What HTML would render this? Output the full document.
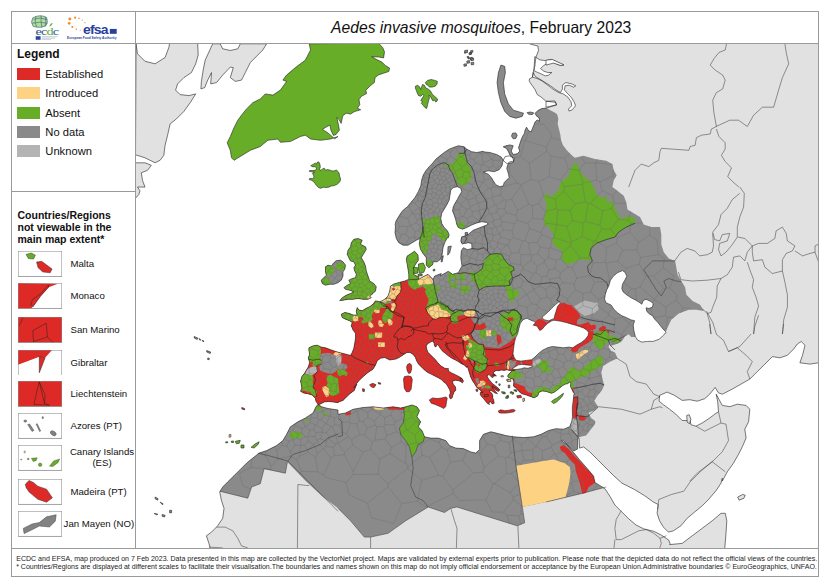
<!DOCTYPE html>
<html><head><meta charset="utf-8"><title>Aedes invasive mosquitoes, February 2023</title>
<style>
html,body{margin:0;padding:0;background:#fff;}
body{width:830px;height:587px;position:relative;overflow:hidden;font-family:"Liberation Sans",sans-serif;color:#111;}
.abs{position:absolute;}
.ln{position:absolute;background:#9a9a9a;}
.title{position:absolute;left:140.2px;top:19.2px;width:682px;text-align:center;font-size:15.66px;line-height:18px;color:#111;white-space:nowrap;}
.leg-h{position:absolute;left:17px;top:47.3px;font-weight:bold;font-size:12px;line-height:15px;}
.sw{position:absolute;left:17px;width:23px;height:12px;}
.lb{position:absolute;left:45.3px;font-size:11.2px;line-height:14px;white-space:nowrap;}
.h2{position:absolute;left:17.5px;top:208.5px;font-weight:bold;font-size:10.5px;line-height:12px;white-space:nowrap;}
.bx{position:absolute;left:17px;width:44px;height:25px;border:0.7px solid #8a8a8a;box-sizing:border-box;overflow:hidden;background:#fff}
.bl{position:absolute;left:70.5px;font-size:9.65px;line-height:12px;white-space:nowrap;}
.ft{position:absolute;left:16.2px;font-size:7.1px;line-height:8px;white-space:nowrap;color:#222;}
</style></head><body>
<svg width="830" height="587" viewBox="0 0 830 587" style="position:absolute;left:0;top:0">
<defs><clipPath id="mapclip"><rect x="136" y="43.5" width="682.5" height="504.5"/></clipPath>
<clipPath id="land"><path d="M529.9,43.5 L818.5,43.5 L818.5,362.8 L818.7,362.8 L810.0,364.1 L799.9,362.8 L802.5,355.3 L805.0,345.3 L801.2,341.5 L797.4,344.0 L793.7,349.0 L787.4,355.3 L779.9,357.8 L772.4,356.6 L764.9,364.1 L757.3,371.6 L749.8,379.1 L741.0,384.1 L732.3,389.1 L722.3,394.2 L718.5,392.9 L715.2,387.4 L709.7,394.2 L704.7,398.7 L697.2,401.2 L689.7,399.7 L682.2,400.4 L674.6,395.4 L667.1,392.1 L659.6,395.4 L659.1,401.2 L663.4,404.7 L669.6,409.2 L675.9,414.2 L682.2,420.5 L686.7,420.5 L689.7,418.0 L690.9,424.7 L695.9,426.2 L702.2,423.0 L709.7,418.0 L714.7,414.2 L718.5,411.7 L717.7,401.7 L716.2,394.2 L719.2,399.7 L722.3,405.4 L729.8,406.7 L737.3,404.2 L746.1,405.4 L749.8,409.2 L748.6,421.7 L744.8,429.2 L746.1,438.0 L742.3,446.8 L738.5,454.3 L733.5,463.1 L727.3,471.8 L722.3,481.1 L722.3,478.2 L721.0,483.2 L716.0,490.7 L708.5,499.5 L702.2,505.8 L694.7,512.0 L687.2,518.3 L680.9,525.8 L673.4,530.8 L668.4,532.1 L663.4,527.1 L659.6,520.8 L657.1,513.3 L658.3,504.5 L653.3,502.0 L644.6,495.7 L634.5,489.5 L622.0,483.2 L613.7,475.7 L604.9,466.9 L597.4,459.4 L589.9,451.9 L583.6,446.9 L579.6,448.1 L579.1,438.1 L577.8,438.1 L577.6,448.9 L573.6,451.1 L563.0,440.1 L561.5,440.6 L567.3,445.1 L573.6,452.6 L579.8,460.1 L587.4,468.7 L593.6,476.2 L594.9,482.4 L604.9,488.7 L609.9,496.2 L614.9,505.0 L621.2,511.3 L628.7,518.8 L636.2,525.1 L643.7,528.8 L653.8,531.3 L661.3,535.1 L668.8,540.1 L670.1,543.9 L669.6,544.6 L682.2,543.4 L692.2,535.8 L702.2,528.3 L712.2,520.8 L721.0,513.3 L725.3,513.3 L726.8,520.8 L726.0,533.3 L724.8,547.9 L724.8,552.0 L210.0,552.0 L210.2,547.9 L208.9,543.4 L206.4,535.8 L211.5,532.1 L217.7,525.8 L222.7,518.3 L224.0,508.3 L221.5,500.7 L219.7,492.0 L222.7,487.0 L227.7,481.9 L234.0,475.7 L240.3,469.4 L246.5,463.2 L252.8,458.1 L259.1,453.1 L266.6,450.6 L276.6,445.6 L282.9,440.6 L286.6,434.3 L290.4,426.8 L297.9,421.8 L305.4,418.0 L313.0,413.0 L316.0,406.8 L318.0,404.3 L321.7,406.8 L328.0,408.5 L338.0,410.0 L338.0,414.3 L345.5,413.0 L353.0,409.3 L363.1,407.5 L373.1,406.8 L383.1,408.0 L393.1,406.8 L400.7,408.0 L405.7,406.8 L411.9,405.0 L416.9,406.8 L419.5,410.5 L416.9,416.8 L420.7,421.8 L418.2,426.8 L422.0,430.6 L424.5,436.8 L430.7,438.1 L438.3,438.1 L445.8,440.6 L449.5,445.6 L455.8,448.1 L463.3,448.6 L470.8,451.9 L475.8,453.1 L479.6,449.4 L479.6,440.6 L483.4,434.3 L490.9,431.8 L498.4,433.6 L505.9,435.6 L513.4,436.8 L523.5,437.6 L533.5,436.8 L541.0,434.3 L546.0,431.8 L548.5,430.5 L556.0,428.7 L563.5,429.2 L569.8,426.7 L570.0,425.8 L571.7,421.7 L572.5,416.7 L572.3,407.4 L572.8,403.5 L573.3,399.7 L573.7,395.8 L574.2,393.3 L573.3,392.4 L571.8,389.0 L571.1,388.0 L570.5,386.1 L570.8,383.2 L569.7,382.0 L567.9,383.6 L565.5,384.1 L562.6,385.6 L559.7,388.0 L556.7,390.4 L553.8,392.4 L551.4,393.3 L549.0,392.4 L546.1,391.4 L542.2,390.9 L538.8,392.4 L537.8,395.8 L534.4,397.7 L532.0,397.2 L532.0,396.9 L529.6,396.2 L525.7,394.8 L521.8,393.8 L518.9,391.4 L516.9,388.5 L515.0,387.4 L513.5,386.1 L513.9,381.9 L512.9,379.0 L510.5,378.5 L508.1,377.0 L507.6,376.1 L509.5,373.2 L512.4,370.7 L515.3,369.8 L512.4,370.4 L509.5,370.4 L506.6,369.8 L504.2,370.4 L501.7,370.0 L498.8,370.7 L496.4,370.4 L494.0,371.7 L493.0,373.2 L495.0,374.6 L496.4,376.1 L494.0,375.6 L492.5,375.1 L493.5,377.0 L492.0,377.5 L490.6,376.1 L489.1,374.6 L487.7,375.1 L487.2,376.6 L488.6,379.0 L490.6,381.4 L492.0,383.3 L494.0,384.8 L495.9,386.3 L498.3,388.2 L499.8,390.1 L498.3,390.6 L496.4,389.2 L494.0,387.7 L492.0,386.7 L493.5,389.2 L495.4,391.6 L497.4,393.5 L495.0,393.1 L493.0,391.6 L491.1,390.6 L489.1,391.1 L492.0,393.5 L493.0,396.5 L492.2,396.6 L493.6,399.9 L494.2,403.2 L492.2,403.9 L490.2,401.2 L488.9,403.2 L489.6,404.5 L487.6,403.6 L485.6,401.2 L483.6,398.6 L481.6,396.6 L480.3,394.6 L480.3,392.6 L483.0,391.7 L482.3,393.1 L479.9,389.7 L477.0,387.7 L474.6,383.8 L472.6,380.9 L470.7,377.0 L469.2,372.2 L467.3,365.9 L466.7,367.5 L464.3,365.1 L461.9,363.9 L458.9,362.0 L455.9,360.2 L452.2,358.4 L448.6,356.0 L445.6,353.6 L442.6,351.2 L440.1,348.1 L438.3,345.1 L437.1,344.5 L435.9,346.9 L434.7,346.3 L434.1,343.3 L432.9,341.1 L430.5,342.1 L427.4,343.9 L426.2,346.3 L426.8,349.3 L428.0,352.4 L430.5,354.8 L432.9,357.2 L435.3,359.6 L437.7,362.6 L440.7,365.7 L444.4,368.1 L446.2,368.5 L448.6,368.7 L448.2,369.7 L449.2,371.7 L451.6,372.9 L455.3,374.7 L458.9,376.6 L461.9,378.4 L463.1,380.8 L461.9,382.0 L458.9,380.8 L455.3,380.2 L452.2,381.4 L453.4,384.4 L455.3,386.8 L455.9,389.9 L454.0,392.3 L452.8,395.3 L452.2,397.7 L450.4,398.9 L449.2,395.9 L450.4,392.9 L449.8,389.9 L448.0,386.8 L446.2,383.8 L443.8,382.0 L441.3,379.6 L438.3,377.8 L434.7,375.9 L431.1,374.1 L427.4,372.3 L424.4,369.9 L421.4,366.9 L418.4,363.9 L416.6,360.8 L415.3,357.2 L412.9,354.2 L409.9,352.4 L406.9,352.4 L403.3,354.8 L399.6,357.2 L396.0,359.0 L394.7,359.2 L389.7,360.0 L384.7,357.5 L380.5,358.3 L377.2,360.8 L375.5,365.0 L373.0,369.2 L368.0,372.5 L363.0,376.7 L358.8,380.8 L355.5,385.0 L353.8,387.8 L356.8,384.1 L354.3,390.4 L349.3,394.2 L343.0,400.4 L338.0,402.2 L338.3,402.7 L333.2,402.0 L328.1,401.4 L324.3,402.0 L320.4,404.0 L318.5,404.7 L316.0,401.4 L315.3,398.2 L312.1,395.0 L307.7,393.7 L303.8,393.1 L300.6,391.2 L301.9,388.0 L301.3,384.8 L300.6,381.0 L301.9,376.5 L304.5,373.3 L306.4,370.1 L308.3,366.9 L309.6,362.5 L308.3,358.0 L309.6,354.2 L308.9,350.3 L308.9,347.8 L312.8,345.9 L317.2,345.2 L321.1,347.1 L325.5,347.8 L330.7,349.7 L335.8,351.6 L340.9,352.9 L346.0,354.2 L350.4,355.4 L352.2,352.5 L353.8,348.3 L354.7,343.3 L355.5,338.3 L355.5,333.3 L353.0,330.0 L351.3,325.8 L352.2,322.5 L349.7,320.8 L345.5,319.2 L342.2,317.5 L341.3,314.2 L344.7,312.5 L348.8,313.3 L353.0,315.0 L357.2,315.0 L356.3,311.7 L357.2,307.5 L358.8,310.0 L362.2,310.8 L366.3,308.3 L369.7,306.7 L373.0,304.2 L375.5,300.8 L379.7,301.7 L382.2,300.7 L384.7,299.3 L388.0,296.0 L389.7,291.0 L390.5,286.0 L393.8,284.0 L399.7,282.3 L404.7,281.0 L408.8,279.3 L408.8,274.3 L408.0,269.3 L407.2,264.3 L406.3,259.3 L407.2,256.0 L411.3,253.5 L414.5,251.2 L418.0,255.0 L418.3,260.3 L415.5,264.2 L413.7,267.7 L414.5,271.5 L413.2,274.0 L416.0,275.8 L419.0,276.8 L418.3,279.8 L421.3,277.7 L428.0,274.3 L433.0,279.3 L434.7,276.0 L441.3,273.5 L440.0,276.0 L448.3,271.3 L452.5,274.3 L458.3,272.7 L462.0,266.0 L460.8,257.7 L461.3,251.0 L463.3,247.7 L467.5,249.7 L472.0,248.5 L471.7,243.5 L468.3,242.7 L465.0,243.5 L461.3,242.7 L461.7,237.7 L468.3,234.3 L473.3,230.2 L484.2,226.0 L488.3,224.2 L486.7,222.5 L481.7,221.7 L476.7,223.0 L471.7,225.0 L466.7,227.5 L462.5,229.2 L458.3,227.5 L456.7,224.2 L455.8,220.0 L454.2,215.0 L452.5,210.8 L453.3,206.7 L455.0,203.3 L457.5,199.2 L459.2,195.8 L461.7,191.7 L460.8,188.3 L457.5,186.7 L453.3,187.5 L450.8,190.0 L450.0,195.0 L449.2,200.0 L446.7,205.0 L444.2,209.2 L441.7,213.3 L440.8,218.3 L441.7,223.3 L444.2,227.5 L447.5,230.8 L449.2,235.0 L448.3,237.8 L447.2,237.7 L444.7,242.7 L443.0,247.7 L442.2,254.3 L440.5,259.3 L437.2,261.8 L433.0,261.8 L433.0,264.3 L428.8,267.7 L426.3,265.2 L426.3,260.2 L426.3,257.7 L423.0,253.5 L420.5,249.3 L419.3,244.3 L420.0,238.5 L416.3,240.2 L412.2,242.7 L408.0,245.2 L403.0,245.2 L398.8,242.7 L396.3,238.5 L395.0,232.7 L395.5,226.0 L395.1,224.6 L396.1,220.8 L400.7,213.3 L403.3,210.0 L407.5,206.7 L410.8,202.5 L415.0,197.5 L418.3,191.7 L420.8,185.8 L421.7,180.0 L423.3,175.0 L425.8,170.8 L429.2,166.7 L432.5,163.3 L435.8,159.2 L440.0,155.8 L444.2,152.5 L449.2,149.2 L453.3,147.5 L458.3,145.8 L464.2,146.7 L466.7,149.2 L471.7,151.7 L476.7,152.5 L483.3,151.3 L483.3,151.8 L489.9,152.5 L496.6,154.5 L501.2,157.1 L503.9,161.1 L507.2,163.8 L509.9,161.8 L513.8,161.1 L512.5,157.1 L509.9,155.1 L508.5,151.8 L506.5,148.5 L503.2,146.8 L505.9,145.8 L509.9,144.9 L513.2,145.8 L512.5,147.8 L511.2,151.1 L513.2,154.5 L517.2,153.8 L519.8,151.1 L518.5,147.8 L519.8,143.8 L521.1,139.9 L522.5,136.5 L524.5,133.2 L525.1,129.9 L526.5,127.2 L528.5,130.6 L531.1,131.9 L532.4,128.6 L533.8,125.2 L535.1,121.9 L537.1,119.9 L539.7,121.3 L539.1,117.9 L536.4,115.9 L535.1,113.3 L537.8,110.6 L541.7,108.6 L546.4,108.0 L551.8,106.4 L556.5,105.1 L555.8,102.4 L545.8,101.1 L541.2,97.1 L537.2,94.5 L535.2,89.8 L531.9,85.2 L529.2,81.2 L529.5,78.8 L532.5,77.2 L533.2,72.5 L534.8,66.6 L535.9,57.3 L538.5,50.6 L537.9,46.0 L529.9,44.0 L529.9,42.7Z M353.8,239.3 L358.0,238.5 L362.2,240.2 L360.5,244.3 L365.5,246.8 L366.3,249.3 L363.8,253.5 L361.3,257.7 L363.8,261.8 L365.5,266.0 L366.3,271.0 L368.0,276.0 L369.7,281.0 L373.8,283.5 L376.3,286.8 L375.5,291.0 L373.0,293.5 L369.7,296.0 L371.3,297.7 L368.0,299.3 L363.0,299.3 L358.0,298.5 L353.0,299.3 L348.0,299.3 L343.0,300.2 L339.7,300.7 L342.2,297.7 L346.3,295.2 L350.5,293.5 L353.8,291.8 L349.7,290.2 L345.5,289.3 L343.8,287.7 L347.2,285.2 L350.5,283.5 L348.8,280.2 L352.2,278.5 L355.5,277.7 L356.3,274.3 L354.7,271.0 L353.8,267.7 L355.5,265.2 L353.8,261.8 L350.5,261.0 L348.8,257.7 L347.2,254.3 L348.0,250.2 L350.5,246.8 L351.3,242.7Z M325.5,266.8 L328.0,265.2 L331.3,266.0 L333.8,262.7 L336.3,260.7 L340.5,260.2 L343.0,261.8 L345.5,265.2 L344.7,269.3 L343.0,271.8 L343.0,276.0 L341.3,280.2 L338.0,282.7 L333.8,284.3 L329.7,284.3 L325.5,285.2 L322.2,283.5 L321.3,280.2 L323.8,277.7 L326.3,275.2 L325.5,271.8Z"/></clipPath></defs>
<g clip-path="url(#mapclip)">
<g clip-path="url(#land)">
<rect x="130" y="40" width="700" height="520" fill="#e1e1e1"/>
<path d="M546.4,108.0 L549.7,110.0 L553.7,112.0 L557.0,113.9 L558.3,118.6 L557.7,123.9 L559.0,129.2 L560.3,134.5 L561.0,139.9 L563.0,145.2 L567.0,150.5 L572.3,155.8 L574.8,157.8 L583.6,155.8 L594.9,159.0 L606.2,160.8 L612.4,164.1 L613.7,170.3 L616.7,175.3 L613.7,180.4 L612.4,187.1 L617.4,190.8 L623.7,195.8 L626.2,202.0 L627.5,209.6 L633.7,213.3 L640.0,217.1 L643.7,224.6 L651.3,227.1 L660.0,227.1 L661.3,234.6 L661.3,244.6 L663.8,252.2 L668.8,258.4 L675.1,260.9 L676.3,267.2 L677.6,274.7 L681.3,281.0 L685.1,287.3 L686.4,294.8 L692.6,301.0 L700.1,304.8 L703.9,311.1 L696.4,309.8 L688.9,309.8 L678.8,313.6 L671.3,319.8 L667.6,327.4 L665.0,334.1 L655.0,330.0 L635.3,337.1 L631.1,337.1 L628.2,333.5 L625.3,335.7 L623.2,339.3 L621.0,342.1 L616.0,344.3 L610.3,346.0 L610.0,342.5 L608.6,347.1 L611.3,351.1 L615.0,352.4 L617.5,358.3 L610.0,361.7 L603.3,365.8 L601.3,372.5 L602.5,379.2 L604.2,385.0 L602.0,390.3 L597.5,395.8 L594.2,400.8 L598.3,407.0 L593.3,410.8 L588.3,413.0 L591.3,418.3 L595.3,421.3 L594.9,424.3 L586.1,435.6 L578.6,437.3 L578.8,449.4 L589.9,461.1 L602.4,478.2 L606.0,487.0 L581.0,493.7 L546.0,502.0 L522.2,507.0 L524.7,522.8 L517.2,525.8 L480.9,514.5 L457.0,507.0 L450.8,508.3 L444.5,512.5 L428.2,507.0 L405.7,520.8 L388.1,533.3 L370.6,537.1 L364.3,537.1 L350.5,520.8 L338.0,508.3 L323.0,497.0 L305.4,480.7 L287.4,461.9 L285.4,473.2 L264.1,468.7 L260.3,483.7 L251.6,487.0 L247.8,498.2 L219.7,491.2 L180.0,491.0 L180.0,44.0 L522.0,44.0 L522.0,100.0 L534.0,111.0 L540.0,108.0Z" fill="#8a8a8a"/>
<path d="M296.0,395.0 L296.0,340.0 L330.0,340.0 L345.0,292.0 L384.7,304.3 L391.3,303.0 L395.5,296.0 L398.0,291.0 L399.7,286.0 L400.5,281.8 L408.8,280.2 L414.7,284.3 L418.0,285.2 L423.0,286.8 L427.2,290.2 L429.7,296.0 L431.3,301.0 L428.0,306.0 L425.5,308.5 L430.0,305.0 L440.0,306.7 L450.0,310.0 L457.5,315.8 L465.0,315.0 L475.0,316.7 L478.3,318.3 L475.3,323.3 L473.7,330.0 L470.8,334.2 L473.3,339.2 L478.3,343.7 L483.3,344.7 L484.2,349.2 L500.0,350.0 L510.0,346.7 L513.3,343.7 L518.3,343.7 L512.9,354.7 L513.9,357.6 L516.3,359.6 L520.7,361.0 L520.7,363.9 L517.3,364.4 L514.4,370.2 L514.4,388.7 L514.0,406.5 L476.0,406.5 L470.0,400.5 L348.0,400.5 L344.0,405.3 L296.0,405.3Z" fill="#de2a26"/>
<path d="M532.2,325.2 L536.9,319.9 L540.2,318.6 L542.9,319.9 L546.8,322.5 L550.8,319.9 L552.2,320.8 L547.5,323.9 L544.9,326.1 L542.2,329.6 L539.8,330.9 L537.9,328.3 L536.6,326.4Z" fill="#de2a26"/>
<path d="M556.1,307.3 L559.5,303.9 L563.5,302.6 L567.4,304.6 L571.4,305.3 L574.1,308.6 L577.4,311.3 L579.4,313.9 L580.5,317.2 L577.4,319.9 L576.7,323.9 L580.1,324.8 L584.7,323.2 L588.7,321.9 L590.7,325.2 L595.3,324.5 L596.0,328.5 L592.7,329.9 L590.0,330.5 L592.7,332.5 L593.3,335.8 L591.4,339.2 L588.7,342.5 L584.7,344.5 L580.7,345.8 L577.4,347.8 L577.8,351.1 L575.4,352.4 L572.1,350.4 L570.8,347.1 L576.7,343.1 L584.7,337.8 L587.4,332.5 L584.7,329.2 L576.7,326.5 L566.1,323.2 L555.5,321.2 L552.8,318.6 L554.8,311.3Z" fill="#de2a26"/>
<path d="M599.3,328.5 L603.3,325.9 L606.0,327.2 L602.6,330.5 L600.0,331.2Z" fill="#de2a26"/>
<path d="M607.3,330.5 L609.3,331.2 L608.6,333.2Z" fill="#de2a26"/>
<path d="M598.9,328.5 L603.2,325.7 L606.0,327.1 L605.3,330.0 L601.7,332.1 L599.6,331.4Z" fill="#de2a26"/>
<path d="M606.7,330.7 L609.6,331.4 L608.2,333.5Z" fill="#de2a26"/>
<path d="M571.7,348.3 L575.8,345.8 L580.8,343.3 L585.0,340.8 L587.5,336.7 L590.0,333.3 L592.5,330.0 L594.2,334.2 L592.5,339.2 L588.3,342.5 L584.2,345.0 L580.0,347.5 L576.7,350.8 L573.3,352.5 L570.8,350.0Z" fill="#de2a26"/>
<path d="M521.7,361.3 L527.5,359.7 L532.5,359.3 L532.5,365.0 L527.5,365.3 L522.5,365.3Z" fill="#de2a26"/>
<path d="M513.1,382.2 L515.0,383.2 L517.9,384.1 L521.8,385.6 L524.7,386.6 L525.7,390.0 L528.6,392.4 L533.0,392.9 L532.0,397.7 L529.6,396.7 L525.7,395.3 L521.8,394.3 L518.9,391.9 L516.9,389.0 L514.0,388.0Z" fill="#de2a26"/>
<path d="M570.5,388.5 L572.5,387.8 L573.9,390.9 L574.6,393.6 L572.8,392.7 L571.1,390.4Z" fill="#de2a26"/>
<path d="M573.3,397.5 L577.5,396.7 L578.0,403.3 L576.7,410.0 L578.3,415.0 L575.8,418.3 L573.0,418.0 L572.7,410.0 L573.3,403.3Z" fill="#de2a26"/>
<path d="M578.3,415.8 L582.5,415.8 L586.7,418.3 L583.3,420.8 L579.2,420.0Z" fill="#de2a26"/>
<path d="M559.8,446.9 L563.5,445.1 L568.6,448.9 L573.6,455.1 L579.8,461.4 L586.1,468.2 L594.1,475.2 L595.1,482.7 L588.6,487.0 L586.1,492.7 L582.3,493.7 L579.8,483.2 L576.1,471.9 L574.8,464.4 L569.8,459.4 L564.8,453.1 L561.0,450.6Z" fill="#de2a26"/>
<path d="M345.0,413.5 L350.5,411.0 L351.0,414.5 L346.0,415.5Z" fill="#de2a26"/>
<path d="M386.9,406.3 L400.7,405.5 L405.2,407.5 L403.7,410.0 L399.4,409.8 L388.1,409.5Z" fill="#de2a26"/>
<path d="M470.8,318.3 L478.3,317.5 L485.0,313.3 L496.7,312.5 L503.3,316.7 L508.3,320.0 L511.7,325.0 L510.0,330.8 L512.5,335.8 L514.2,337.5 L510.0,341.7 L499.2,348.3 L485.0,346.7 L481.7,340.8 L480.0,336.7 L479.2,330.0 L475.0,330.0 L474.2,323.3Z" fill="#8a8a8a"/>
<path d="M512.9,361.0 L516.5,361.0 L515.5,364.9 L512.9,368.1 L510.3,369.5 L509.7,364.4 L509.0,359.6 L510.5,359.6Z" fill="#8a8a8a"/>
<path d="M505.6,362.5 L507.1,362.0 L506.8,368.8 L505.4,368.3Z" fill="#8a8a8a"/>
<path d="M475.5,378.5 L478.0,378.0 L479.4,381.9 L478.0,383.8 L476.0,382.4Z" fill="#8a8a8a"/>
<path d="M480.9,385.8 L484.3,385.3 L484.8,388.2 L481.8,388.7Z" fill="#8a8a8a"/>
<path d="M470.7,359.6 L473.1,359.6 L473.6,362.5 L471.7,363.0Z" fill="#8a8a8a"/>
<path d="M485.2,345.0 L498.8,345.0 L498.3,348.4 L489.1,349.4 L484.8,348.9Z" fill="#8a8a8a"/>
<path d="M320.4,354.2 L324.3,352.9 L329.4,352.9 L333.2,354.8 L336.4,355.4 L337.0,359.3 L337.0,365.0 L342.1,363.1 L346.6,364.4 L347.5,367.6 L345.3,370.1 L340.9,368.8 L337.7,369.5 L335.1,372.0 L331.3,374.0 L327.5,373.3 L323.6,372.0 L320.4,370.8 L319.2,367.6 L320.4,365.0 L321.7,361.8 L319.2,359.3 L320.4,356.1Z" fill="#8a8a8a"/>
<path d="M576.1,162.1 L579.8,170.3 L583.6,176.6 L589.9,180.4 L593.6,187.1 L596.1,194.5 L602.4,198.3 L606.2,195.8 L607.4,203.3 L612.4,200.8 L614.9,208.3 L621.2,219.6 L628.7,215.8 L635.0,218.3 L635.0,223.3 L626.2,227.1 L618.7,232.1 L614.9,237.1 L606.2,239.6 L596.1,243.4 L591.1,248.4 L589.9,254.7 L592.4,260.9 L586.1,259.7 L578.6,259.7 L571.1,263.4 L564.8,263.4 L561.0,257.2 L562.3,250.9 L556.0,247.2 L552.3,242.1 L553.5,234.6 L549.8,228.4 L546.0,224.6 L543.5,226.0 L545.0,215.0 L547.0,205.0 L544.0,197.0 L546.0,193.3 L551.0,197.0 L557.3,192.0 L559.8,187.0 L561.0,181.6 L568.6,176.6 L571.1,167.8Z" fill="#67ad27"/>
<path d="M444.2,162.5 L448.3,165.0 L453.3,163.3 L456.7,156.7 L459.2,153.3 L464.2,153.3 L465.0,158.3 L467.5,162.5 L470.0,166.7 L471.7,172.5 L470.8,180.0 L466.7,184.2 L461.7,185.8 L457.5,183.3 L455.8,177.5 L453.3,172.5 L449.2,167.5 L445.0,165.0Z" fill="#67ad27"/>
<path d="M455.8,223.3 L460.0,222.0 L464.2,223.3 L465.8,225.8 L463.3,228.3 L459.2,228.7 L456.7,226.7Z" fill="#67ad27"/>
<path d="M422.5,216.7 L427.5,220.0 L431.7,218.3 L434.2,215.8 L439.2,216.7 L440.8,220.0 L440.0,225.0 L442.5,228.3 L446.7,230.8 L448.3,235.0 L447.5,237.8 L449.7,231.0 L448.8,237.7 L444.7,241.8 L441.3,239.3 L438.0,236.0 L434.7,232.7 L433.0,234.3 L431.3,239.3 L428.8,242.7 L428.0,247.7 L426.3,253.5 L423.0,253.5 L420.5,249.3 L419.7,242.7 L420.5,234.3 L423.0,226.0 L423.3,233.3 L424.2,226.7 L423.3,221.7Z" fill="#67ad27"/>
<path d="M425.5,260.2 L433.0,260.2 L433.8,264.3 L428.8,268.5 L425.5,265.2Z" fill="#67ad27"/>
<path d="M405.5,256.0 L411.3,252.7 L415.5,249.3 L420.0,254.3 L420.3,261.0 L417.5,264.7 L416.3,267.7 L416.7,271.5 L415.5,274.0 L418.0,275.2 L421.0,276.8 L420.0,280.2 L418.0,279.3 L417.7,282.7 L419.7,285.2 L415.5,285.2 L411.3,283.5 L408.8,280.2 L408.0,274.3 L407.2,269.3 L406.3,264.3 L405.0,259.3Z" fill="#67ad27"/>
<path d="M407.8,280.7 L411.7,280.0 L417.5,279.5 L418.3,283.2 L420.9,285.1 L421.8,287.0 L416.5,288.5 L414.6,290.0 L410.7,287.5 L408.3,285.1Z" fill="#67ad27"/>
<path d="M423.0,284.3 L433.0,283.5 L434.7,287.7 L435.5,292.7 L437.2,297.7 L438.0,301.8 L434.7,303.5 L431.3,301.8 L430.0,296.0 L427.2,290.2 L423.8,286.8Z" fill="#67ad27"/>
<path d="M425.4,308.3 L429.3,305.3 L434.1,301.5 L437.0,300.0 L439.0,301.5 L443.8,303.9 L447.7,305.3 L448.7,308.7 L452.6,311.2 L456.5,312.1 L459.9,310.2 L462.3,309.7 L463.3,312.6 L461.3,314.6 L457.9,316.0 L456.9,318.0 L458.9,320.9 L457.4,322.8 L454.5,323.8 L452.1,322.8 L451.1,320.9 L450.1,318.4 L451.1,315.5 L450.1,314.1 L447.7,311.7 L444.8,310.2 L441.4,309.7 L440.0,306.8 L438.0,304.4 L434.1,305.8 L430.2,307.3 L426.8,309.7Z" fill="#67ad27"/>
<path d="M424.7,290.0 L437.2,290.0 L436.3,295.0 L438.0,300.0 L433.0,302.5 L426.3,306.7 L428.8,300.0 L426.3,295.0Z" fill="#67ad27"/>
<path d="M353.8,239.3 L358.0,238.5 L362.2,240.2 L360.5,244.3 L365.5,246.8 L366.3,249.3 L363.8,253.5 L361.3,257.7 L363.8,261.8 L365.5,266.0 L366.3,271.0 L368.0,276.0 L369.7,281.0 L373.8,283.5 L376.3,286.8 L375.5,291.0 L373.0,293.5 L369.7,296.0 L371.3,297.7 L368.0,299.3 L363.0,299.3 L358.0,298.5 L353.0,299.3 L348.0,299.3 L343.0,300.2 L339.7,300.7 L342.2,297.7 L346.3,295.2 L350.5,293.5 L353.8,291.8 L349.7,290.2 L345.5,289.3 L343.8,287.7 L347.2,285.2 L350.5,283.5 L348.8,280.2 L352.2,278.5 L355.5,277.7 L356.3,274.3 L354.7,271.0 L353.8,267.7 L355.5,265.2 L353.8,261.8 L350.5,261.0 L348.8,257.7 L347.2,254.3 L348.0,250.2 L350.5,246.8 L351.3,242.7Z" fill="#67ad27"/>
<path d="M324.7,266.0 L328.0,264.3 L332.2,266.0 L334.7,269.7 L332.2,274.3 L328.0,276.0 L324.7,272.7Z" fill="#67ad27"/>
<path d="M335.5,264.3 L338.8,261.8 L343.0,261.8 L346.3,265.2 L345.5,269.7 L342.2,270.7 L338.0,269.7 L336.0,267.3Z" fill="#67ad27"/>
<path d="M320.5,279.3 L323.8,276.8 L328.0,278.5 L331.0,281.8 L329.7,285.2 L325.5,286.0 L321.3,284.3Z" fill="#67ad27"/>
<path d="M368.8,334.2 L374.7,334.2 L374.7,339.2 L368.8,339.2Z" fill="#67ad27"/>
<path d="M485.0,259.3 L490.0,254.3 L496.7,253.5 L501.7,254.3 L504.2,259.3 L508.3,264.3 L513.3,266.8 L514.2,270.2 L510.8,271.8 L512.5,277.7 L509.2,281.0 L510.0,285.2 L505.0,286.0 L495.0,286.0 L485.0,286.8 L479.2,290.2 L476.7,284.3 L475.0,279.3 L474.2,274.3 L478.3,271.8 L482.5,268.5 L483.3,263.5Z" fill="#67ad27"/>
<path d="M505.0,286.0 L510.0,286.0 L513.3,290.2 L518.3,289.3 L517.5,294.3 L513.3,297.7 L510.8,301.8 L508.3,297.7 L506.7,291.8Z" fill="#67ad27"/>
<path d="M512.3,309.9 L516.3,310.6 L519.6,313.2 L521.6,316.6 L520.9,320.6 L518.9,323.2 L518.3,328.5 L517.6,333.8 L515.0,336.5 L511.0,337.2 L510.3,332.5 L505.0,329.9 L501.0,327.2 L499.7,316.6 L505.0,312.6 L509.0,311.9Z" fill="#67ad27"/>
<path d="M509.0,290.0 L518.3,290.0 L518.9,294.0 L515.6,298.0 L511.6,302.0 L509.0,299.3 L507.7,294.0Z" fill="#67ad27"/>
<path d="M448.3,272.7 L453.3,271.8 L457.5,276.0 L456.7,282.7 L457.5,287.7 L452.5,288.5 L449.2,284.3 L447.5,279.3Z" fill="#67ad27"/>
<path d="M459.2,273.5 L465.0,273.5 L465.0,281.0 L460.0,281.0Z" fill="#67ad27"/>
<path d="M470.0,271.8 L474.2,271.8 L475.8,281.8 L471.7,281.8Z" fill="#67ad27"/>
<path d="M460.8,286.0 L469.2,286.0 L469.2,292.7 L460.8,292.7Z" fill="#67ad27"/>
<path d="M434.7,286.8 L438.0,286.0 L440.5,287.7 L438.0,291.0 L435.5,291.8Z" fill="#67ad27"/>
<path d="M467.5,337.5 L471.7,340.0 L478.3,344.2 L483.3,345.0 L485.0,350.0 L483.3,355.0 L487.5,359.2 L486.7,363.3 L481.7,364.2 L478.3,362.5 L474.2,360.8 L470.0,358.3 L465.8,356.7 L467.5,350.0 L470.0,345.8Z" fill="#67ad27"/>
<path d="M465.8,345.0 L482.8,345.0 L483.8,349.9 L485.7,353.7 L484.3,356.7 L486.2,358.1 L488.6,360.5 L488.2,362.5 L485.7,363.0 L486.7,365.9 L485.7,369.3 L482.3,371.2 L478.9,373.2 L476.0,372.2 L474.1,369.3 L474.6,365.9 L477.0,363.9 L475.5,361.5 L473.1,359.6 L471.2,360.5 L469.2,358.6 L467.3,355.7 L468.3,351.8 L466.3,348.9Z" fill="#67ad27"/>
<path d="M479.2,330.0 L485.8,329.2 L487.5,335.8 L483.3,339.2 L480.0,336.7Z" fill="#67ad27"/>
<path d="M491.3,330.8 L495.8,330.8 L497.5,335.0 L493.3,335.8Z" fill="#67ad27"/>
<path d="M494.5,363.0 L497.4,362.5 L499.8,364.9 L496.9,365.9 L494.0,364.9Z" fill="#67ad27"/>
<path d="M484.8,385.8 L488.2,385.3 L491.1,387.2 L489.1,388.7 L485.2,388.2Z" fill="#67ad27"/>
<path d="M531.5,397.7 L533.0,392.4 L535.9,389.5 L540.2,387.5 L544.1,386.6 L548.0,388.5 L550.4,390.4 L553.3,388.5 L553.8,386.6 L556.7,385.1 L560.1,382.7 L562.6,378.3 L565.5,375.9 L567.4,371.5 L570.3,368.1 L573.3,367.1 L575.7,368.6 L577.1,371.0 L581.0,369.6 L584.9,366.7 L588.8,362.8 L592.7,359.9 L595.0,357.9 L602.4,355.0 L602.4,365.7 L595.0,369.6 L590.7,372.5 L586.8,375.4 L583.0,376.4 L579.1,377.8 L576.2,379.8 L573.3,380.7 L573.3,384.1 L573.7,387.0 L572.8,388.0 L571.3,388.5 L569.4,387.0 L567.9,385.1 L565.5,385.6 L562.6,387.0 L559.7,389.5 L556.7,391.9 L553.8,393.8 L551.4,394.8 L549.0,393.8 L546.1,392.9 L542.2,392.4 L539.3,393.8 L538.3,397.2 L534.4,399.2Z" fill="#67ad27"/>
<path d="M534.4,366.7 L538.3,364.7 L541.2,360.8 L544.1,360.3 L548.5,361.8 L549.0,365.7 L548.0,367.6 L550.9,369.6 L552.4,372.0 L550.9,373.0 L548.5,370.5 L546.1,372.0 L543.2,373.0 L541.7,370.5 L540.7,367.6 L537.3,367.1Z" fill="#67ad27"/>
<path d="M507.6,377.5 L509.0,373.2 L512.9,370.4 L516.3,370.0 L518.3,372.7 L522.1,374.1 L523.6,376.1 L521.2,377.5 L517.3,378.0 L514.4,378.5 L510.5,379.0Z" fill="#67ad27"/>
<path d="M532.3,393.5 L533.8,391.6 L536.7,390.1 L540.0,389.7 L543.5,390.6 L543.5,396.5 L536.7,397.9 L532.3,397.9Z" fill="#67ad27"/>
<path d="M593.3,334.5 L596.7,333.8 L600.7,334.5 L603.3,331.2 L606.0,329.9 L608.0,333.8 L611.3,336.5 L615.0,337.2 L615.0,339.8 L610.0,340.5 L606.0,343.1 L603.3,347.1 L600.7,349.8 L598.0,347.1 L597.3,343.1 L594.0,340.5 L592.7,336.5Z" fill="#67ad27"/>
<path d="M596.0,332.1 L600.3,331.4 L604.6,330.7 L606.7,333.5 L610.3,336.4 L616.0,337.1 L619.6,339.3 L620.3,342.1 L617.5,343.6 L613.2,341.4 L609.6,340.0 L606.0,342.1 L601.7,346.0 L596.0,347.8 L593.1,342.1Z" fill="#67ad27"/>
<path d="M405.7,405.5 L411.9,403.8 L418.2,405.5 L422.0,410.5 L419.5,416.8 L423.2,421.8 L420.7,426.8 L424.5,430.6 L425.7,437.6 L423.2,441.8 L418.2,444.4 L415.7,451.9 L411.9,456.9 L409.4,446.9 L405.7,440.6 L400.7,434.3 L399.4,428.1 L403.2,423.1 L404.4,415.5 L403.7,409.3Z" fill="#67ad27"/>
<path d="M290.4,433.0 L296.7,431.2 L302.9,434.3 L301.7,436.8 L294.2,438.8 L289.1,436.8Z" fill="#67ad27"/>
<path d="M323.0,412.9 L328.0,412.9 L326.7,415.5 L323.0,415.5Z" fill="#67ad27"/>
<path d="M315.5,405.4 L320.5,405.4 L321.7,410.4 L316.7,410.4Z" fill="#67ad27"/>
<path d="M305.4,418.7 L308.4,418.2 L308.4,421.2 L305.4,421.7Z" fill="#67ad27"/>
<path d="M307.7,347.8 L312.8,345.2 L317.2,344.6 L320.4,347.1 L321.1,351.6 L320.4,356.1 L319.2,359.3 L321.7,361.8 L320.4,365.0 L316.6,366.3 L312.8,365.7 L309.6,362.5 L307.0,358.0 L308.3,354.2Z" fill="#67ad27"/>
<path d="M299.4,381.0 L301.9,376.5 L305.1,373.3 L307.7,374.6 L312.1,375.2 L313.4,378.4 L312.8,382.3 L314.0,386.1 L312.8,388.6 L315.3,389.3 L317.2,391.8 L316.0,396.3 L312.1,395.0 L309.6,391.2 L307.7,393.7 L303.8,393.1 L299.4,391.2 L300.6,388.0 L300.0,384.8Z" fill="#67ad27"/>
<path d="M325.5,375.9 L330.7,374.8 L334.5,377.1 L338.3,378.4 L338.3,383.5 L339.0,388.6 L339.6,392.5 L337.0,394.4 L332.6,396.0 L330.0,395.0 L329.4,391.2 L328.1,387.4 L326.2,385.4 L327.5,383.5 L326.2,379.7Z" fill="#67ad27"/>
<path d="M337.0,370.1 L340.9,368.8 L345.3,370.8 L347.9,373.3 L346.6,375.9 L342.8,374.8 L339.6,376.5 L337.7,374.0Z" fill="#67ad27"/>
<path d="M366.4,361.8 L368.3,361.8 L368.3,363.4 L366.4,363.4Z" fill="#67ad27"/>
<path d="M338.8,312.5 L344.7,310.8 L351.3,312.5 L351.3,324.2 L345.5,320.3 L341.0,318.3Z" fill="#67ad27"/>
<path d="M349.1,313.8 L356.4,306.5 L359.4,306.1 L373.9,304.8 L377.3,299.3 L379.8,299.1 L380.2,301.9 L383.2,303.1 L385.8,305.3 L386.6,307.4 L384.1,308.2 L381.5,307.8 L379.8,309.9 L374.3,309.5 L373.9,311.6 L372.6,313.8 L371.7,316.3 L372.6,319.7 L370.4,321.4 L367.9,321.9 L365.8,323.1 L362.8,323.6 L361.1,321.4 L358.5,320.6 L355.1,321.4 L353.0,320.6 L349.1,323.1Z" fill="#67ad27"/>
<path d="M392.2,286.1 L394.3,284.1 L397.7,282.7 L400.7,283.1 L401.5,286.1 L400.3,286.5 L397.7,285.7 L394.3,286.9Z" fill="#67ad27"/>
<path d="M385.8,308.7 L387.9,308.2 L390.0,310.8 L392.6,312.1 L393.0,315.5 L392.2,318.9 L390.0,319.7 L387.5,318.9 L387.5,322.3 L384.9,323.1 L382.8,321.4 L381.9,318.0 L382.8,314.6 L384.9,312.1Z" fill="#67ad27"/>
<path d="M407.9,281.4 L411.3,277.6 L420.7,277.6 L420.7,285.7 L417.3,286.9 L415.2,289.5 L412.6,288.2 L409.6,286.1Z" fill="#67ad27"/>
<path d="M385.8,301.0 L388.8,300.6 L389.6,302.3 L387.5,303.6 L385.8,302.7Z" fill="#67ad27"/>
<path d="M516.4,465.7 L546.0,460.6 L553.5,459.4 L564.8,463.2 L569.8,466.9 L570.6,473.2 L569.1,483.2 L567.3,490.7 L565.5,497.0 L546.0,502.0 L522.2,507.0Z" fill="#fdd282"/>
<path d="M418.0,279.3 L421.3,277.7 L428.0,274.7 L430.5,277.7 L433.0,280.2 L433.0,283.5 L428.0,284.3 L423.0,284.3 L419.7,285.2 L417.7,282.7Z" fill="#fdd282"/>
<path d="M426.8,309.7 L430.2,307.3 L434.1,305.8 L438.0,304.4 L440.0,306.8 L441.4,309.7 L444.8,310.2 L447.7,311.7 L450.1,314.1 L451.1,315.5 L447.7,317.0 L443.8,317.5 L439.5,317.3 L436.1,319.2 L433.2,318.4 L430.2,316.0 L427.8,313.1Z" fill="#fdd282"/>
<path d="M464.2,311.7 L467.1,309.7 L472.0,309.7 L475.4,310.7 L475.1,314.6 L473.0,317.0 L468.1,316.5 L465.2,315.5 L463.7,313.6Z" fill="#fdd282"/>
<path d="M374.7,332.5 L382.2,332.5 L382.2,337.5 L375.5,337.5Z" fill="#fdd282"/>
<path d="M378.0,342.5 L384.7,342.5 L384.7,346.7 L378.3,346.7Z" fill="#fdd282"/>
<path d="M461.7,335.8 L467.5,335.0 L470.0,338.3 L465.8,340.8 L462.5,340.0Z" fill="#fdd282"/>
<path d="M468.3,343.3 L471.7,343.3 L471.7,347.5 L468.7,347.5Z" fill="#fdd282"/>
<path d="M466.8,350.3 L469.2,350.8 L469.7,354.7 L467.8,358.6 L465.3,360.5 L462.9,358.6 L464.4,355.7 L466.3,353.7Z" fill="#fdd282"/>
<path d="M468.7,345.0 L471.7,345.0 L471.2,347.4 L469.2,347.4Z" fill="#fdd282"/>
<path d="M507.1,360.0 L509.0,359.6 L509.7,364.4 L509.0,369.3 L507.1,369.8 L506.4,366.4 L507.4,363.4Z" fill="#fdd282"/>
<path d="M479.9,380.9 L483.3,380.4 L485.7,382.4 L485.2,384.8 L481.8,385.8 L479.4,387.2 L477.0,386.7 L478.0,384.3 L479.9,383.3Z" fill="#fdd282"/>
<path d="M485.8,330.8 L490.8,330.0 L491.3,335.8 L486.7,336.3Z" fill="#fdd282"/>
<path d="M575.8,354.2 L580.0,352.5 L583.3,350.0 L587.5,350.0 L588.3,351.7 L584.2,354.2 L580.8,356.7 L578.3,359.7 L576.3,357.5Z" fill="#fdd282"/>
<path d="M371.8,406.3 L384.4,406.3 L383.1,410.0 L375.6,409.5Z" fill="#fdd282"/>
<path d="M378.1,342.8 L384.4,342.8 L384.4,347.0 L378.6,347.0Z" fill="#fdd282"/>
<path d="M375.6,334.0 L381.9,334.0 L380.6,337.8 L375.6,337.8Z" fill="#fdd282"/>
<path d="M322.3,386.7 L325.5,386.1 L328.7,388.6 L329.6,392.5 L328.7,396.3 L326.2,396.9 L324.3,393.7 L322.7,390.6Z" fill="#fdd282"/>
<path d="M333.2,354.2 L335.1,352.2 L339.6,351.6 L341.5,354.2 L338.3,354.8 L336.4,356.1Z" fill="#fdd282"/>
<path d="M389.6,286.5 L392.6,286.1 L394.3,286.9 L397.7,285.7 L400.3,286.5 L401.1,289.1 L400.3,292.5 L397.7,295.0 L396.0,297.6 L394.3,300.1 L391.7,299.7 L390.0,301.0 L387.5,300.6 L385.8,302.3 L383.2,302.7 L380.2,301.4 L379.4,299.3 L382.4,298.0 L384.9,298.9 L387.5,298.0 L385.8,296.3 L387.5,293.3 L388.8,289.9Z" fill="#fdd282"/>
<path d="M390.9,303.6 L394.3,303.1 L396.0,305.3 L395.6,307.8 L394.3,310.4 L392.6,311.6 L390.9,309.5 L391.7,307.0Z" fill="#fdd282"/>
<path d="M374.3,309.5 L379.8,309.9 L379.4,312.9 L375.6,313.3 L373.9,311.6Z" fill="#fdd282"/>
<path d="M387.5,319.3 L390.0,318.9 L392.6,321.4 L392.2,324.8 L389.2,325.7 L387.9,322.7Z" fill="#fdd282"/>
<path d="M378.5,320.6 L381.1,320.2 L382.4,323.1 L384.1,324.4 L382.4,327.0 L379.4,326.6 L378.1,324.0Z" fill="#fdd282"/>
<path d="M352.6,318.0 L354.3,315.5 L358.1,316.8 L358.5,320.6 L355.1,321.4 L353.0,320.6Z" fill="#fdd282"/>
<path d="M368.3,321.4 L370.4,321.4 L372.6,324.0 L373.9,326.6 L371.3,328.3 L368.3,325.7Z" fill="#fdd282"/>
<path d="M367.0,296.3 L370.4,295.5 L373.4,297.2 L372.1,298.9 L369.2,298.9 L367.5,298.0Z" fill="#fdd282"/>
<path d="M574.1,306.6 L579.4,303.3 L584.7,300.6 L591.4,302.0 L596.7,303.3 L598.7,308.6 L595.3,312.6 L590.0,314.6 L584.7,315.9 L580.7,313.2 L576.7,309.9Z" fill="#b4b4b4"/>
<path d="M532.5,364.7 L533.4,361.8 L535.9,359.9 L539.3,358.9 L541.0,360.3 L539.8,362.8 L536.8,364.2 L534.4,366.2Z" fill="#b4b4b4"/>
<path d="M572.3,418.0 L577.3,424.3 L578.6,436.8 L571.1,428.1Z" fill="#b4b4b4"/>
<path d="M573.3,419.2 L576.7,420.0 L577.0,427.8 L571.7,427.8Z" fill="#b4b4b4"/>
<path d="M596.0,302.1 L598.1,302.8 L598.1,310.6 L596.0,310.6Z" fill="#b4b4b4"/>
<path d="M305.1,373.3 L307.0,369.5 L310.2,367.6 L314.0,366.3 L317.2,366.9 L317.9,370.8 L315.3,373.3 L312.1,375.2 L307.7,374.6Z" fill="#b4b4b4"/>
<path d="M335.8,356.7 L338.3,354.8 L341.5,355.4 L341.5,360.5 L340.9,363.7 L337.7,365.7 L336.4,361.8Z" fill="#b4b4b4"/>
<path d="M474.2,323.3 L480.0,325.0 L484.2,322.5 L486.7,327.5 L481.7,330.0 L475.0,330.0Z" fill="#de2a26"/>
<path d="M496.7,334.2 L500.8,335.8 L501.7,341.7 L498.3,345.8 L496.7,340.0Z" fill="#de2a26"/>
<path d="M481.7,340.8 L485.0,346.7 L499.2,348.3 L510.0,341.7 L514.2,337.5 L515.8,337.5 L515.8,344.2 L510.0,347.0 L500.0,350.3 L485.0,349.5 L483.0,345.0Z" fill="#de2a26"/>
<path d="M507.5,317.5 L513.3,317.5 L513.3,320.8 L507.5,320.8Z" fill="#de2a26"/>
<path d="M477.5,364.4 L479.4,363.9 L479.9,365.9 L478.0,366.4Z" fill="#de2a26"/>
<path d="M310.5,361.8 L312.8,361.8 L312.8,364.6 L310.5,364.6Z" fill="#de2a26"/>
<path d="M299.4,391.2 L303.8,390.6 L307.7,391.8 L307.7,394.4 L303.8,393.7 L299.4,392.5Z" fill="#de2a26"/>
<path d="M313.4,378.4 L315.3,373.3 L319.2,371.4 L323.6,372.7 L327.5,375.9 L326.2,379.7 L327.5,383.5 L325.5,386.1 L322.3,386.7 L319.2,388.6 L315.3,389.3 L312.8,388.6 L314.0,386.1 L312.8,382.3Z" fill="#de2a26"/>
<path d="M392.2,288.2 L394.3,287.8 L395.1,289.5 L393.4,290.8 L392.2,289.9Z" fill="#de2a26"/>
<path d="M358.5,316.8 L362.8,317.2 L363.2,319.7 L361.1,321.4 L358.5,320.6Z" fill="#de2a26"/>
<path d="M380.2,308.2 L384.1,308.2 L385.8,309.1 L384.9,312.1 L382.4,313.3 L379.8,312.9Z" fill="#de2a26"/>
<path d="M387.5,304.4 L390.0,304.0 L390.9,306.1 L389.2,307.8 L387.5,307.0Z" fill="#de2a26"/>
<path d="M391.3,299.7 L393.9,299.3 L394.7,302.3 L392.2,302.7Z" fill="#de2a26"/>
<path d="M450.8,277.7 L455.0,277.7 L455.0,283.5 L450.8,283.5Z" fill="#8a8a8a"/>
<path d="M334.7,260.2 L341.3,260.2 L341.3,263.0 L335.5,263.5Z" fill="#8a8a8a"/>
<path d="M543.6,124.1l7.7,9.7M371.7,517.9l21.9,5.5M242.9,485.9l-3.5-12.8M250.9,489.1l-7.9-3.2M649.6,235.4l0.0-8.8M649.6,235.4l-11.0,6.9M642.8,222.7l-12.2,0.8M630.7,223.5l-1.1,8.7M638.7,242.3l-9.0-10.1M251.2,467.5l19.3,1.7M251.2,467.5l-11.8,5.6M270.9,470.1l-0.4-0.9M251.9,458.9l-0.7,8.6M259.9,452.8l5.3,2.7M270.5,469.2l0.9-2.9M265.2,455.6l6.2,10.8M371.7,517.9l-4.2-14.9M349.3,495.0l18.2,8.0M656.8,239.9l-7.2-4.5M676.4,300.2l6.6,7.4M676.4,300.2l0.4-5.2M683.0,307.7l7.5,0.7M598.3,299.4l-7.5-7.6M598.3,299.4l-1.2,5.4M582.8,305.7l-0.0-12.2M582.8,305.7l9.6,2.7M590.7,291.8l-7.9,1.7M597.0,304.8l-4.6,3.6M691.1,309.8l-0.5-1.5M683.0,307.7l-2.5,5.3M426.1,507.0l27.3-13.6M459.0,500.5l-5.6-7.2M421.6,480.2l-13.9-11.7M421.6,480.2l-4.4,21.0M407.7,468.5l-19.9,15.4M401.7,503.6l15.5-2.4M401.7,503.6l-13.7-16.8M388.0,486.8l-0.1-2.9M393.6,523.4l8.1-19.8M426.1,507.0l-8.9-5.8M367.5,503.0l20.5-16.2M419.1,421.5l0.5-1.2M419.1,421.5l1.6,0.3M453.1,490.0l0.3,3.4M453.1,490.0l-10.4-13.7M421.6,480.2l17.3-4.9M442.7,476.2l-3.8-0.9M313.2,166.2l2.6-0.2M313.2,166.2l-0.3,0.6M315.8,166.0l2.2,4.7M313.2,170.5l2.1,2.0M315.3,172.5l2.7-1.7M312.2,164.8l1.0,1.4M317.4,162.2l1.0,1.1M318.3,163.4l-2.6,2.6M311.6,180.3l-0.1-1.7M319.9,170.9l-1.9-0.2M319.9,170.9l1.1,3.8M321.0,174.7l-3.2,3.6M315.3,172.5l-0.6,2.0M317.8,178.3l-3.1-3.8M314.7,174.5l-1.4,0.4M318.3,163.4l1.2-0.0M319.9,170.9l0.9-0.7M588.2,321.7l-12.5-4.8M588.2,321.7l3.6-3.0M582.8,305.7l-5.9,4.4M591.8,318.7l0.6-10.4M575.7,316.9l1.2-6.9M590.7,291.8l3.9-9.8M582.8,293.5l-7.2-3.7M576.8,278.2l12.9-2.7M576.8,278.2l-2.8,6.1M574.1,284.3l1.5,5.5M589.7,275.5l4.9,6.5M638.7,242.3l-2.0,7.6M636.7,249.9l-13.9,0.2M629.6,232.2l-12.3,5.2M622.8,250.1l-6.2-7.1M617.3,237.3l-0.7,5.7M605.0,296.6l-6.7,2.8M597.0,304.8l11.4,9.4M612.1,306.5l-3.7,7.8M602.4,320.7l6.2-5.2M602.4,320.7l-10.6-2.0M608.4,314.2l0.2,1.3M667.0,328.9l-0.6-0.3M674.0,317.6l-6.7-0.4M667.3,317.2l-0.9,11.4M676.4,300.2l-10.5,6.7M665.9,306.9l-0.1,8.4M667.3,317.2l-1.5-1.8M419.1,411.5l-1.4-1.7M417.7,409.8l0.3-1.5M509.0,523.3l-2.0-8.0M507.0,515.3l-3.6-3.1M491.7,512.0l11.7,0.2M459.0,500.5l27.0-0.7M491.7,512.0l-5.6-12.3M446.9,449.8l-5.3-2.4M446.9,449.8l3.7,12.2M450.6,462.0l-7.9,14.2M438.9,475.3l-9.2-17.8M441.6,447.3l-11.9,10.2M394.0,424.5l2.7,7.4M394.0,424.5l-8.8,0.2M396.7,431.9l-9.8,3.5M386.9,435.4l-3.2-8.9M385.2,424.7l-1.5,1.8M376.8,426.7l6.9-0.3M376.8,426.7l-1.9,13.6M374.8,440.3l10.1-1.3M385.0,439.0l2.0-3.6M406.5,430.2l0.9,0.0M406.5,430.2l-2.4-9.5M404.0,420.7l7.5-3.2M411.6,417.5l4.7,4.1M407.4,430.2l8.8-8.6M419.1,421.5l-0.6,0.4M417.7,409.8l-6.4,3.3M411.6,417.5l-0.3-4.3M418.5,421.9l-2.3-0.3M400.7,434.1l0.4,7.7M400.7,434.1l-4.0-2.1M385.0,439.0l6.5,8.3M401.1,441.7l-9.7,5.6M265.2,455.6l0.9-4.8M299.0,473.9l2.6-2.5M301.5,471.4l-5.0-11.7M277.8,459.2l-6.4,7.2M277.8,459.2l12.8-2.9M290.6,456.3l6.0,3.5M303.6,374.4l4.9,0.2M308.3,366.9l0.6,0.4M308.9,367.3l0.4,6.3M308.5,374.5l0.7-0.9M305.8,417.8l0.2,0.5M306.0,418.3l-2.9,3.1M303.0,421.3l-2.7-0.8M300.7,391.2l-0.1-0.1M320.3,391.5l-4.9-1.3M320.3,391.5l0.7,2.8M315.4,390.2l-3.8,4.7M321.0,394.3l-2.3,4.2M313.2,396.1l5.5,2.3M549.2,176.7l11.2,3.4M549.2,176.7l1.7-20.5M560.4,180.0l8.1-11.0M568.5,169.0l-4.0-10.7M550.9,156.1l13.6,2.2M546.9,151.4l-17.6,12.1M546.9,151.4l4.0,4.7M529.4,163.5l1.7,15.9M538.9,181.4l-7.8-2.0M538.9,181.4l10.3-4.7M311.8,180.4l5.5-0.8M317.8,178.3l0.0,0.4M317.3,179.6l0.5-0.8M315.7,184.4l1.9-1.0M317.3,179.6l0.3,3.8M567.6,298.9l-0.1,1.8M567.6,298.9l-9.7-5.8M567.5,300.6l-5.3,5.3M562.2,305.9l-3.7-0.6M555.3,304.8l-3.3-0.5M557.9,293.1l-7.5,5.6M552.0,304.4l-1.5-5.6M575.6,289.8l-8.0,9.0M576.9,310.0l-9.4-9.4M574.1,284.3l-11.5-1.9M562.5,282.4l-4.9,6.7M557.7,289.1l0.2,4.0M575.7,316.9l-4.4,3.3M571.3,320.2l-8.9-5.4M562.4,314.8l-0.2-8.9M562.4,314.8l-8.0,2.5M548.3,311.8l3.6-7.4M571.3,320.2l-0.8,3.6M553.4,318.8l-0.1,1.7M588.2,321.7l0.3,8.6M588.5,330.3l-0.8,0.9M570.2,210.5l5.1-6.7M570.2,210.5l2.5,10.1M572.7,220.5l10.4,2.4M575.2,203.7l10.2-1.8M585.2,221.5l2.8-18.1M585.2,221.5l-2.1,1.4M585.4,201.9l2.6,1.5M564.3,186.8l18.2-2.6M564.3,186.8l-0.6,4.6M563.7,191.3l11.5,12.4M582.5,184.1l2.9,17.8M563.7,191.3l-8.3,7.9M557.7,209.9l12.5,0.6M557.7,209.9l-1.4-1.4M556.3,208.5l-0.9-9.2M538.9,181.4l4.6,13.8M564.3,186.8l-4.0-6.7M555.4,199.3l-12.0-4.1M588.0,258.2l5.7-17.0M588.0,258.2l4.9,4.6M592.9,262.8l12.5-0.4M605.5,262.5l1.0-14.8M606.5,247.6l-10.6-7.2M593.8,241.2l2.1-0.8M617.3,237.3l-6.5-8.0M616.6,243.0l-10.1,4.6M610.8,229.3l-9.0-0.7M601.8,228.6l-6.0,11.8M599.8,225.1l2.0,3.5M599.8,225.1l-14.5-3.6M582.3,236.6l0.8-13.6M582.3,236.6l11.5,4.7M617.7,261.2l-11.4,1.8M617.7,261.2l8.3,7.3M606.3,263.0l3.4,18.5M626.0,268.4l-1.2,3.8M610.0,281.8l-0.3-0.3M622.8,250.1l-5.1,11.1M605.5,262.5l0.8,0.5M589.7,275.5l3.2-12.7M594.6,282.0l15.0-0.5M676.8,295.0l-7.0-7.0M669.8,288.0l4.3-12.1M653.1,316.6l-2.5-8.8M665.9,306.9l-11.6-7.3M665.8,315.4l-11.8,2.6M652.1,302.7l2.2-3.0M669.8,288.0l-6.5,0.2M663.3,288.2l-9.0,11.1M654.3,299.7l-0.0-0.4M666.4,328.5l-2.7,1.2M632.6,320.3l-3.3,2.9M629.3,323.2l0.2,1.0M629.5,324.2l4.1,3.7M527.0,294.2l6.6-4.6M527.0,294.2l4.4,9.5M533.6,289.6l6.7,9.3M540.4,298.9l-3.4,5.8M531.4,303.7l5.6,0.9M548.2,311.9l-9.9-4.4M540.4,298.9l6.8-1.8M547.2,297.1l3.3,1.6M537.0,304.7l1.3,2.8M622.1,317.6l-7.2,1.3M622.1,317.6l7.2,5.6M614.9,318.9l-0.8,12.2M629.5,324.2l-7.9,10.3M614.1,331.1l7.5,3.4M635.0,337.1l0.3-0.8M625.0,336.3l-3.3-1.2M621.7,335.0l-0.2-0.5M507.0,515.3l12.0,0.3M519.0,515.6l1.9,8.8M453.1,490.0l20.3-17.0M486.1,499.8l7.1-16.0M493.2,483.8l-10.2-11.7M473.4,473.0l9.6-0.8M450.6,462.0l12.2-1.3M473.4,473.0l-10.6-12.2M520.7,513.8l2.7,0.5M520.7,513.8l-1.7,1.7M455.1,350.0l-2.2,3.0M455.1,350.0l-0.4-0.7M448.9,346.6l0.2-0.1M448.9,346.6l0.0,5.2M454.7,349.3l-5.6-2.8M448.9,351.8l4.0,1.2M374.3,421.2l0.8,4.0M374.3,421.2l5.8-6.8M375.1,425.2l1.6,1.5M385.2,424.7l-0.6-7.1M384.6,417.6l-4.5-3.1M404.0,420.7l-2.7-1.7M411.3,413.1l-2.5-2.2M408.8,410.9l-7.7,1.6M401.1,412.5l0.2,6.5M394.0,424.5l1.3-2.8M384.6,417.6l6.3-2.5M390.9,415.1l4.3,6.6M406.5,430.2l-5.7,3.9M395.2,421.7l6.1-2.7M349.3,495.0l-3.2-12.3M325.4,477.2l20.8,5.5M387.9,483.8l-9.7-9.6M378.2,474.2l-24.8,0.3M346.1,482.7l7.2-8.2M374.8,440.3l-2.5,1.7M379.7,458.9l-9.0-9.4M379.7,458.9l10.4-5.3M390.1,453.6l1.3-6.3M372.3,442.1l-1.6,7.4M407.4,430.2l7.5,4.8M418.5,421.9l0.5,3.3M419.5,428.1l0.4,2.3M419.9,430.4l-5.0,4.6M419.9,430.4l2.3,0.6M440.9,439.0l-1.7,3.6M439.3,442.6l-9.5-3.7M429.6,437.9l0.2,1.0M405.9,445.3l-0.0,18.3M405.9,445.3l10.5-2.7M416.4,442.6l4.3,2.8M420.7,445.3l1.4,9.9M422.2,455.2l-14.3,11.4M407.9,466.7l-1.9-3.0M401.1,441.7l4.8,3.6M390.1,453.6l15.8,10.0M414.9,435.0l1.5,7.6M429.7,438.8l-9.0,6.5M439.3,442.6l2.4,4.8M429.7,457.5l-7.6-2.3M407.7,468.5l0.1-1.8M378.2,474.2l1.5-15.3M277.8,459.2l-1.0-8.7M276.8,450.4l-2.6-3.6M299.3,421.1l-4.3,3.7M294.3,424.2l0.6,0.7M300.7,381.2l6.4,1.1M301.5,389.1l6.4-3.1M307.1,382.4l0.8,3.6M308.5,374.5l0.4,4.8M307.1,382.4l1.9-3.0M308.7,394.0l-0.1,0.0M308.7,394.0l-0.6-7.8M308.1,386.2l-0.2-0.2M315.4,390.2l-1.2-3.4M309.9,394.4l-1.2-0.4M308.1,386.2l6.0,0.6M314.0,410.9l0.7-0.2M314.7,410.8l1.7-4.3M316.4,406.5l-0.1-0.1M318.7,398.6l-0.0-0.2M318.7,398.6l-2.4,3.2M375.1,425.2l-8.0,2.8M372.3,442.1l-7.7-7.1M367.2,428.1l-2.5,6.9M361.7,409.5l6.2,3.0M361.7,409.5l-4.6,1.7M357.1,411.2l2.6,10.2M367.9,417.3l-5.1,4.1M367.9,417.3l-0.0-4.8M362.9,421.4l-3.1-0.0M374.3,421.2l-6.4-3.9M367.2,428.1l-4.3-6.7M379.9,413.6l0.2,0.9M379.9,413.6l-7.8-4.1M372.1,409.5l-0.6,0.1M371.6,409.6l-3.6,2.8M356.5,423.8l3.3-2.4M356.5,423.8l3.4,10.8M364.7,435.0l-4.8-0.4M308.9,379.4l8.4,2.1M314.1,386.8l3.2-4.8M317.4,381.9l-0.1-0.5M335.5,434.0l-6.2,2.8M335.5,434.0l-3.4-7.4M332.2,426.7l-1.2-0.0M331.0,426.7l-4.7,6.3M326.3,432.9l3.1,3.9M326.2,423.6l4.7,3.1M326.2,423.6l-0.3,0.0M325.9,423.6l-4.2,5.0M321.8,428.7l0.4,3.4M326.3,432.9l-4.0-0.7M322.3,432.2l-0.2-0.2M326.2,423.6l3.7-7.2M330.0,416.4l0.8-0.3M330.7,416.0l3.7,1.7M332.2,426.7l2.2-1.9M334.4,417.8l-0.0,7.0M340.3,413.9l-1.0,1.9M330.7,416.0l0.1-7.1M339.3,415.8l-4.9,1.9M528.7,204.1l-11.1,6.3M528.7,204.1l-7.9-18.5M517.6,210.4l-5.9-11.3M520.8,185.6l-9.1,13.6M551.4,137.5l9.7,2.7M551.4,137.5l-0.1-3.7M551.4,137.5l-5.0,9.5M546.4,147.0l0.5,4.4M564.5,158.3l5.3-5.0M630.7,223.5l-2.3-3.3M630.8,211.6l-2.5,8.6M610.8,229.3l7.3-10.0M628.3,220.2l-10.2-0.9M612.5,195.6l1.8,7.5M612.5,195.6l-10.4-5.0M602.1,190.6l-11.9,12.6M614.3,203.1l-2.8,5.1M611.5,208.2l-8.8,2.7M590.3,203.3l12.4,7.6M616.9,190.3l-4.3,5.3M626.5,203.6l-12.1-0.5M618.1,219.3l-6.6-11.1M599.8,225.1l3.0-14.2M588.1,203.4l2.2-0.1M533.9,289.0l-0.2,0.6M533.9,289.0l5.8-2.9M547.2,297.1l-1.4-7.9M539.6,286.1l6.2,3.1M557.7,289.1l-7.2-3.4M545.8,289.2l4.7-3.5M527.0,294.2l-0.1-0.0M529.4,281.3l-6.3-0.0M529.4,281.3l4.5,7.7M523.1,281.3l-2.5,6.0M520.5,287.3l6.4,6.9M455.1,350.0l2.0,0.0M458.0,357.3l-4.8-2.4M458.0,357.3l1.5-1.4M452.9,353.0l0.2,1.9M459.5,355.9l-2.4-5.8M529.4,281.3l3.9-7.7M523.1,281.3l-4.2-5.5M533.3,273.6l-10.4-4.9M518.9,275.8l4.1-7.0M602.4,320.7l0.2,8.5M614.9,318.9l-6.2-3.4M614.1,331.1l-5.2,2.3M608.9,333.4l-6.2-4.2M588.5,330.3l7.6,2.1M602.6,329.2l-6.5,3.3M663.3,267.7l-9.7,8.4M663.3,267.7l0.9-9.3M658.5,254.6l5.7,3.8M658.5,254.6l-17.9,3.0M640.6,257.6l-1.4,6.4M639.2,264.1l6.9,12.3M646.1,276.4l7.5-0.3M663.3,288.2l-9.7-12.2M674.1,276.0l-10.8-8.3M656.8,239.9l1.7,14.7M636.7,249.9l3.9,7.7M626.0,268.4l13.2-4.4M654.3,299.3l-14.2-12.4M640.1,286.9l5.9-10.5M636.5,300.6l-1.1-11.7M626.7,294.8l5.0-6.3M631.7,288.6l3.7,0.3M640.1,286.9l-4.7,2.0M622.1,317.6l0.4-1.6M623.5,282.4l8.1,6.2M542.5,317.8l-2.7,2.6M538.3,307.5l-4.1,7.8M534.2,315.3l5.6,5.1M544.8,326.0l-1.6,0.2M543.2,326.2l-3.3-3.3M539.9,323.0l-0.1-2.6M455.1,387.5l-0.2-0.7M455.1,387.5l-2.9,1.9M448.7,387.3l2.7-3.4M448.7,387.3l0.2,0.6M454.9,386.8l-3.5-2.8M452.1,389.4l-3.2-1.5M449.7,397.0l1.5-0.6M451.1,396.5l0.2-3.4M451.4,393.0l-0.9-0.2M452.2,392.4l-0.8,0.7M452.2,392.4l-0.1-3.0M449.0,387.9l-0.1,0.3M451.1,396.5l1.2,0.7M522.0,450.5l2.0,9.5M522.0,450.5l10.6-0.7M532.5,449.8l1.0,10.4M533.5,460.2l-9.6-0.1M521.9,450.5l0.0,0.0M521.9,450.5l-11.2,2.3M510.7,452.8l-2.5,3.7M523.9,460.1l-3.3,4.2M508.2,456.6l12.5,7.7M446.9,449.8l5.0-3.2M462.8,460.7l4.3-10.4M503.4,512.2l9.9-12.4M520.7,513.8l0.6-8.4M521.2,505.4l-8.0-5.6M493.2,483.8l0.9-0.1M510.2,492.4l-16.0-8.8M510.2,492.4l2.8,4.4M513.0,496.8l0.3,3.0M545.1,502.2l-0.0-0.0M521.2,505.4l0.7-0.2M513.0,496.8l7.4-2.6M528.0,438.5l7.4,8.1M528.0,438.5l1.2-1.3M536.2,446.4l-0.8,0.1M536.2,446.4l6.4-9.6M539.7,434.8l2.9,2.1M591.7,490.8l4.0-3.3M454.7,349.3l0.2-5.1M449.1,346.5l1.3-3.2M454.9,344.2l-0.9-1.0M454.0,343.2l-3.6,0.0M458.0,361.5l0.1-0.2M456.4,360.6l1.2-0.1M457.6,360.5l0.5,0.8M458.0,357.3l-0.3,3.2M451.0,357.6l2.1-2.7M459.5,355.9l2.9-0.5M464.6,360.2l-2.2-4.9M464.6,360.2l-0.1,0.4M464.5,360.6l-3.7,2.1M460.8,362.7l-2.7-1.4M443.4,342.8l-2.6-0.7M443.4,342.8l1.1,3.8M440.8,342.2l-2.8,2.8M440.3,348.4l2.9-0.2M443.2,348.2l1.3-1.6M445.9,340.0l-2.5,2.8M445.9,340.0l-1.7-3.0M444.1,337.0l-2.8-0.1M441.4,336.9l-1.8,2.9M439.5,339.8l1.3,2.4M448.9,346.6l-4.4,0.1M445.9,340.0l3.1,0.3M449.0,340.3l1.5,3.0M342.6,432.4l4.0,1.5M342.6,432.4l-3.0-7.0M346.6,433.9l4.0-10.5M342.7,421.8l-3.1,3.6M342.7,421.8l7.1,0.6M349.8,422.4l0.9,1.1M348.3,436.9l-1.6-3.0M348.3,436.9l-10.4,6.4M335.6,434.0l2.1,9.3M335.6,434.0l7.1-1.6M337.9,443.4l-0.3-0.0M335.6,434.0l-0.0-0.0M334.4,424.7l5.2,0.6M348.3,436.9l3.5,2.5M351.7,439.5l8.2-4.8M356.5,423.8l-5.8-0.3M339.3,415.8l3.4,5.9M346.5,412.5l3.0,2.0M349.5,414.6l0.3,7.8M349.5,414.6l7.2-3.5M356.7,411.0l0.5,0.1M301.5,471.4l16.2,0.3M325.4,477.2l-1.7-2.2M317.7,471.8l5.9,3.2M379.9,413.6l3.2-5.6M390.9,415.1l1.5-4.5M392.4,410.6l-4.2-2.9M385.1,407.8l3.1,0.0M353.3,471.2l-9.1-16.4M353.3,471.2l9.8-19.1M352.5,444.9l10.6,7.2M352.5,444.9l-7.7,7.7M344.8,452.7l-0.7,2.1M353.3,474.5l-0.1-3.3M334.4,455.8l9.7-1.1M334.4,455.8l-3.4,2.5M331.0,458.3l-7.3,16.6M370.7,449.5l-7.7,2.5M351.7,439.5l0.8,5.5M337.9,443.4l6.9,9.3M314.0,358.7l4.3-4.3M314.0,358.7l-4.4-2.3M309.1,355.5l0.4,0.9M309.1,351.4l2.6-2.8M311.7,348.6l6.4,2.4M318.2,354.4l-0.2-3.4M314.8,364.6l-5.9,2.7M314.8,364.6l0.9-1.7M308.4,358.2l1.2-1.8M315.7,362.9l-1.7-4.3M311.7,346.4l-0.1,2.2M322.4,347.3l0.0,0.1M322.5,347.4l-4.4,3.6M330.0,416.4l-5.6-1.2M325.9,423.6l-4.9-3.8M321.0,419.9l3.3-4.7M333.8,398.4l0.2,2.9M333.8,398.4l4.1-4.6M334.0,401.3l3.3,1.2M337.9,393.8l4.5,5.4M341.8,400.8l0.6-1.6M317.4,381.4l7.6-4.3M317.4,381.4l-1.3-7.6M324.9,377.1l-4.3-5.4M316.0,373.8l2.2-2.1M318.2,371.7l2.4-0.0M309.2,373.6l6.8,0.2M317.3,381.5l0.0-0.1M314.8,364.6l3.4,7.1M333.4,447.1l2.3-3.1M333.4,447.1l-7.6-0.6M335.8,444.0l-7.0-4.8M325.9,446.5l0.6-5.3M328.8,439.2l-2.3,2.0M334.4,455.8l-1.0-8.7M337.6,443.3l-1.8,0.7M329.4,436.8l-0.6,2.4M322.3,432.2l-1.7,6.6M320.7,438.8l5.9,2.4M296.5,459.7l2.6-3.0M315.5,457.1l2.3,14.7M315.5,457.1l-7.5-5.0M299.2,456.7l8.8-4.6M322.2,432.0l-6.2,0.5M320.7,438.8l-3.4,1.7M317.2,440.5l-2.6-3.8M316.0,432.6l-1.3,4.1M328.9,408.7l-6.0,2.1M321.2,406.4l-0.1,0.2M321.1,406.6l1.8,4.1M334.0,401.3l-0.7,0.7M333.8,398.4l-5.7-3.1M327.5,395.7l-1.9,6.1M327.5,395.7l0.6-0.3M324.4,415.2l-1.7-3.8M322.7,411.3l0.2-0.6M321.0,394.3l6.5,1.4M318.7,398.6l4.6,3.9M316.4,406.5l4.8,0.1M314.7,410.8l2.9,2.3M317.6,413.1l5.0-1.8M317.6,183.4l2.3,1.9M319.8,185.2l0.3,1.7M319.6,188.0l0.5-1.0M522.8,240.9l2.0-0.4M522.8,240.9l-4.2,11.5M530.4,254.6l-1.9-11.7M530.4,254.6l-9.4,0.3M518.6,252.4l2.5,2.6M524.7,240.5l3.8,2.4M532.5,218.5l10.7,0.7M532.5,218.5l-0.0-12.7M532.5,205.7l5.7-1.9M538.2,203.8l7.6,7.6M545.8,211.4l-2.6,7.8M527.8,223.2l4.7-4.7M527.8,223.2l1.8,5.0M546.0,223.2l-5.0,9.4M546.0,223.2l-2.8-4.0M540.9,232.6l-11.4-4.3M528.7,204.1l3.8,1.7M517.6,210.4l-1.6,5.1M527.8,223.2l-10.4-2.9M516.0,215.5l1.4,4.8M531.1,179.4l-10.1,5.4M543.5,195.2l-5.3,8.6M520.8,185.6l0.1-0.7M556.3,208.5l-10.5,2.9M557.7,209.9l-1.0,14.6M556.7,224.5l-10.7-1.3M582.5,184.1l0.7-1.1M568.5,169.0l10.6,1.0M583.3,183.0l-4.1-12.9M581.1,156.4l3.8,6.6M579.1,170.1l5.7-7.1M533.3,273.6l2.5-0.9M539.6,286.1l2.5-9.2M535.8,272.8l6.3,4.1M526.9,307.2l1.4,9.1M526.9,307.2l-8.5-1.8M518.5,305.4l-1.2,2.5M517.3,307.9l2.3,10.0M519.5,317.9l4.1,1.7M528.4,316.3l-2.0,2.2M531.4,303.7l-4.4,3.5M534.2,315.3l-5.9,1.1M526.9,294.2l-9.7,6.4M517.2,300.6l1.2,4.8M534.6,325.5l5.3-2.5M520.5,287.3l-7.2,1.5M517.0,276.1l1.8-0.3M517.0,276.1l-5.2,6.7M513.4,288.8l-1.5-6.1M463.3,352.5l-4.4-3.5M463.3,352.5l1.9-3.2M465.3,349.3l-2.0-2.4M463.3,347.0l-4.2,1.9M459.0,349.0l0.1-0.1M457.1,350.1l1.9-1.0M462.4,355.4l1.1-1.4M463.5,354.0l-0.1-1.4M454.9,344.2l3.8,0.3M458.7,344.5l0.4,4.4M475.9,374.7l-3.7-1.9M475.9,374.7l2.2-3.0M472.2,372.8l-0.1-0.2M478.1,371.7l-0.3-0.6M472.1,372.6l1.4-3.2M477.9,371.1l-4.3-1.7M461.2,252.4l3.1,3.5M464.4,256.0l-3.3,3.6M499.1,233.9l-6.0,1.5M499.1,233.9l0.3,0.1M499.4,234.0l1.5,3.0M500.9,237.0l-3.2,5.5M493.1,235.5l-0.9,4.9M492.2,240.3l5.6,2.2M322.5,168.9l2.6,0.4M338.2,171.8l-0.1,0.1M338.1,171.8l-5.1-0.8M355.1,240.7l-0.1-0.0M355.1,240.7l1.7,2.2M356.8,242.9l-0.6,3.1M352.2,246.5l4.0-0.5M352.2,246.5l-1.0-3.5M352.0,241.8l3.0-1.1M572.7,352.3l3.5-0.8M572.7,352.3l-5.6-4.0M567.0,348.4l-0.3-1.0M576.9,345.0l-0.8,6.5M521.9,450.5l-0.4-5.2M532.5,449.8l2.9-3.2M528.0,438.5l-0.3,0.0M521.6,445.3l6.1-6.8M527.7,438.5l-1.3-1.1M510.7,452.8l-1.6-10.1M521.6,445.3l-7.9-6.3M509.1,442.7l4.6-3.7M516.1,437.0l-2.3,1.5M513.7,439.0l0.1-0.5M621.7,335.0l-0.9,4.5M608.9,333.4l-0.8,3.7M608.1,337.1l4.7,6.4M612.8,343.5l4.5-0.2M620.8,339.5l-3.5,3.7M458.6,312.1l2.9-3.7M458.6,312.1l0.5,1.7M459.1,313.8l4.5,0.7M463.3,308.7l-1.7-0.3M463.3,308.7l2.0,3.3M463.6,314.5l1.6-1.8M465.2,312.8l0.1-0.7M447.7,355.3l-1.1-2.2M446.6,353.1l-1.9-0.2M444.8,352.9l-0.0,0.0M448.9,351.8l-2.3,1.3M443.2,348.2l1.5,4.7M441.4,336.9l-1.8-2.6M439.5,339.8l-2.7-0.4M439.6,334.3l-3.6,1.7M436.0,336.0l0.8,3.4M439.6,334.3l0.1-1.0M433.4,332.2l0.4,2.7M433.4,332.2l3.5-1.3M436.0,336.0l-2.1-1.0M437.0,331.0l2.7,2.3M444.1,337.0l1.9-3.4M446.0,333.6l-3.0-3.1M439.7,333.3l3.2-2.8M433.0,322.0l3.1,1.3M433.0,322.0l2.3-4.3M436.1,323.4l2.3-1.8M435.3,317.7l2.4,0.4M438.4,321.5l-0.6-3.5M464.6,360.2l2.6-1.2M463.5,354.0l5.0,0.7M467.2,359.0l1.3-4.4M454.9,386.8l0.1-0.2M451.3,383.1l0.1,0.9M451.3,383.1l1.1-1.3M453.0,381.1l0.5-0.5M453.9,380.7l-0.4-0.2M448.7,387.3l-0.5-0.2M447.1,381.2l-1.8,1.2M447.1,381.2l4.2,1.9M445.4,382.4l0.0,0.8M446.0,368.4l1.1,3.0M447.1,371.4l1.9-0.1M451.4,372.8l-0.1,0.1M451.3,372.9l-0.2-0.2M447.1,381.2l1.0-4.2M453.4,377.7l0.1,2.8M453.4,377.7l-2.4-1.3M451.0,376.4l-2.9,0.6M452.2,392.4l1.6,0.4M455.4,387.8l-0.4-0.3M510.8,473.6l6.3-3.5M510.8,473.6l7.9,8.5M506.5,473.6l4.3,0.1M506.5,473.6l-0.8-15.7M505.7,457.9l2.5-1.3M520.7,464.3l-0.0,0.7M510.2,492.4l8.7-9.3M494.1,483.7l12.4-10.1M533.5,460.2l2.6,2.1M483.0,472.1l1.2-4.6M505.7,457.9l-7.6-2.1M498.1,455.8l-13.9,11.8M476.5,452.5l3.1,1.4M484.2,467.6l-4.6-13.6M552.0,445.1l8.4-3.4M552.0,445.1l-5.8-8.6M560.4,441.7l0.5-7.5M546.2,436.5l4.4-6.4M560.9,434.1l-0.6-0.8M551.6,429.8l8.7,3.5M546.2,436.5l-3.6,0.4M588.7,491.6l-4.4-2.0M584.3,489.6l-5.5,3.6M578.8,493.2l-0.0,1.0M552.3,500.4l1.0-0.1M454.0,343.2l1.7-3.5M455.7,339.8l-0.4-1.2M449.0,340.3l1.9-3.0M450.9,337.3l4.4,1.2M408.8,410.9l0.0-3.4M401.1,412.5l-2.7-2.9M400.4,408.0l-1.9,1.7M408.9,407.5l-1.3-1.3M426.5,368.8l-2.2,1.0M426.5,368.8l3.4,3.4M429.9,372.2l-0.2,0.6M429.7,372.8l-0.9,0.2M402.7,344.5l2.4-3.2M402.7,344.5l-3.1-0.4M400.2,338.6l-2.1,3.2M400.2,338.6l3.3,0.1M403.5,338.7l1.5,2.6M399.6,344.1l-1.5-2.3M390.8,343.8l3.8-1.9M390.8,343.8l-3.2-3.6M394.6,341.9l-1.8-4.1M387.7,340.2l3.7-2.7M391.4,337.5l1.5,0.3M421.7,318.9l-0.2-0.1M421.7,318.9l-0.2,5.9M421.5,318.8l-5.4,1.3M420.6,325.2l0.9-0.4M420.6,325.2l-4.5-2.1M416.2,323.1l-0.2-3.0M423.0,311.7l-3.1,3.2M423.0,311.7l0.3-0.0M419.9,315.0l1.5,3.8M423.3,311.7l2.4,4.9M421.7,318.9l2.6-0.5M424.2,318.4l1.5-1.7M429.3,316.3l-3.6,0.4M429.3,316.3l1.0,5.2M424.2,318.4l2.4,4.3M426.6,322.6l3.7-1.1M324.0,448.7l-7.2-6.6M324.0,448.7l-0.0,0.1M323.9,448.8l-6.6,4.5M317.4,453.3l-3.8-8.9M316.7,442.0l-3.1,2.3M313.6,444.4l0.0-0.0M317.2,440.5l-0.5,1.5M325.9,446.5l-1.9,2.2M331.0,458.3l-7.1-9.5M315.5,457.1l1.9-3.8M307.9,452.1l0.0-2.1M308.0,450.0l5.6-5.5M308.0,450.0l-3.7-4.5M308.2,441.1l-3.9,4.3M308.2,441.1l5.4,3.3M282.3,445.5l-0.8-3.8M282.3,445.5l4.8,1.0M287.1,446.5l1.4-5.2M288.5,441.2l-4.2-3.0M276.8,450.4l5.5-4.9M290.6,456.3l-0.1-4.3M290.5,452.0l-3.3-5.5M317.4,418.2l1.5,1.8M317.4,418.2l-6.2-0.5M318.9,420.0l-2.5,5.0M310.5,422.4l5.1,2.9M310.5,422.4l-0.4-3.6M315.6,425.4l0.8-0.4M310.2,418.9l1.1-1.1M321.0,419.9l-2.1,0.1M317.6,413.1l-0.2,5.1M311.1,414.3l0.2,3.4M321.8,428.7l-5.3-3.7M316.0,432.6l-2.4-3.1M313.5,429.5l2.1-4.2M306.0,418.3l4.2,0.6M337.9,393.8l0.0-0.1M337.9,393.8l5.2-3.0M345.4,398.1l-3.0,1.2M345.9,397.6l-0.6-4.7M343.1,390.8l2.2,2.0M356.7,411.0l-1.2-2.2M387.4,340.3l0.3-0.0M387.4,340.3l-2.3-4.2M390.0,335.1l1.3,2.4M390.0,335.1l-4.1-1.0M386.0,334.1l-0.9,2.0M295.1,425.6l-0.1-0.7M295.1,425.6l-2.2,4.6M288.0,431.6l2.0,0.2M292.9,430.2l-2.8,1.6M288.5,441.2l4.4-1.5M290.1,431.7l2.9,8.0M308.2,441.1l-1.0-4.1M314.7,436.7l-6.4-0.5M307.3,437.0l1.0-0.9M313.5,429.5l-3.8,0.8M308.3,436.2l1.4-5.9M310.5,422.4l-4.7,4.3M309.7,430.3l-3.8-3.5M303.0,421.3l2.1,5.4M295.1,425.6l7.3,3.0M302.4,428.5l2.8-1.8M305.2,426.7l0.7,0.1M391.4,331.2l-1.4,3.9M391.4,331.2l-4.2-1.3M386.0,334.1l-0.4-1.6M387.3,329.9l-1.7,2.5M385.1,336.0l-3.1,0.8M382.0,336.8l-1.9-3.4M380.1,333.4l2.4-1.7M385.6,332.4l-3.0-0.7M328.5,278.0l0.9,4.6M328.5,278.0l3.2-2.3M331.1,282.7l-1.7-0.1M331.1,282.7l3.7-4.6M331.7,275.7l3.1,2.4M328.5,278.0l-2.8-0.8M325.1,276.4l0.5,0.8M325.8,272.9l3.2-1.5M329.0,271.5l2.4,2.3M331.7,275.7l-0.3-1.9M325.6,277.2l-2.2,5.0M329.4,282.6l-1.3,0.9M323.5,282.2l0.6,0.5M328.0,283.5l-4.0-0.8M323.5,282.2l-1.3-0.2M321.6,281.3l0.6,0.6M352.2,246.5l-1.5,2.3M350.8,248.8l-1.6-0.2M356.2,246.0l2.0,2.3M350.8,248.8l1.3,2.4M352.0,251.2l5.3-0.9M357.4,250.2l0.8-1.9M405.8,245.2l-0.1-0.3M405.6,244.9l-6.9-2.8M398.7,242.1l-0.2,0.0M540.9,232.6l0.9,2.3M529.6,228.2l-4.9,12.3M528.6,242.9l8.6-0.4M541.8,234.8l-4.6,7.7M553.9,237.7l17.0,5.4M553.9,237.7l3.1-12.9M557.0,224.8l9.8,1.4M566.7,226.2l4.9,15.5M571.7,241.7l-0.8,1.5M556.7,224.5l0.3,0.3M541.8,234.8l10.3,4.0M552.1,238.8l1.8-1.1M572.7,220.5l-5.9,5.6M582.3,236.6l-10.6,5.1M570.7,245.7l-8.2,6.6M570.7,245.7l9.4,12.0M580.1,257.7l-7.8,9.8M560.9,258.1l1.7-5.8M560.9,258.1l7.5,9.0M572.3,267.5l-4.0-0.4M552.1,238.8l-1.8,8.7M550.3,247.5l12.2,4.8M570.8,243.1l-0.1,2.6M588.0,258.2l-7.9-0.5M576.8,278.2l-4.5-10.7M521.1,139.9l3.4,1.3M528.7,130.7l-3.2,10.0M525.6,140.7l-1.1,0.6M543.6,124.1l-9.2-0.4M546.4,147.0l-20.8-6.3M529.4,163.5l-9.0-7.1M520.4,156.4l4.1-15.1M506.4,200.4l-2.0-0.8M506.4,200.4l-1.8,8.7M504.3,199.5l-8.4,5.7M504.6,209.1l-6.7-0.4M496.0,205.2l1.9,3.5M511.7,199.1l-5.3,1.2M516.0,215.5l-9.7-3.0M506.2,212.4l-1.7-3.4M494.9,204.8l-2.9-6.8M494.9,204.8l1.1,0.4M500.4,195.2l3.9,4.3M500.4,195.2l-7.5,1.6M492.9,196.8l-1.0,1.2M599.8,182.0l-3.0-1.8M599.8,182.0l13.0-6.2M596.8,180.1l-1.3-17.0M612.6,164.8l-16.4-2.3M613.4,169.0l-0.7,6.7M596.2,162.6l-0.7,0.6M602.1,190.6l-2.4-8.7M583.3,183.0l13.5-2.9M615.1,178.0l-2.3-2.3M584.9,162.9l10.6,0.2M596.7,159.3l-0.5,3.2M522.5,266.8l0.4,2.0M522.5,266.8l8.8-6.5M535.8,272.8l1.4-6.6M537.3,266.2l-5.9-5.9M530.4,254.6l1.1,1.0M521.1,255.0l-0.6,9.8M520.5,264.7l2.1,2.0M531.5,255.6l-0.1,4.7M517.2,300.6l-3.8-2.5M513.4,288.8l-0.7,1.2M513.5,298.1l-0.9-8.0M517.0,276.1l-7.5-4.4M520.5,264.7l-9.6-1.3M510.8,263.5l-2.2,4.2M509.5,271.7l-0.8-4.0M469.6,345.1l-3.3-1.6M469.6,345.1l0.0,0.8M465.3,349.3l1.9-0.3M463.3,347.0l0.4-2.5M467.2,349.1l2.4-3.1M466.3,343.6l-2.7,0.9M458.7,344.5l1.8-2.1M463.7,344.5l-3.1-2.1M455.7,339.8l4.7,1.6M460.4,341.4l0.1,1.0M474.4,366.0l-1.1,2.6M474.4,366.0l-3.2-3.1M473.3,368.6l-3.5-0.6M469.8,368.0l-1.2-3.4M468.6,364.6l2.6-1.8M476.3,365.4l-1.9,0.6M476.3,365.4l2.4,2.4M477.9,371.1l0.8-3.3M473.5,369.4l-0.2-0.8M472.1,372.6l-3.0-0.7M468.4,369.6l1.4-1.6M471.5,361.2l-0.3,1.6M471.5,361.2l-0.2-0.4M467.3,364.5l-2.9-3.9M467.3,364.5l1.2,0.1M471.3,360.8l-4.1-1.8M476.7,345.6l-0.4,2.0M476.7,345.6l-4.6-2.6M469.6,345.1l1.9-2.0M472.1,343.0l-0.6,0.1M469.6,346.0l2.9,2.9M476.3,347.7l-3.8,1.2M490.0,348.1l-0.8,4.1M490.0,348.1l-3.6-1.4M486.4,346.6l-1.7,0.9M484.7,347.5l0.7,6.0M489.2,352.1l-3.8,1.3M471.5,361.2l6.0-0.7M476.3,365.4l1.6-2.9M477.9,362.5l-0.4-2.0M500.9,352.1l-3.4,0.3M500.9,352.1l0.9-4.5M501.8,347.5l-4.8-1.2M497.0,346.3l-1.7,4.1M497.5,352.4l-1.8-0.9M495.7,351.5l-0.4-1.1M502.0,357.3l-0.1-4.4M502.0,357.3l-1.3,0.7M501.9,352.9l-1.0-0.9M500.7,358.0l-3.2-0.9M497.5,357.1l0.0-4.7M515.0,340.3l-0.1-0.2M514.9,340.1l0.2-0.2M467.0,255.7l2.7,1.5M467.0,255.7l0.2-6.2M469.6,257.2l4.5-7.3M470.3,248.9l3.3,0.2M474.1,249.9l-0.5-0.8M499.4,234.0l4.6-4.0M500.9,237.0l9.4,3.0M513.5,237.4l-1.3-6.9M513.5,237.4l-3.2,2.7M504.1,230.0l8.1,0.5M522.8,240.9l-9.3-3.5M517.3,220.3l-2.7,3.2M514.6,223.5l-2.4,7.0M486.9,233.5l5.4,1.0M486.9,233.5l0.5-5.3M492.3,234.5l0.1-5.9M487.4,228.1l5.1,0.4M483.5,235.9l7.0,5.5M483.5,235.9l3.3-2.4M493.1,235.5l-0.8-1.0M492.2,240.3l-1.6,1.0M504.1,230.0l-3.2-4.7M514.6,223.5l-12.4-1.9M500.9,225.3l1.3-3.8M499.1,233.9l-3.0-6.7M500.9,225.3l-4.9,1.9M492.4,228.6l2.2-1.8M496.0,227.2l-1.4-0.4M442.6,244.2l-4.5,1.2M442.6,244.2l0.0,0.0M442.6,244.2l0.4,3.7M438.1,245.4l-0.6,3.8M437.4,249.2l5.1,1.2M442.7,250.3l-0.2,0.1M443.4,235.8l-0.7-2.1M443.4,235.8l-1.0,0.9M442.7,233.7l-6.0-1.6M442.4,236.7l-6.2-0.3M436.2,236.5l-0.9-1.9M435.2,234.6l1.5-2.4M442.6,244.2l1.7-0.4M443.4,235.8l1.1,0.3M442.6,244.2l-1.5-3.7M444.5,236.1l2.0,2.9M442.4,236.7l-1.3,3.8M444.5,236.1l4.4-1.9M461.3,251.3l0.2-0.7M442.7,233.7l0.4-2.4M443.1,231.3l2.6-2.3M487.4,228.1l-1.8-2.0M493.1,221.8l1.6,5.0M493.1,221.8l-6.1,1.0M485.7,225.3l-0.1,0.8M459.5,305.2l2.1,3.3M459.5,305.2l-1.5,0.3M458.6,312.1l-2.5-2.1M456.1,310.0l1.9-4.6M491.4,271.6l2.6,4.7M491.4,271.6l-1.4,0.2M490.0,271.9l-3.7,5.3M494.0,276.4l-3.0,3.8M491.0,280.2l-4.8-3.0M482.4,271.6l3.6-2.1M482.4,271.6l-3.5-3.4M478.9,268.3l-0.0-0.7M478.9,267.5l5.7-4.2M486.0,269.5l-0.2-4.8M485.8,264.7l-1.2-1.4M492.5,270.3l-0.8-5.2M492.5,270.3l-1.1,1.3M491.7,265.1l-5.8-0.4M490.0,271.9l-4.0-2.3M317.8,178.8l5.8,1.5M319.8,185.2l4.7-3.6M324.6,181.7l-0.9-1.4M321.0,174.7l3.3,1.0M323.6,180.3l0.6-4.6M325.3,169.6l0.8,5.0M324.3,175.7l1.8-1.0M398.7,242.1l2.3-7.5M395.1,231.4l2.5-0.6M397.6,230.7l3.4,3.9M396.7,219.9l3.0,6.2M397.6,230.7l2.1-4.6M397.8,218.0l2.6-1.5M401.3,212.5l-0.9,4.0M355.1,240.7l2.7-2.1M355.0,240.7l-0.5-1.5M572.7,352.3l-2.4,8.4M567.0,348.4l-3.4,5.8M563.7,354.2l3.2,6.7M570.2,360.7l-3.4,0.2M592.3,342.8l-2.5,4.9M592.3,342.8l-5.5-4.8M589.9,347.7l-5.4-0.6M586.8,338.0l-4.2,5.6M582.7,343.7l1.8,3.4M586.8,337.4l0.0,0.7M579.7,343.4l3.0,0.2M576.2,351.5l3.6,2.0M579.7,353.5l2.5-0.7M582.3,352.9l2.2-5.7M582.3,352.9l5.3,3.3M589.9,347.7l1.5,2.8M591.3,350.5l-3.8,5.6M597.9,339.7l5.7,1.1M597.9,339.7l-2.4,2.7M595.5,342.5l3.6,8.1M603.6,340.8l0.8,7.7M604.4,348.5l-5.3,2.1M608.1,337.1l-4.5,3.7M596.1,332.5l1.8,7.3M592.3,342.8l3.2-0.3M591.3,350.5l6.9,1.2M598.3,351.7l0.9-1.2M608.8,350.0l0.9-1.4M611.5,345.6l1.3-2.1M608.8,350.0l-4.4-1.6M486.3,393.2l0.8-3.8M486.3,393.2l1.6,2.1M487.8,395.2l3.7-1.2M490.1,389.2l-3.1,0.1M490.1,389.2l0.7,1.4M491.8,393.3l-0.2,0.7M509.1,442.7l-9.0-2.3M498.1,455.8l-3.3-9.8M500.1,440.4l-5.4,5.6M479.6,453.9l7.6-9.8M494.7,445.9l-7.6-1.8M481.5,437.4l2.1,0.6M487.2,444.1l-3.5-6.1M487.6,432.9l-3.9,5.1M592.0,474.3l-0.6,0.4M594.4,480.2l-3.1-3.0M591.3,477.2l0.2-2.5M595.8,487.6l0.7-4.1M583.0,482.2l8.3-5.0M583.0,482.2l1.3,7.4M608.8,350.0l1.2,2.0M609.9,352.0l3.5-0.1M617.3,343.3l0.1,0.4M609.4,357.2l4.9,2.6M609.4,357.2l0.6-5.2M620.8,339.5l1.2,1.3M460.3,336.8l1.8-4.1M460.3,336.8l-3.5-0.4M456.7,336.4l-0.5-2.6M456.2,333.8l2.4-2.8M458.6,331.0l3.5,1.7M455.3,338.5l1.4-2.2M461.5,339.4l-1.0,2.0M461.5,339.4l-1.2-2.6M437.8,327.2l1.3-0.1M437.8,327.2l-0.8,3.8M442.9,330.5l-0.0-0.3M439.1,327.1l3.8,3.2M470.4,317.8l0.7,1.6M470.4,317.8l-6.0-0.0M465.9,322.4l-2.3-2.6M465.9,322.4l3.0-0.3M464.4,317.8l-0.8,2.0M468.9,322.1l2.2-2.7M468.6,309.4l2.3,0.6M468.6,309.4l-3.3,2.7M465.2,312.8l5.6,2.4M470.9,310.0l-0.1,5.2M463.6,314.5l0.8,3.2M470.4,317.8l0.4-2.5M470.8,315.1l0.1,0.1M485.8,277.2l-3.6-3.1M485.8,277.2l-3.0,5.0M482.8,282.2l-4.1-2.9M478.6,279.3l0.2-3.5M478.9,275.8l3.3-1.7M486.3,277.2l-0.5,0.1M482.4,271.6l-0.2,2.5M433.0,322.0l-1.2,0.3M435.3,317.7l-1.4-1.9M429.3,316.3l0.4-0.4M431.8,322.3l-1.5-0.9M429.7,315.9l4.2-0.1M481.8,376.4l-2.3,1.1M481.8,376.4l0.2-0.8M475.9,374.7l0.2,1.7M478.1,371.7l2.2,0.7M482.0,375.7l-1.7-3.3M479.5,377.5l-3.4-1.1M472.2,372.8l-1.6,4.1M470.7,377.1l4.1,0.8M474.8,377.9l1.3-1.4M480.5,394.9l-0.0-0.1M480.4,394.7l0.1,0.1M474.8,377.9l0.1,2.9M473.0,381.5l1.9-0.8M467.3,364.5l-1.8,1.8M460.8,362.7l0.1,0.6M443.8,367.7l-1.8,2.8M439.6,370.4l2.3,0.2M439.6,370.4l-1.7-2.4M437.9,368.0l2.0-3.2M446.3,372.4l1.1,4.2M446.3,372.4l-3.3,0.1M447.4,376.6l-5.5,0.1M443.0,372.5l-1.3,3.7M441.9,376.7l-0.2-0.5M447.1,371.4l-0.8,1.0M451.3,372.9l-0.2,3.5M448.2,377.1l-0.7-0.5M441.9,370.5l1.1,2.0M439.6,370.4l-2.2,3.4M437.4,373.8l4.3,2.4M536.2,446.4l6.1,4.1M552.0,445.1l-0.5,2.3M551.4,447.4l-9.2,3.2M536.6,462.2l5.7-3.2M542.3,450.5l0.0,8.5M507.3,352.5l-5.4,0.5M507.3,352.5l1.9,4.1M502.0,357.3l3.1,1.4M505.1,358.7l4.1-2.1M513.5,355.4l-2.8,1.9M507.3,352.5l1.2-4.0M508.5,348.4l5.2-0.1M510.7,357.3l-1.6-0.7M540.1,356.9l1.6-3.3M540.1,356.9l-6.2,1.4M533.6,358.1l0.3,0.1M541.7,353.5l-1.1-1.7M543.2,326.2l-0.4,2.3M531.0,368.9l-0.9-1.3M528.7,365.2l-1.2-1.8M531.0,368.9l-6.2,5.3M522.4,372.7l2.4,1.5M522.4,372.7l0.3-4.4M524.6,364.7l2.8-1.4M528.4,360.1l-0.9,3.2M519.1,360.8l-0.7,1.8M518.4,362.6l2.8,2.0M571.6,483.4l2.2,8.0M571.6,483.4l-2.6,0.3M573.8,491.4l-6.5,3.6M567.3,494.9l-1.0-0.5M572.9,481.8l7.9-1.0M572.9,481.8l-1.3,1.6M580.8,480.8l2.2,1.4M578.8,493.2l-4.9-1.9M572.9,481.8l-2.5-8.0M567.7,496.8l-0.5-1.9M556.5,499.5l0.1-0.2M446.9,333.5l2.5-3.0M446.9,333.5l3.9,3.2M450.8,336.7l2.1-3.4M449.4,330.5l2.6,0.5M452.9,333.3l-0.9-2.2M446.0,333.6l0.9-0.1M450.9,337.3l-0.1-0.6M456.2,333.8l-3.3-0.5M429.7,372.8l0.3,0.8M428.6,364.4l-1.2,0.7M428.6,364.4l0.6,0.0M427.4,365.1l-0.9,3.7M429.9,372.2l2.5-2.3M429.2,364.4l3.2,5.5M437.9,368.0l-2.7,0.2M437.4,373.8l-0.7,0.1M436.7,373.9l-3.1-4.1M435.2,368.2l-1.6,1.6M436.7,373.9l-1.5,2.0M433.8,375.5l1.4,0.4M433.6,369.8l-1.2,0.1M433.1,360.6l-0.2,1.7M433.1,360.6l1.3-1.6M434.4,359.0l0.3,0.0M432.9,362.3l1.2,0.9M434.1,363.2l4.5,0.2M428.0,356.9l-1.7,0.9M428.0,356.9l5.0,3.7M426.3,357.9l-0.1,0.5M426.2,358.4l2.5,6.1M429.2,364.4l3.6-2.1M428.0,356.9l1.3-2.6M429.4,354.3l0.7,0.1M434.4,358.7l0.0,0.3M435.2,368.2l-1.2-5.0M392.4,410.6l4.1-1.6M398.5,409.6l-1.3-0.5M396.5,409.1l0.6,0.0M388.2,407.8l0.1-0.4M396.5,409.1l-0.8-1.9M397.1,409.1l0.5-1.6M408.9,407.5l2.9-2.4M423.0,361.3l1.6,3.3M423.0,361.3l-3.8-0.5M419.2,360.8l-0.2,0.3M418.9,361.1l1.4,4.7M424.5,364.6l-2.8,1.8M421.7,366.4l-1.1-0.3M426.2,358.4l-3.2,2.9M427.4,365.1l-2.9-0.5M426.3,357.9l-3.1-2.1M418.9,358.0l4.3-2.2M418.9,358.0l0.2,2.8M417.2,361.8l1.8-0.7M422.4,367.9l-0.6-1.5M399.7,354.1l0.6-0.4M399.7,354.1l-5.3-1.2M400.3,353.7l-0.9-4.6M394.4,353.0l0.8-4.5M399.3,349.1l-1.3-0.9M398.0,348.3l-2.8,0.1M395.2,348.4l-0.0,0.0M398.7,356.9l0.4,0.6M398.7,356.9l1.0-2.8M403.0,355.0l-0.7-1.0M402.2,354.0l-2.0-0.3M403.7,347.9l-4.4,1.2M403.7,347.9l-1.0-3.4M399.6,344.1l-1.6,4.2M395.1,342.1l0.1,6.3M395.1,342.1l3.0-0.3M390.7,344.7l2.2,3.2M390.7,344.7l-4.1,2.3M392.8,347.9l-4.5,2.6M386.6,347.0l1.8,3.6M395.1,342.1l-0.5-0.2M390.8,343.8l-0.2,0.9M395.2,348.4l-2.4-0.5M387.4,340.3l-2.1,1.6M385.3,341.9l1.1,4.9M386.4,346.8l0.2,0.1M418.9,358.0l-1.5-1.5M419.2,352.4l-1.8,2.3M419.2,352.4l3.7,0.3M423.2,355.8l-0.3-3.1M417.5,356.5l-0.1-1.9M417.5,356.5l-2.3,0.5M422.9,352.7l1.7-2.5M429.4,354.3l-0.2-0.8M424.7,350.2l3.3,1.9M419.2,352.4l-1.0-2.9M418.2,349.5l2.0-2.6M420.2,346.9l4.5,3.3M424.7,350.2l-0.0-0.1M418.2,349.5l-2.7,0.1M417.4,354.6l-3.4-2.5M415.5,349.6l-1.5,2.5M412.0,353.6l0.0-1.0M412.0,352.6l2.0-0.5M421.5,324.8l2.7,0.4M426.6,322.6l-1.1,1.9M424.2,325.2l1.4-0.7M420.6,325.2l-1.4,4.4M424.2,325.2l0.7,4.4M424.9,329.6l-2.4,2.0M422.4,331.6l-3.2-2.1M413.2,326.1l4.3,4.0M413.2,326.1l0.0-0.1M413.2,326.0l3.0-2.9M419.2,329.5l-1.8,0.6M372.1,409.5l1.8-2.7M371.6,409.6l-1.3-2.6M327.4,382.2l4.2,1.8M327.4,382.2l-4.3,4.5M331.6,384.0l-1.8,6.6M323.1,387.5l-0.1-0.8M323.1,387.5l6.2,3.5M329.3,391.0l0.6-0.4M317.4,381.9l5.7,4.7M325.9,377.3l1.5,4.9M325.9,377.3l-0.9-0.2M336.1,391.7l0.5-7.6M336.1,391.7l-6.3-1.1M336.7,384.1l-2.2-0.9M334.4,383.1l-2.8,0.9M320.3,391.5l2.8-4.1M328.0,395.3l1.2-4.4M337.9,393.8l-1.7-2.1M398.7,356.9l-3.5,1.2M395.2,358.0l0.3,1.0M361.7,409.5l0.3-1.8M322.5,347.4l0.5,0.2M318.2,354.4l4.5,2.5M323.0,347.6l3.0,7.4M325.9,354.9l-3.2,1.9M315.7,362.9l6.3-0.4M322.8,356.9l-0.8,5.6M320.6,371.7l3.2-3.6M323.8,368.1l-1.0-4.9M322.0,362.5l0.8,0.6M332.1,350.2l0.4,1.0M323.4,347.5l-0.5,0.1M325.9,354.9l4.2,0.8M332.5,351.2l-2.3,4.5M329.4,361.8l-6.6,1.4M329.4,361.8l1.4-4.4M330.8,357.4l-0.7-1.6M343.6,388.4l-0.5,2.4M343.6,388.4l-1.8-3.4M336.7,384.1l2.2-0.4M341.8,385.1l-2.9-1.4M323.8,368.1l6.8,1.9M329.4,361.8l3.3,5.7M332.7,367.4l-2.1,2.5M325.9,377.3l4.5-3.3M330.6,370.0l-0.2,4.1M334.4,383.1l-0.5-6.6M330.3,374.0l3.6,2.5M290.5,452.0l4.6-6.8M292.9,439.8l0.2,0.1M293.1,439.9l2.0,5.3M299.2,456.7l1.6-11.3M295.1,445.2l5.7,0.2M304.3,445.4l-3.1-0.3M300.8,445.4l0.4-0.3M301.6,432.5l3.8,4.2M301.6,432.5l-3.6,1.5M305.3,436.7l-4.7,3.3M298.0,433.9l-0.9,4.1M300.7,440.0l-3.6-2.0M307.3,437.0l-1.9-0.3M302.4,428.5l-0.9,3.9M292.9,430.2l5.1,3.8M301.2,445.1l-0.5-5.1M293.1,439.9l3.9-1.8M416.0,278.8l-8.0,4.1M416.0,278.8l-0.4,5.6M415.6,284.5l-2.6,3.2M413.0,287.6l-3.3-1.5M409.7,286.2l-1.6-3.3M413.2,326.1l-2.3,2.3M415.3,333.9l-2.5-0.3M415.3,333.9l0.2-0.1M412.8,333.6l-2.3-2.3M415.5,333.8l2.0-3.7M410.9,328.4l-0.4,2.9M395.0,332.1l0.0,3.9M395.0,332.1l0.6-0.4M395.5,331.7l4.6,0.5M395.0,336.0l4.0,0.9M399.0,336.9l1.2-4.7M391.4,331.2l0.4-0.2M391.8,331.0l3.2,1.0M392.8,337.8l2.2-1.8M391.8,331.0l0.7-5.1M396.6,327.1l-1.1,4.6M396.6,327.1l-1.5-1.4M392.5,326.0l2.5-0.2M400.2,338.6l-1.3-1.7M378.2,333.1l1.9,0.3M378.2,333.1l-0.1-4.8M382.5,331.7l-0.7-2.9M378.1,328.3l3.7,0.5M387.3,329.9l-0.5-2.5M386.8,327.4l-2.9-1.1M381.8,328.8l2.1-2.4M403.4,281.3l0.8,0.8M398.8,282.6l-1.3,6.7M404.2,282.2l-0.4,3.3M403.9,285.5l-3.9,5.0M397.5,289.3l2.4,1.2M402.6,319.0l-1.4,4.4M402.6,319.0l-5.0-0.0M397.7,319.0l-1.2,1.9M400.8,323.6l-4.1-2.0M400.8,323.6l0.5-0.2M396.5,320.9l0.2,0.7M396.6,327.1l2.6,0.1M399.2,327.2l1.6-3.7M395.1,325.7l1.6-4.2M406.1,324.4l-0.4-4.1M406.1,324.4l4.2-1.4M405.7,320.3l3.5-1.5M410.3,323.0l0.2-3.2M409.2,318.8l1.3,1.0M403.0,318.8l2.7,1.5M403.0,318.8l-0.3,0.2M405.5,325.4l-4.3-2.0M405.5,325.4l0.6-1.0M413.2,326.0l-2.9-2.9M405.5,325.4l0.1,0.8M405.6,326.2l5.3,2.2M403.3,315.6l5.4-0.9M403.3,315.6l-0.3,3.2M408.7,314.7l0.5,4.1M416.0,320.1l-1.0-1.1M415.0,318.9l-4.6,0.9M323.7,284.3l0.3-1.6M328.0,283.5l0.0,1.1M322.2,281.9l-0.4,0.4M372.1,284.6l0.1,1.2M372.1,284.6l2.0-0.8M376.2,287.4l-1.4,0.4M372.2,285.8l2.7,2.1M372.1,284.6l-1.7-2.1M370.4,282.5l0.5-0.8M361.4,239.8l0.0,0.1M361.9,240.1l-0.5-0.1M356.8,242.9l3.5-0.4M361.4,239.9l-1.1,2.5M351.8,252.9l-4.6,1.2M351.8,252.9l0.2-1.8M460.2,146.7l4.5,1.6M465.4,147.9l-0.8,0.4M480.2,171.5l-2.2,0.7M480.2,171.5l1.5-6.5M471.3,167.7l4.1-5.1M471.3,167.7l0.2,1.3M478.0,172.2l-6.5-3.1M481.6,165.0l-6.2-2.4M549.2,269.8l5.6-1.4M549.2,269.8l-3.0,6.3M549.9,279.1l-3.6-2.9M549.9,279.1l9.9-1.4M554.7,268.4l5.7,4.2M560.4,272.6l-0.7,5.1M542.1,276.9l4.1-0.7M537.3,266.2l6.9-4.0M544.1,262.2l5.0,7.6M550.4,285.7l-0.6-6.6M562.5,282.4l-2.8-4.7M560.9,258.1l-4.7,2.2M568.4,267.1l-8.0,5.5M556.1,260.3l-1.4,8.1M540.4,247.4l9.0,1.0M540.4,247.4l-2.9,6.4M537.5,253.8l7.4,6.2M549.4,248.3l-1.1,9.3M548.3,257.6l-3.4,2.4M537.2,242.5l3.2,4.8M550.3,247.5l-0.9,0.8M531.5,255.6l6.0-1.8M544.1,262.2l0.8-2.2M556.1,260.3l-7.8-2.7M505.8,289.6l0.1,0.1M505.8,289.6l-6.7-0.0M505.9,289.7l-2.7,5.1M503.3,294.9l-4.8-1.8M498.5,293.1l-0.0-2.9M499.1,289.6l-0.6,0.5M511.8,282.7l-6.5-2.7M505.3,280.0l-1.5,4.8M503.8,284.8l2.0,4.8M512.6,290.0l-6.7-0.3M503.8,284.8l-3.8,1.0M500.0,285.8l-0.9,3.8M509.1,299.6l4.3-1.6M509.1,299.6l-5.5-3.7M503.6,295.9l-0.4-1.0M500.6,298.9l-2.7-1.4M500.6,298.9l3.0-3.0M497.9,297.4l0.4-4.1M498.3,293.3l0.2-0.3M519.5,317.9l-6.4,2.3M513.1,320.2l-1.3,2.5M518.6,330.1l-4.2-0.9M511.8,322.7l2.5,6.5M513.1,320.2l-4.2-5.2M511.8,322.7l-4.6,1.2M503.8,321.0l3.5,2.8M503.8,321.0l0.4-3.9M504.2,317.1l4.7-2.1M496.5,276.6l3.3-3.4M496.5,276.6l2.2,3.9M499.8,273.2l5.5,3.8M498.7,280.5l6.5-0.7M505.2,279.7l0.1-2.8M492.5,270.3l6.8-0.8M499.3,269.4l0.5,3.7M494.0,276.4l2.5,0.2M509.5,271.7l-4.2,5.3M508.7,267.6l-8.4,0.3M499.3,269.4l1.0-1.6M505.3,280.0l-0.2-0.3M500.0,285.8l-2.8-2.9M497.2,282.9l1.5-2.4M499.1,317.5l-2.5-1.3M499.1,317.5l2.7-1.9M501.9,315.6l-0.7-3.3M501.2,312.3l-5.1,1.6M496.0,313.9l0.5,2.2M499.2,320.7l-0.1-3.2M499.2,320.7l1.3,1.1M500.5,321.7l3.3-0.7M504.2,317.1l-2.3-1.5M499.2,320.7l-2.8,0.3M496.6,316.2l-2.1,2.7M496.4,321.0l-2.0-2.1M472.2,352.2l3.9,1.3M472.2,352.2l-2.4,1.6M469.8,353.7l-0.2,0.4M469.6,354.1l2.4,3.3M472.0,357.4l4.4-0.9M476.0,353.5l0.7,1.7M476.4,356.5l0.3-1.3M476.3,347.7l1.6,2.4M472.5,348.9l-0.4,3.3M477.9,350.0l-1.9,3.4M467.2,349.1l2.6,4.6M468.5,354.6l1.1-0.6M471.3,360.8l0.7-3.5M477.7,359.8l-0.2,0.7M477.7,359.8l-1.3-3.3M482.9,347.3l1.8,0.2M482.9,347.3l-2.6,2.8M485.4,353.4l-0.3,0.3M480.3,350.2l2.0,4.0M485.2,353.8l-2.8,0.4M480.3,350.2l-2.4-0.1M476.7,355.2l5.5-0.9M482.2,354.3l0.1-0.2M477.7,359.8l4.0-1.1M482.2,354.3l-0.5,4.4M486.1,388.2l1.8-4.2M486.1,388.2l0.9,1.2M490.1,389.2l2.0-2.4M492.2,386.8l0.3-0.4M492.5,386.4l-4.6-2.4M493.8,386.9l-1.2-0.6M493.8,386.9l0.3,0.9M494.9,391.0l-1.5,1.0M492.5,386.4l0.1-0.0M493.8,386.9l2.2-0.6M492.6,386.4l0.4-2.2M490.0,348.1l0.3-0.1M489.2,352.1l2.2,2.0M490.3,348.0l5.1,2.4M495.7,351.5l-2.9,2.7M491.4,354.2l1.4,0.0M494.9,358.7l2.6-1.6M494.9,358.7l-0.2-0.1M492.8,354.2l1.9,4.5M508.5,348.4l-1.2-1.5M501.8,347.5l1.4-1.1M503.2,346.4l4.0,0.5M432.5,163.3l-0.0,0.0M432.5,163.4l-0.0-0.0M483.5,235.9l-0.1,0.0M490.5,241.4l-0.7,1.4M489.8,242.8l-7.6,1.7M482.2,244.5l-0.6-0.8M483.4,235.9l-1.9,7.8M501.0,217.1l-4.5-4.6M501.0,217.1l-0.3,1.7M500.6,218.8l-6.9,1.6M493.7,220.5l-2.7-6.4M491.0,214.1l5.5-1.6M506.2,212.4l-5.3,4.6M497.9,208.6l-1.4,3.8M502.2,221.6l-1.6-2.7M493.1,221.8l0.6-1.3M489.5,213.3l-6.2,5.2M489.5,213.3l1.6,0.8M485.7,222.3l-2.4-3.8M489.5,213.3l-1.3-4.3M488.2,209.0l6.7-4.2M435.7,238.8l0.9,1.8M435.7,238.8l-4.3,0.9M436.6,240.6l-0.8,3.0M435.8,243.6l-2.3,0.7M431.4,239.7l-0.4,0.8M431.0,240.5l0.8,3.2M431.8,243.6l1.7,0.6M441.1,240.5l-4.5,0.1M436.2,236.5l-0.4,2.3M438.1,245.4l-2.3-1.9M442.5,250.4l-1.0,4.2M441.9,255.1l-0.4-0.5M440.8,221.5l-2.9-3.7M440.8,221.5l0.5-0.2M438.0,217.7l0.3-0.6M438.3,217.1l3.0-1.5M441.7,225.4l-2.2,2.7M441.7,225.4l-1.0-3.5M440.6,221.9l-5.2,2.3M435.5,224.1l2.5,4.2M438.0,228.3l1.6-0.2M443.1,231.3l-3.6-3.2M443.2,225.8l-1.5-0.5M440.8,221.5l-0.2,0.4M434.8,223.9l-0.4-5.5M434.8,223.9l0.7,0.2M438.0,217.7l-3.6,0.7M436.6,230.3l0.1,1.8M436.6,230.3l1.3-2.0M466.9,218.4l5.2-2.6M466.9,218.4l1.3,4.2M477.3,219.9l-5.2-4.1M477.3,219.9l-1.3,3.1M468.1,222.6l7.8,0.3M445.4,276.1l-1.9,3.6M445.4,276.1l-1.3-2.4M439.5,274.2l-2.0,2.8M443.5,279.7l-3.3,0.5M440.2,280.2l-2.7-3.2M446.3,282.0l2.8-0.2M446.3,282.0l-2.9-2.4M449.4,275.7l1.2,4.5M449.4,275.7l-4.0,0.4M449.1,281.9l1.5-1.6M449.4,275.7l1.6-2.1M451.1,273.6l-0.3-0.5M454.3,315.8l-1.2,2.6M454.3,315.8l-1.5-1.7M448.3,316.4l0.2-1.5M448.3,316.4l1.7,2.3M450.0,318.7l3.2-0.3M448.5,314.9l4.3-0.9M459.1,313.8l-1.3,1.7M457.8,315.5l-3.5,0.2M456.1,310.0l-2.8,0.1M452.8,314.0l0.5-3.9M492.5,260.4l0.5,3.0M492.5,260.4l5.2-4.1M493.0,263.4l6.0,1.1M498.9,264.5l1.5-4.4M497.7,256.4l2.8,3.8M491.7,265.1l1.3-1.7M484.6,263.3l-0.2-1.4M484.4,261.9l5.1-3.4M489.5,258.5l3.0,2.0M500.2,267.9l-1.3-3.4M509.2,259.2l-8.8,0.9M509.2,259.2l1.6,4.2M489.8,242.8l0.8,4.0M482.2,246.3l-0.1-1.8M482.2,246.3l3.6,4.6M490.6,246.8l-4.7,4.1M510.3,240.1l-2.2,4.9M497.8,242.5l0.1,0.3M497.9,242.8l9.0,2.5M508.1,245.0l-1.2,0.3M518.6,252.4l-7.1,0.9M508.1,245.0l3.4,8.3M509.2,259.2l0.6-3.2M511.5,253.3l-1.7,2.8M331.4,186.0l0.6-1.7M325.9,187.5l-0.3-5.4M332.0,184.4l-5.1-2.7M325.6,182.1l1.3-0.4M320.2,187.0l2.5,0.5M324.6,181.7l1.1,0.4M332.0,184.4l0.7-0.4M332.8,183.9l2.4,1.3M326.1,174.6l1.7,0.6M326.9,181.7l2.0-3.1M328.9,178.6l-1.1-3.4M332.1,170.9l-0.8,2.4M331.3,173.3l-3.5,1.9M446.8,162.2l-3.1,1.8M446.8,162.2l0.3-2.8M447.1,159.3l-6.8-3.3M443.6,163.9l-3.0-0.4M440.6,163.5l-3.4-5.1M437.3,158.4l3.0-2.3M436.7,158.4l0.5-0.0M440.4,155.5l-0.2,0.6M450.6,156.3l-0.2-4.2M450.6,156.3l6.0,3.8M456.6,160.2l3.6-3.1M460.2,157.0l-3.6-8.2M450.4,152.1l4.3-3.4M454.7,148.7l1.9,0.1M447.1,150.6l3.3,1.6M447.1,159.3l3.5-3.0M454.0,147.3l0.7,1.5M460.2,146.7l-3.5,2.1M457.1,199.8l0.4,2.5M457.5,202.3l-2.7,1.4M459.2,195.8l0.9-0.9M457.5,202.3l3.5,1.9M461.0,204.2l5.2-5.3M466.2,198.9l-0.2-0.4M466.1,198.5l-6.0-3.5M480.2,171.5l2.9,2.4M483.1,174.0l1.2,6.0M474.5,178.1l3.5-5.9M474.5,178.1l0.8,2.5M483.2,182.0l1.1-2.0M483.2,182.0l-0.6,0.2M482.5,182.2l-7.3-1.7M492.9,196.8l-2.1-8.5M491.9,198.0l-5.4,1.0M490.8,188.3l-2.3-0.2M488.5,188.0l-5.4,5.4M483.0,193.4l3.5,5.6M483.2,182.0l5.3,6.0M482.5,182.2l-3.5,6.7M479.1,189.0l1.7,3.8M483.0,193.4l-2.3-0.6M487.8,208.8l0.3,0.2M487.8,208.8l-2.3-8.0M485.5,200.7l1.0-1.8M466.0,179.4l-3.6-2.4M466.0,179.4l3.9-3.3M462.4,177.0l1.4-5.5M463.7,171.5l5.3,0.5M469.9,176.1l-0.9-4.1M474.5,178.1l-4.6-2.0M471.5,169.1l-2.5,3.0M563.7,354.2l-5.1-0.0M566.9,360.9l-2.5,2.1M564.4,362.9l-8.4-3.7M556.0,359.2l2.6-5.1M541.7,353.5l6.9-1.5M547.2,348.0l1.6,3.8M548.7,351.7l-0.1,0.3M555.1,346.8l0.6,2.1M548.7,351.7l7.0-2.8M559.5,347.3l-3.7,1.6M558.6,354.1l-2.8-5.2M555.7,348.9l0.1,0.0M533.9,358.2l3.1,8.4M531.0,368.9l2.5,0.2M537.0,366.6l-3.4,2.5M579.7,353.5l-1.5,7.6M570.2,360.7l3.3,2.1M573.6,362.8l4.6-1.7M587.5,356.1l1.2,3.6M588.8,359.7l-5.7,3.6M578.2,361.1l4.9,2.2M598.3,351.7l0.1,3.3M588.8,359.7l1.8,0.8M590.6,360.5l4.2-0.9M598.3,355.0l-3.6,4.6M609.4,357.2l-3.2,2.8M598.3,355.0l7.8,5.0M495.4,432.9l4.6,5.5M500.0,438.4l2.5-3.7M500.1,440.4l-0.1-2.0M490.0,432.1l1.8-0.1M513.8,438.5l-0.8-1.8M493.3,399.2l-0.0,0.0M493.3,399.2l-0.0-0.0M487.8,395.2l-0.3,1.0M491.5,394.1l1.0,1.0M493.3,399.2l-2.8,1.4M487.6,396.3l2.9,4.3M490.4,401.4l-0.1-0.4M490.4,400.6l-0.2,0.5M484.0,399.1l-0.0-0.1M484.0,399.0l0.0,0.0M490.3,401.0l-3.7,1.3M487.6,396.3l-3.6,2.8M486.3,393.2l-3.9-0.2M482.4,393.0l-1.9,1.7M573.6,362.8l0.4,5.7M574.0,368.5l6.7,2.5M583.1,363.3l0.2,5.3M583.3,368.5l-2.7,2.5M602.4,378.5l-0.9,0.0M601.5,378.5l-1.5-2.6M600.0,375.8l1.6-1.8M594.8,359.6l4.7,5.3M606.1,360.0l-1.1,4.7M599.4,364.9l5.7-0.3M605.1,364.7l-0.0-0.1M601.5,378.5l-0.6,3.3M603.8,385.8l-2.9-4.0M571.1,442.6l1.3-2.2M571.1,442.6l3.9,7.7M577.8,438.9l-5.4,1.5M564.2,444.2l1.5-0.4M566.5,443.7l4.6-1.1M564.2,444.2l-0.1,7.3M564.1,451.5l6.0,5.1M570.1,456.6l4.1-3.2M439.1,327.1l2.6-3.5M442.9,330.2l2.9-3.4M445.8,326.8l-4.1-3.3M438.4,321.5l3.3,1.3M439.3,317.1l-1.6,1.0M439.3,317.1l3.2,0.5M442.6,317.6l1.1,1.2M443.7,318.8l0.1,1.2M443.8,320.0l-2.1,2.8M437.0,326.7l-1.0-3.4M437.0,326.7l0.8,0.5M441.6,322.9l0.0,0.7M457.8,315.5l0.7,3.4M453.2,318.4l1.7,2.8M458.5,318.9l-3.7,2.2M463.6,319.8l-2.6,0.9M458.5,318.9l2.5,1.8M461.5,339.4l4.5-1.0M462.1,332.7l1.1-0.2M463.2,332.6l2.3,2.0M465.5,334.5l0.4,3.9M466.3,343.6l-0.3-5.0M466.1,338.5l-0.1-0.1M471.5,343.2l-2.0-4.6M466.1,338.5l3.4,0.1M463.2,332.6l1.0-2.1M464.2,330.5l3.8-1.6M465.5,334.5l4.2-1.5M469.7,333.1l-1.6-4.2M465.9,322.4l-0.8,2.8M468.9,322.1l1.8,4.5M465.1,325.2l3.5,2.5M470.7,326.6l-2.1,1.1M463.0,326.3l2.1-1.2M463.0,326.3l1.2,4.2M468.6,327.7l-0.5,1.2M476.7,345.6l1.8-1.5M472.1,343.0l2.7-3.1M474.8,340.0l2.0,0.5M476.8,340.4l1.7,3.7M486.4,346.6l0.3-4.1M482.9,347.3l-2.6-3.2M486.7,342.5l-0.5-0.7M486.1,341.8l-4.5,0.4M481.6,342.2l-1.3,1.9M478.5,344.2l1.8-0.1M478.0,335.0l0.9,3.5M478.0,335.0l1.6-0.9M479.6,334.2l4.0,2.2M478.8,338.6l2.3,0.7M481.1,339.3l2.7-2.4M483.8,336.9l-0.2-0.5M476.8,340.4l2.0-1.8M481.6,342.2l-0.5-2.9M486.1,341.8l-0.2-3.9M485.9,338.0l-2.1-1.1M485.9,338.0l1.7-0.8M487.6,337.2l1.6-3.7M485.1,331.7l-1.5,4.7M485.1,331.7l3.0,0.3M488.1,332.0l1.1,1.5M470.9,310.0l2.1-1.1M470.8,315.2l3.7-0.9M474.5,314.4l1.0-3.0M473.0,308.9l2.6,2.5M474.3,301.6l-0.6,4.6M474.3,301.6l3.8-0.9M473.7,306.2l4.5-0.1M478.1,300.7l0.1,5.4M474.3,301.6l-2.1-1.6M472.3,300.0l-2.3,1.1M473.7,306.2l-0.0,0.0M473.7,306.2l-3.9-1.7M469.8,304.5l0.2-3.4M468.6,309.4l-1.3-3.5M473.0,308.9l0.7-2.7M469.8,304.5l-2.5,1.4M463.3,308.7l2.8-3.3M467.3,305.9l-1.3-0.4M460.8,303.4l4.4,0.9M460.8,303.4l-1.4,1.7M466.0,305.4l-0.7-1.1M470.0,301.1l-3.4-1.3M465.3,304.3l1.2-4.5M466.5,299.8l0.2-0.0M472.3,300.0l0.3-3.2M472.6,296.8l-3.4-1.7M466.6,299.8l2.6-4.7M424.9,310.1l3.5-0.1M424.9,310.1l-1.2-4.2M423.7,305.9l4.2-2.5M427.9,303.4l1.8,1.3M428.4,310.1l1.3-5.3M423.3,311.7l1.6-1.6M429.7,315.9l-0.4-5.0M428.4,310.1l0.9,0.8M478.6,367.8l2.5-0.7M480.3,372.3l2.6-2.5M482.9,369.9l-1.7-2.8M487.5,374.6l3.1-2.7M487.5,374.6l-1.8-0.9M485.7,373.7l-0.5-3.6M490.6,371.9l-1.9-2.4M488.7,369.5l-2.9,0.0M485.2,370.0l0.6-0.6M482.0,375.7l3.7-2.0M482.9,369.9l2.3,0.2M479.2,389.2l0.3-0.3M482.4,393.0l-0.4-3.0M479.6,388.9l2.4,1.1M486.1,388.2l-1.8-0.3M484.3,387.9l-2.4,2.1M476.0,385.7l0.1-4.0M476.0,385.7l3.1,0.5M479.1,386.1l2.5-2.1M478.9,381.1l-2.8,0.5M478.9,381.1l2.8,2.4M481.7,383.6l-0.1,0.5M475.8,385.8l0.2-0.1M474.9,380.7l1.2,0.9M479.6,388.9l-0.4-2.8M484.3,387.9l-2.7-3.8M479.5,377.5l-0.6,3.6M445.4,382.4l-1.9-0.9M441.9,376.7l-0.1,0.4M443.4,381.5l-1.7-4.3M555.5,454.4l3.9,7.0M555.5,454.4l-1.2-0.5M554.3,453.9l-6.4,6.4M564.1,451.5l-8.5,2.8M567.4,461.4l2.2-2.2M567.4,461.4l-7.3,0.2M570.1,456.6l-0.5,2.6M564.2,444.2l-3.8-2.6M551.4,447.4l2.9,6.5M542.3,459.1l5.2,1.3M567.3,465.0l0.1-3.6M500.7,358.0l-0.9,4.0M494.9,358.7l0.8,3.1M495.7,361.9l4.1,0.2M505.1,358.7l-0.6,4.4M504.5,363.0l-4.0-0.3M499.8,362.0l0.7,0.8M508.4,365.3l3.5-4.2M508.4,365.3l2.4,5.0M514.4,371.4l-2.0-0.6M511.4,370.4l-0.6-0.2M514.4,371.4l0.4-1.5M514.8,369.9l0.1-0.2M515.8,366.5l1.0-3.3M516.8,363.2l-4.9-2.1M504.5,363.0l1.3,1.7M505.8,364.7l2.6,0.5M510.7,357.3l1.2,3.8M515.7,373.0l6.7-0.3M515.7,373.0l-1.3-1.6M518.4,362.6l-1.5,0.6M491.1,376.6l2.0-0.3M487.7,375.1l-0.2-0.5M493.1,376.3l0.0-0.0M490.6,371.9l1.1,0.2M492.9,375.2l-1.2-3.2M492.3,367.1l-2.3,0.1M492.3,367.1l1.9,2.9M490.0,367.2l-1.3,2.3M491.7,372.1l2.5-2.1M505.8,364.7l-3.1,3.8M500.5,362.8l-0.9,3.5M502.6,368.5l-3.0-2.2M494.7,363.5l1.0-1.7M494.7,363.5l2.6,3.4M499.6,366.3l-2.3,0.7M494.0,363.8l-1.7,3.3M494.0,363.8l0.7-0.3M494.2,370.0l2.0,0.0M497.3,367.0l-1.1,3.1M510.8,370.2l-0.4,0.2M502.6,368.5l0.0,1.7M496.2,370.0l0.2,0.3M496.4,370.3l2.6,0.4M534.8,397.5l0.2-2.2M535.0,395.3l-2.3-2.6M532.6,392.7l-4.6,2.9M526.6,386.4l-6.6,5.9M526.6,386.4l6.1,2.5M532.7,388.9l-0.1,3.8M524.1,381.6l-7.8,1.7M524.1,381.6l2.5,4.8M516.3,383.3l2.4,7.8M587.8,470.0l0.1-0.6M587.8,470.0l-8.3,1.3M577.6,465.2l3.9-3.2M577.6,465.2l0.1,4.7M579.5,471.3l-1.8-1.4M591.5,474.7l-3.6-4.7M580.8,480.8l-1.3-9.5M569.6,459.2l8.0,6.1M570.5,472.6l7.2-2.7M419.9,315.0l-2.4-0.5M415.0,318.9l0.0-2.1M417.5,314.5l-2.4,2.4M423.0,311.7l-4.4-2.4M418.6,309.4l-1.8,2.4M417.5,314.5l-0.7-2.8M413.0,308.2l-2.3-1.8M413.0,308.2l0.2,3.0M413.3,311.3l-1.9,2.1M409.7,306.4l1.1,0.0M409.7,306.4l-1.4,5.2M411.3,313.4l-1.9,0.3M408.3,311.6l1.1,2.0M415.1,316.9l-3.8-3.5M416.8,311.7l-3.6-0.5M408.7,314.7l0.7-1.1M403.3,315.6l-1.0-1.3M403.6,309.7l-1.4,4.5M403.6,309.7l4.7,1.9M422.1,343.1l-2.2,2.3M422.1,343.1l4.3,0.3M420.2,346.9l-0.2-1.5M424.7,350.1l1.8-2.8M426.7,345.4l-0.3-2.0M402.2,354.0l2.8-3.0M407.8,352.4l-2.7-1.4M412.0,352.6l-1.6-1.1M408.0,352.4l2.5-0.8M403.7,347.9l0.8,0.5M404.5,348.4l0.5,2.6M429.0,331.2l-0.7-0.9M429.0,331.2l3.3,0.0M428.4,330.4l0.4-3.4M432.4,331.2l0.9-3.6M428.8,326.9l2.7-1.3M433.3,327.6l-1.8-2.0M433.4,332.2l-1.1-1.0M433.9,335.0l-2.6,2.3M427.7,334.3l3.6,3.0M427.7,334.3l1.3-3.0M425.6,324.5l3.2,2.4M424.9,329.6l3.5,0.7M437.0,326.7l-3.8,0.9M431.8,322.3l-0.3,3.3M425.1,337.2l0.6-2.0M425.1,337.2l-4.2,1.4M425.7,335.3l-3.2-3.0M422.5,332.3l-2.9,3.9M419.6,336.2l0.9,2.3M420.8,338.6l-0.3-0.2M427.7,334.3l-2.0,1.0M427.4,340.6l3.8-3.0M427.4,340.6l-2.4-3.3M431.3,337.3l-0.0,0.2M422.1,343.1l-1.3-4.5M427.4,340.6l-0.1,1.8M427.3,342.4l-0.9,1.0M422.4,331.6l0.1,0.6M415.5,333.8l4.1,2.3M415.3,333.9l-0.5,5.8M416.4,340.4l-1.5-0.7M416.4,340.4l4.1-2.0M419.9,345.4l-2.6-1.0M417.3,344.3l-0.9-4.0M394.4,353.0l-0.4,0.4M388.3,350.5l-0.1,0.8M388.3,351.3l1.0,1.6M389.2,352.9l4.8,0.5M395.2,358.0l-1.1-0.7M394.0,353.4l0.1,4.0M355.3,339.8l0.8-0.8M354.7,343.0l0.4,1.9M358.1,338.7l-2.0,0.4M358.1,338.7l2.4,2.2M355.2,344.9l2.1,0.5M360.5,340.9l0.1,2.2M357.3,345.4l3.4-2.4M343.6,388.4l4.8-1.2M345.3,392.8l4.6-0.6M349.9,392.2l-0.5-4.3M348.4,387.2l1.0,0.6M349.9,392.2l1.0,0.7M332.5,351.2l2.8,0.2M330.8,357.4l6.1,1.7M336.9,359.1l3.6-3.7M338.4,352.3l2.1,3.2M356.1,339.0l-0.6-0.9M352.8,358.7l-0.7,1.4M352.8,358.7l3.9,0.4M356.7,359.1l1.5,4.0M358.1,363.0l-4.4-0.1M353.8,363.0l-1.6-2.9M358.8,355.8l0.0-0.0M358.8,355.8l-2.1,3.3M358.8,355.8l3.1,1.4M358.1,363.0l0.3,0.2M361.9,357.2l-1.6,5.4M358.4,363.2l1.8-0.7M336.9,359.1l0.9,4.2M332.7,367.4l2.8-0.5M337.8,363.3l-2.3,3.7M406.9,257.1l3.1,5.5M409.9,262.6l3.5-0.7M413.4,261.9l4.7-4.5M427.0,240.4l-0.0,4.4M427.0,240.4l4.0,0.1M431.8,243.6l-3.0,1.9M428.8,245.6l-1.8-0.8M424.2,255.0l0.3-0.5M424.5,254.4l-2.4-2.4M437.4,249.2l-0.6,0.4M433.5,244.2l0.1,3.7M433.6,247.9l3.3,1.7M429.4,248.6l-0.6-3.0M429.4,248.6l1.6,0.9M433.6,247.9l-2.6,1.6M438.4,254.6l3.1,0.0M438.4,254.6l-2.4-2.4M436.0,252.1l0.9-2.5M424.5,254.4l1.5,0.1M422.1,252.0l2.4-2.9M424.5,249.1l2.6,0.9M427.2,250.0l-0.0,3.7M426.0,254.5l1.2-0.8M450.5,286.9l0.2,3.9M450.5,286.9l-4.5,0.7M448.2,292.0l2.5-1.1M448.2,292.0l-2.5-2.0M445.7,290.0l0.3-2.4M446.3,282.0l-1.3,4.3M449.1,281.9l1.9,4.5M451.0,286.3l-0.5,0.6M445.0,286.3l1.0,1.3M442.5,292.1l-3.5,3.0M442.5,292.1l0.0-0.0M436.7,292.9l2.3,2.1M436.7,292.9l0.4-2.9M442.5,292.0l-1.9-2.6M437.1,290.0l3.5-0.6M442.5,292.0l3.2-2.0M445.0,286.3l-3.8-0.1M440.6,289.4l0.7-3.2M440.2,280.2l-1.1,3.4M439.0,283.5l2.2,2.7M415.6,284.5l3.0,4.1M413.0,287.6l0.5,2.2M413.5,289.8l4.0,0.4M417.5,290.2l1.0-0.8M418.7,288.6l-0.2,0.8M408.0,269.2l0.4-0.2M416.0,278.8l0.6-0.9M408.4,269.0l5.3,4.0M408.1,282.9l-3.9-0.7M416.7,278.0l-1.0-2.3M440.7,258.6l-0.9,0.9M439.8,259.8l-0.0-0.3M438.4,254.6l-2.1,3.6M439.8,259.6l-3.5-1.4M413.5,346.0l-3.1,1.7M413.5,346.0l0.0-0.1M413.5,345.9l-2.2-5.2M408.0,346.5l2.4,1.2M408.0,346.5l-0.5-4.3M407.5,342.3l3.5-1.6M411.0,340.7l0.2,0.1M415.5,349.6l-2.1-3.6M410.4,351.6l-0.1-3.8M417.3,344.3l-3.8,1.6M414.8,339.7l-3.6,1.1M404.5,348.4l3.4-1.9M405.1,341.4l2.4,0.9M403.5,338.7l2.0-3.3M405.5,335.4l4.7,1.9M410.2,337.3l0.8,3.3M410.2,337.3l2.6-3.7M405.2,326.9l1.1,5.7M405.2,326.9l-4.3,2.0M400.8,331.8l0.1-2.8M400.8,331.8l4.6,1.9M405.4,333.7l0.8-1.0M405.6,326.2l-0.4,0.7M410.5,331.3l-4.3,1.3M399.2,327.2l1.6,1.7M400.2,332.2l0.6-0.4M405.5,335.4l-0.1-1.8M391.9,318.8l-3.6-1.1M391.9,318.8l0.6,1.1M392.5,319.9l-2.2,4.8M386.5,320.8l3.3,3.8M386.5,320.8l1.8-3.2M389.8,324.7l0.6-0.0M392.5,326.0l-2.2-1.3M396.5,320.9l-4.0-1.0M386.8,327.4l3.0-2.8M393.7,284.1l-0.1,3.9M397.5,289.3l-1.0,0.2M393.6,288.0l2.9,1.5M406.2,290.6l-2.3-5.2M406.2,290.6l-4.7,1.4M399.9,290.5l0.7,1.2M401.5,292.1l-0.8-0.4M397.7,319.0l-0.7-4.1M391.9,318.8l2.6-4.3M394.5,314.5l2.5,0.4M402.2,314.3l-4.0-0.3M397.0,314.9l1.3-0.9M410.3,296.8l-3.0-2.9M410.3,296.8l3.1-1.5M413.4,295.3l-1.2-3.7M412.2,291.6l-4.4-0.5M407.3,293.9l0.2-2.7M407.6,291.2l0.2-0.1M417.1,295.4l0.3-5.2M417.1,295.4l-1.0,0.9M413.5,289.8l-1.3,1.8M416.1,296.3l-0.2,0.0M416.0,296.4l-2.6-1.1M409.7,286.2l-1.9,4.9M406.2,290.6l1.4,0.6M401.5,292.1l2.2,4.8M403.7,296.9l3.6-3.0M329.0,271.5l0.1-1.3M329.1,270.2l-3.6-3.1M340.6,300.5l1.6-1.0M343.8,300.0l-1.7-0.5M342.2,299.5l-0.3-1.5M334.6,284.0l-2.0,0.1M332.7,284.1l0.0,0.2M331.1,282.7l1.6,1.5M334.8,278.1l0.3,0.0M335.1,278.1l2.5,2.5M337.6,280.6l-1.3,2.8M342.1,278.4l-3.7,2.3M338.4,280.7l0.8,1.1M337.6,280.6l0.8,0.1M346.6,287.2l2.6-0.9M346.6,287.2l-0.8-0.9M349.2,286.3l0.6-2.4M350.1,282.7l0.1-0.4M350.2,282.3l-0.5-0.4M331.4,273.8l4.7-3.0M335.1,278.1l2.6-3.1M337.6,275.0l-1.6-4.1M337.6,275.0l4.2,0.0M342.7,276.8l-0.8-1.8M342.9,267.3l1.4,0.2M342.9,267.3l-2.5,3.2M344.3,267.5l0.6,0.7M340.4,270.5l1.7,3.6M343.0,273.4l-0.9,0.6M340.4,270.5l-4.0-0.4M336.4,270.0l-0.3,0.8M341.8,275.0l0.2-1.0M349.2,286.3l2.6,2.2M350.2,282.3l1.3-0.4M351.5,281.9l3.0,1.1M351.7,288.5l3.3-2.3M354.5,283.1l0.6,3.2M357.5,279.9l-0.4,1.7M357.5,279.9l4.8-0.9M362.3,279.0l0.7,0.7M362.3,282.9l0.7-3.2M362.3,282.9l-2.9,1.0M357.1,281.6l2.3,2.3M408.4,269.0l1.6-6.4M358.2,248.3l2.6-0.6M360.3,242.5l0.5,0.9M361.9,245.0l0.5,0.8M360.8,247.7l1.5-1.9M344.3,267.5l0.9-1.2M336.9,262.8l1.4,3.2M336.9,262.8l1.8-2.0M338.6,260.8l3.1,1.5M341.8,262.3l-0.2,3.6M341.6,265.8l-3.4,0.1M336.0,268.9l2.2-3.0M336.0,268.9l0.4,1.1M342.9,267.3l-1.3-1.5M353.1,259.8l-2.3-2.2M353.1,259.8l-0.3,1.8M350.8,257.6l-1.7,0.5M341.8,262.3l1.0-0.6M338.6,260.4l0.1,0.4M351.8,252.9l0.6,1.2M352.4,254.1l-1.6,3.5M355.2,264.4l2.5-1.0M355.2,264.4l0.0,0.2M355.3,265.4l0.3,2.4M355.6,267.8l2.7,1.5M357.7,263.4l0.3,0.1M357.9,263.4l2.9,3.4M358.4,269.3l2.5-2.4M354.2,269.2l1.4-1.4M355.1,264.4l0.1,0.0M361.3,255.9l-0.9-2.2M361.3,255.9l-1.2,2.0M360.1,257.9l-3.0,0.4M358.2,252.9l2.1,0.8M358.2,252.9l-2.5,2.7M355.7,255.7l0.6,2.2M356.4,257.9l0.7,0.4M362.3,256.0l-1.0-0.1M363.0,251.3l1.9,0.4M363.0,251.3l-2.6,2.4M363.1,260.6l-0.8,0.5M362.3,261.1l-0.1-0.0M362.2,261.1l-2.1-3.2M362.2,261.1l-4.2,2.4M357.7,263.4l-0.6-5.0M357.4,250.2l0.9,2.7M360.8,247.7l2.2,3.6M352.4,254.1l3.3,1.5M353.1,259.8l3.3-1.9M464.6,148.3l0.4,5.8M460.2,157.0l1.8-0.1M462.0,156.9l3.0-2.8M501.9,186.2l0.3,0.7M493.0,180.2l0.1,6.4M493.1,186.7l8.1,1.2M502.2,186.8l-1.1,1.0M484.3,180.0l7.3-1.3M490.8,188.3l2.3-1.6M491.6,178.7l1.0,1.0M500.4,195.2l0.8-7.3M517.1,182.9l-14.9,3.9M517.1,182.9l3.8,1.9M478.2,152.2l1.1,1.0M479.3,153.3l-5.1,6.5M471.9,151.7l-2.3,3.4M469.5,155.1l1.6,3.7M474.2,159.8l-3.1-1.0M482.3,151.5l-0.9,2.0M481.4,153.5l-0.1,0.1M481.3,153.6l-2.0-0.3M481.6,165.0l1.1-0.7M482.7,164.3l0.6-1.3M475.4,162.6l-1.3-2.8M483.4,163.0l-2.1-9.4M465.0,154.1l4.5,0.9M462.0,156.9l4.5,5.2M466.5,162.1l4.6-3.3M466.2,163.9l5.1,3.8M466.2,163.9l0.2-1.8M489.0,152.4l-1.0,1.7M495.7,154.2l-3.7,5.0M488.0,154.1l3.5,5.0M492.0,159.2l-0.5-0.2M481.4,153.5l6.6,0.5M483.4,163.0l8.1-3.9M517.1,182.9l-7.4-9.8M509.8,173.1l-1.4,0.3M520.4,156.4l-6.5,1.5M513.9,157.9l-0.1,0.2M511.4,162.8l-2.0,4.0M509.8,173.1l-0.3-6.3M510.3,155.3l-0.3,0.0M510.3,155.3l-3.3-9.5M507.0,145.7l-0.9,0.0M507.1,145.5l-0.1,0.2M513.9,157.9l-3.6-2.6M497.7,326.3l0.9,4.0M497.7,326.3l1.8-1.0M499.6,325.4l3.7,2.0M503.3,327.4l-1.9,3.3M501.4,330.7l-2.8-0.3M500.5,321.7l-0.9,3.6M505.4,326.9l1.8-3.0M505.4,326.9l-2.1,0.5M508.9,315.0l-0.1-3.0M501.2,312.3l0.2-0.5M501.3,311.9l7.5,0.2M517.3,307.9l-7.7,2.6M509.5,310.5l-0.6,1.6M471.4,319.5l2.7,4.2M471.4,319.5l5.7-1.0M477.1,318.5l-0.4,5.0M474.2,323.7l2.6-0.3M471.0,319.4l0.4,0.2M471.8,326.7l-1.1-0.1M471.8,326.7l2.4-3.0M474.4,330.0l-2.7-3.2M474.4,330.0l2.6-1.1M476.8,323.5l0.7,0.5M477.4,324.0l-0.4,4.8M474.5,314.4l2.6,2.4M475.5,311.4l2.6-0.4M478.1,311.0l1.6,2.6M477.0,316.8l2.7-3.1M477.1,318.5l0.1-0.1M477.0,316.8l0.2,1.6M496.5,326.1l-3.1,2.9M496.5,326.1l-1.6-2.2M494.9,323.9l-3.7-0.6M493.4,329.0l-3.3-1.4M491.3,323.3l-1.5,3.6M489.8,326.9l0.3,0.7M494.2,331.4l-0.8-2.4M494.2,331.4l2.4,1.1M496.6,332.4l2.0-2.1M497.7,326.3l-1.2-0.2M496.4,321.0l-1.5,2.9M494.2,331.4l-2.9,2.4M491.3,333.8l-2.1-0.3M488.1,332.0l2.0-4.4M494.4,318.8l-1.6,0.0M491.3,323.3l-0.5-1.3M492.8,318.8l-2.0,3.2M499.2,389.3l-0.8,1.3M497.2,393.5l0.1-0.1M488.8,381.0l-1.1,2.2M488.8,381.0l-0.9-2.7M487.6,383.1l-4.5-0.6M487.9,378.2l-4.3,0.3M483.5,378.6l-0.4,4.0M487.9,384.0l-0.3-0.9M490.2,380.9l-1.4,0.0M488.0,377.9l-0.1,0.3M493.1,376.3l-0.0,0.9M481.7,383.6l1.4-1.0M481.8,376.4l1.7,2.1M485.2,353.8l1.7,3.4M491.4,354.2l-2.0,3.0M486.9,357.2l2.5,0.0M494.7,358.6l-3.8,0.6M489.4,357.2l1.5,2.0M494.0,363.8l-4.5-1.3M490.9,359.2l-1.4,3.3M486.7,342.5l3.7-0.6M487.6,337.2l3.5,1.8M491.2,339.0l-0.8,2.9M490.3,348.0l2.3-3.8M490.4,341.9l2.2,2.3M497.0,346.3l-0.3-0.8M496.7,345.5l-2.7-1.6M492.6,344.2l1.4-0.2M496.7,345.5l2.3-3.1M503.2,346.4l-1.1-3.4M499.0,342.4l3.1,0.6M406.8,207.2l2.2,0.1M409.0,207.3l3.2-4.6M411.8,201.4l0.5,1.3M432.5,163.4l0.6,1.6M433.1,165.0l-2.2,5.1M427.4,168.8l3.4,1.3M429.3,177.6l-0.4-3.6M429.3,177.6l3.3,0.2M432.6,177.8l1.5-3.1M428.9,173.9l2.5-2.2M431.4,171.8l1.7,0.7M434.1,174.7l-1.0-2.2M476.9,251.1l-2.8-1.2M476.9,251.1l5.3-4.8M473.6,249.1l0.7-5.8M481.5,243.7l-6.3-1.3M474.3,243.3l1.0-0.9M483.3,260.8l-0.1-6.5M483.3,260.8l-6.6-0.8M476.1,259.2l0.5,0.9M476.1,259.2l2.3-5.5M478.4,253.7l4.8,0.6M484.4,261.9l-1.1-1.1M489.5,258.5l-0.2-3.8M489.2,254.7l-3.4-2.3M485.9,252.4l-2.7,1.9M475.9,264.2l0.7-4.2M475.9,264.2l3.0,3.3M469.9,257.7l-1.1,3.6M469.9,257.7l6.2,1.5M475.9,264.2l-4.5,1.9M471.3,266.1l-2.5-4.8M469.9,257.7l-0.3-0.4M476.9,251.1l1.5,2.5M485.9,251.0l-0.0,1.4M422.2,241.9l2.7,3.5M422.2,241.9l-2.8,1.8M419.9,246.9l4.1-0.2M424.0,246.6l0.8-1.3M422.4,240.8l-0.3,1.0M422.4,240.8l4.2-0.8M426.6,240.0l0.3,0.3M427.0,244.8l-2.1,0.6M424.5,249.1l-0.5-2.5M429.4,248.6l-2.2,1.5M399.7,226.1l8.4,0.6M401.0,234.7l4.9-0.7M408.0,226.7l-2.2,7.2M405.6,244.9l3.8-6.8M405.9,234.0l3.5,4.2M438.3,217.1l-0.8-4.0M437.4,213.1l2.4-1.5M441.8,213.2l-1.9-1.5M437.4,213.1l-3.3-1.1M434.1,212.0l2.1-4.0M437.9,207.3l-1.7,0.7M437.9,207.3l2.1,2.1M439.9,209.4l-0.1,2.2M444.3,208.1l0.3,0.4M444.3,208.1l-4.4,1.4M453.6,206.1l0.1-0.0M453.7,206.1l1.6,3.5M452.5,210.7l1.5,0.3M455.3,209.6l-1.3,1.4M453.8,205.7l-0.1,0.4M453.8,214.0l0.3-3.0M461.6,241.1l5.3-1.6M461.6,241.1l0.4,1.7M468.5,242.7l0.2-0.3M468.7,242.4l-1.8-2.9M461.4,241.0l0.1,0.1M474.3,243.3l-5.6-0.8M464.4,256.0l2.6-0.2M460.3,223.7l-2.4,2.8M460.3,223.7l-1.1-5.3M459.2,218.4l-2.6-0.1M455.5,219.1l1.1-0.8M464.6,226.2l-1.3,2.6M464.6,226.2l-4.4-2.4M453.9,214.3l2.8,4.0M448.2,292.0l-0.4,3.0M450.7,290.8l2.4,1.3M453.1,292.1l-1.8,5.0M451.3,297.1l-3.5-2.2M442.5,292.1l2.8,3.8M447.9,294.9l-2.5,1.0M441.5,298.0l3.3-0.9M441.5,298.0l-2.5-2.6M439.0,295.3l-0.0-0.3M445.3,295.9l-0.5,1.2M455.0,303.8l-0.3,0.0M455.0,303.8l1.3-3.7M454.8,303.9l-4.3-2.3M456.3,300.1l-1.7-2.3M454.7,297.8l-3.1-0.2M451.6,297.6l-1.4,3.1M450.5,301.6l-0.3-0.9M458.0,305.4l-3.0-1.6M451.8,308.6l3.0-4.7M451.8,308.6l0.1,0.3M453.3,310.1l-1.5-1.2M451.8,308.6l-3.1-3.0M448.7,305.6l1.8-4.0M454.1,291.8l-1.0,0.3M454.1,291.8l4.2,2.2M458.3,294.1l-3.6,3.7M451.3,297.1l0.2,0.5M446.3,300.3l-1.5-3.3M446.3,300.3l3.9,0.4M448.7,305.6l-2.2,0.4M444.0,302.8l2.6,3.2M444.0,302.8l2.3-2.5M448.4,311.1l-0.4,2.8M448.4,311.1l-3.3-2.5M448.0,314.0l-4.4-0.8M445.1,308.6l-0.4,0.2M444.6,308.8l-1.7,3.3M443.5,313.2l-0.6-1.0M448.5,314.9l-0.5-0.9M451.9,308.9l-3.5,2.2M446.6,306.0l-1.5,2.6M448.3,316.4l-4.6,2.4M442.6,317.6l1.0-4.4M439.3,317.1l-0.6-5.3M438.7,311.7l4.2,0.4M497.1,247.2l4.0,2.7M497.1,247.2l-3.0,1.8M494.0,249.0l-0.1,3.8M494.0,252.9l3.7,3.0M497.7,255.8l3.3-3.2M501.0,252.7l0.1-2.8M497.9,242.8l-0.8,4.4M506.9,245.3l-5.8,4.6M490.6,246.8l3.4,2.2M489.2,254.7l4.7-1.8M497.7,256.4l-0.0-0.5M509.8,256.1l-8.8-3.4M333.6,181.9l3.7-1.0M333.6,181.9l-1.1-3.0M332.5,178.8l1.2-2.0M333.6,176.8l4.1-0.7M337.3,180.8l0.8-4.2M337.8,176.2l0.3,0.5M332.8,183.9l0.8-2.1M339.0,182.5l-1.7-1.7M328.9,178.6l3.5,0.2M331.3,173.3l2.3,3.5M338.1,171.8l-0.3,4.3M339.9,177.1l-1.8-0.5M436.4,167.2l-0.2,3.4M436.4,167.2l2.6-0.6M439.0,166.6l1.9,2.3M436.1,170.6l3.7,2.0M440.9,169.0l-0.7,3.3M439.8,172.6l0.3-0.3M433.1,165.0l3.3,2.2M430.8,170.1l0.6,1.7M433.1,172.5l3.0-1.9M440.6,163.5l-1.6,3.1M443.6,163.9l0.3,4.2M443.9,168.1l-3.1,0.8M434.1,174.7l3.5,1.0M439.5,174.1l-1.9,1.6M439.5,174.1l0.3-1.5M457.8,178.2l-2.7-5.7M457.8,178.2l4.6-1.3M455.1,172.5l0.1-1.1M463.7,171.5l-2.2-2.9M455.2,171.4l6.4-2.7M466.2,163.9l-4.3,3.0M456.6,160.2l-0.0,0.6M456.6,160.8l5.3,6.2M461.9,167.0l-0.4,1.7M467.2,209.1l-5.8-2.8M467.2,209.1l-4.0,7.4M461.5,216.7l-2.6-7.0M461.5,216.7l1.7-0.2M458.9,209.6l2.5-3.3M455.3,209.6l3.6,0.0M459.2,218.4l2.3-1.8M466.9,218.4l-3.6-1.9M468.1,222.6l-1.4,3.0M466.8,225.6l-2.1,0.6M461.0,204.2l0.4,2.1M470.6,190.5l2.0-3.2M470.6,190.5l-1.6,0.6M469.0,191.1l-7.0-3.1M472.3,184.7l0.3,2.5M472.3,184.7l-5.9-2.6M466.3,182.1l-4.6,4.7M461.8,186.7l0.2,1.2M479.1,189.0l-6.5-1.8M480.7,192.8l-4.8,3.6M475.9,196.5l-5.4-6.0M466.1,198.5l2.9-7.4M460.0,194.4l0.1,0.5M461.1,189.4l0.9-1.4M475.3,180.6l-3.0,4.1M466.0,179.4l0.3,2.7M456.7,182.6l-0.3-1.2M456.7,182.6l5.1,4.1M456.4,181.4l1.4-3.1M466.2,198.9l1.5,0.9M475.9,196.5l-0.3,1.3M467.7,199.8l7.9-2.0M556.0,359.2l-1.2,0.5M548.6,352.1l1.4,5.3M554.8,359.8l-4.8-2.4M525.9,377.2l-1.8,4.4M525.9,377.2l7.5,1.5M532.7,388.9l1.8-1.9M534.6,387.0l-1.1-8.4M525.9,377.2l-1.1-3.0M533.6,369.1l2.0,7.6M533.5,378.6l2.1-1.9M539.1,376.6l-3.5,0.1M539.1,376.6l4.0,5.0M534.6,387.0l6.9-0.9M543.1,381.6l-1.6,4.6M564.4,362.9l-1.0,3.5M563.4,366.4l-5.5,2.9M554.8,359.8l-1.2,7.1M553.6,366.9l1.1,1.6M554.7,368.5l3.1,0.8M600.0,375.8l-0.0-0.0M599.4,364.9l-3.5,4.7M595.9,369.6l4.1,6.2M590.6,360.5l1.1,8.7M595.9,369.6l-4.2-0.5M583.3,368.5l6.4,2.1M591.6,369.2l-1.9,1.5M562.2,429.1l-1.9,4.1M560.9,434.1l7.8-0.3M567.8,427.5l1.0,0.0M568.8,427.6l-0.1,6.3M572.4,440.4l-2.7-6.0M568.7,433.8l1.0,0.6M449.4,330.5l-1.5-3.6M445.8,326.8l1.2-0.3M447.9,326.9l-1.0-0.4M443.8,320.0l3.4,2.2M447.0,326.5l0.2-4.3M450.0,318.7l-0.6,2.4M449.4,321.1l-2.2,1.1M463.0,326.3l-1.2-0.3M461.0,320.7l-0.7,2.2M461.7,326.0l-1.4-3.1M454.5,323.1l1.9,1.0M454.5,323.1l-1.5,0.8M452.2,325.4l0.7-1.4M452.2,325.4l1.6,3.6M456.4,324.2l1.6,4.8M453.8,328.9l4.1,0.3M457.9,329.2l0.1-0.2M454.8,321.2l-0.4,2.0M460.3,322.9l-3.9,1.2M449.4,321.1l3.6,2.8M447.9,326.9l4.3-1.6M452.0,331.1l1.8-2.2M461.7,326.0l-3.7,3.0M458.6,331.0l-0.6-1.8M476.9,334.8l-3.1,2.5M476.9,334.8l-2.8-3.9M474.2,331.0l-3.4,2.5M470.7,333.4l0.8,3.2M473.9,337.4l-2.3-0.8M474.8,340.0l-1.0-2.6M478.0,335.0l-1.0-0.2M474.4,330.0l-0.2,1.0M479.6,334.2l1.4-4.2M477.0,328.8l3.9,1.1M469.7,333.1l1.0,0.4M469.5,338.6l2.1-2.0M478.1,300.7l0.7-0.8M478.2,306.1l0.2,0.1M478.8,299.9l4.0,3.0M482.8,302.9l0.1,1.7M482.9,304.7l-4.6,1.6M478.1,311.0l1.0-1.9M479.2,309.1l-0.8-2.9M478.8,299.9l0.1-0.5M485.8,299.9l-3.0,3.1M485.8,299.9l-3.3-2.2M478.9,299.4l3.6-1.7M474.9,281.2l0.8,3.8M474.9,281.2l-1.9-1.1M468.1,283.7l0.2-1.0M468.1,283.7l3.5,2.8M473.0,280.1l-4.8,2.6M471.6,286.5l4.2-1.5M469.9,291.1l-1.0,3.6M469.9,291.1l-3.6-2.1M468.9,294.6l-3.6-0.5M465.3,294.1l-0.8-4.1M466.3,288.9l-1.8,1.0M468.1,283.7l-0.9,0.9M467.1,284.6l-0.9,4.3M471.6,290.2l-0.0-3.7M471.6,290.2l-1.7,0.9M463.4,295.6l1.1,3.3M463.4,295.6l-3.8-1.0M459.7,294.7l0.1,5.3M464.5,298.9l-3.8,2.0M460.7,300.9l-1.0-0.9M466.5,299.8l-1.9-0.9M469.2,295.1l-0.2-0.5M465.3,294.1l-1.9,1.5M458.3,294.1l0.7-0.1M459.0,294.0l0.6,0.7M456.3,300.1l3.4-0.1M460.8,303.4l-0.1-2.5M496.0,313.9l-1.4-1.1M492.8,318.8l-1.7-2.9M491.1,316.0l3.4-3.1M494.5,312.8l0.1-0.0M485.8,299.9l0.4-0.0M486.2,299.8l0.8-0.9M482.5,297.7l0.5-2.7M483.0,295.0l3.5-0.9M487.0,298.9l-0.5-4.8M482.0,364.2l2.1-3.8M482.0,364.2l0.2,0.6M482.2,364.8l3.4,1.1M485.6,365.8l2.5-2.0M484.1,360.4l1.3-0.2M485.4,360.2l3.0,2.8M488.1,363.8l0.2-0.9M477.9,362.5l4.1,1.7M481.7,358.7l2.4,1.7M481.2,367.1l1.0-2.3M485.8,369.5l-0.2-3.6M490.0,367.2l-1.9-3.4M486.9,357.2l-1.5,3.0M489.5,362.5l-1.2,0.5M453.4,377.7l2.7-1.3M459.1,380.9l0.9-1.3M460.0,379.6l-4.0-3.2M456.6,375.4l-0.5,1.0M443.4,381.5l-0.1,0.1M441.8,377.2l-2.1,1.4M435.2,375.9l0.0,0.3M495.5,375.9l0.3-0.0M495.9,376.0l-0.0-0.1M496.4,370.3l0.0,0.2M495.8,375.9l0.2-0.2M421.7,305.0l-1.0-3.1M421.7,305.0l-3.3,3.1M420.6,301.8l-4.9,1.3M415.8,303.2l0.7,3.7M418.4,308.1l-1.9-1.2M423.7,305.9l-2.0-1.0M427.9,303.4l-0.7-2.7M420.8,301.4l-0.1,0.4M420.8,301.4l2.5-2.1M423.3,299.4l3.9,1.4M418.6,309.4l-0.2-1.3M416.1,296.3l4.7,5.1M416.0,296.4l-1.9,5.3M414.1,301.7l0.3,0.6M414.4,302.3l1.4,0.8M413.0,308.2l3.4-1.3M410.7,306.5l3.7-4.1M431.3,337.5l2.7,4.0M427.3,342.4l1.9,0.4M433.4,342.0l0.7-0.5M436.8,339.4l-2.2,2.1M434.6,341.5l-0.6-0.0M434.6,341.5l2.4,3.3M389.2,352.9l-0.8,3.9M394.1,357.4l-2.8,1.1M391.3,358.5l-3.0-1.8M355.2,344.9l-0.9,0.8M356.9,350.4l2.4,2.4M356.9,350.4l1.5-2.3M358.4,348.0l3.6,0.4M359.3,352.8l2.7-1.8M362.0,351.0l-0.0-2.5M357.3,345.4l1.2,2.6M355.5,350.5l-1.8-1.9M355.5,350.5l1.4-0.2M385.3,341.9l-2.9-0.2M386.4,346.8l-5.1,1.2M381.3,348.1l-1.1-3.5M380.2,344.6l2.2-2.9M382.0,336.8l-1.1,2.1M382.4,341.7l-1.5-2.7M360.6,343.0l2.8,2.8M362.0,348.5l1.3-1.7M363.4,345.8l-0.0,1.0M349.5,361.1l-0.4,3.9M349.5,361.1l-1.6-1.0M347.9,360.1l-3.9,1.5M349.1,364.9l-4.9-0.5M343.9,361.6l-0.6,1.6M344.1,364.5l-0.8-1.3M347.5,356.6l0.3,3.5M347.5,356.6l-5.2-0.1M342.4,356.4l1.6,5.2M341.3,355.5l-0.8-0.1M341.3,355.5l1.1,0.9M337.8,363.3l5.6-0.1M358.8,355.8l0.5-3.0M361.9,357.2l0.5-0.1M362.0,351.0l2.7,2.1M362.4,357.1l2.4-4.0M363.4,346.8l4.2,2.6M367.5,349.4l-1.3,3.5M364.8,353.1l1.5-0.2M427.3,258.0l-1.3-3.5M427.3,258.0l-1.0,1.4M413.4,261.9l2.9,1.1M430.9,249.5l0.7,2.3M436.0,252.1l-1.5,0.6M434.5,252.7l-2.9-0.9M427.1,253.7l2.6,0.2M431.6,251.8l-1.9,2.1M437.1,290.0l-1.8-2.2M439.0,283.5l-3.8,1.8M435.3,287.9l-0.1-2.5M436.7,292.9l-2.5,0.6M439.0,295.3l-3.5,3.5M435.5,298.8l-2.0-0.2M433.5,298.5l-1.0-0.9M432.5,297.7l1.7-4.2M429.7,304.7l2.5-0.3M427.2,300.7l2.9-3.4M432.3,304.5l1.3-5.9M432.5,297.7l-2.4-0.3M435.3,287.9l-3.6,3.0M434.2,293.5l-2.5-2.6M430.4,266.4l-1.7-1.3M428.7,265.1l-1.4,1.0M427.0,274.9l1.0,2.8M430.4,276.7l-1.5,0.9M428.9,277.6l-0.9,0.0M437.5,277.0l-3.0-0.6M426.3,261.5l2.5,3.3M428.8,264.8l-0.0,0.4M423.8,279.9l4.2-2.3M423.8,279.9l-4.0-1.1M418.6,278.5l-2.0-0.5M432.9,284.1l2.3,1.2M432.9,284.1l-4.1-6.5M390.1,312.2l-0.9,0.4M390.1,312.2l2.7,0.4M388.3,317.6l-0.3-0.9M394.5,314.5l-1.8-1.8M388.0,316.7l1.2-4.1M383.9,326.4l-1.6-3.1M386.5,320.8l-2.9,0.6M383.6,321.5l-1.3,1.8M383.6,315.7l4.4,1.0M383.6,315.7l-1.5,2.3M383.6,321.5l-1.5-3.4M378.1,328.3l-0.1-0.1M378.0,328.2l1.5-4.7M382.3,323.3l-2.9,0.2M400.6,291.7l-3.4,4.5M403.7,296.9l-0.1,0.3M403.6,297.2l-2.1,1.0M401.6,298.1l-4.3-1.9M405.2,302.5l2.5,1.5M405.2,302.5l-0.3-4.1M407.7,304.0l2.3-3.7M404.8,298.4l4.7,0.4M409.5,298.9l0.5,1.5M403.6,297.2l1.2,1.3M401.4,303.6l3.8-1.1M401.4,303.6l-1.2-1.9M400.2,301.8l1.4-3.6M409.7,306.4l-1.7-1.2M414.1,301.7l-4.1-1.3M408.0,305.2l-0.3-1.2M410.3,296.8l-0.8,2.1M408.0,305.2l-4.1,3.0M401.4,303.6l-0.1,0.4M401.3,304.0l2.6,4.3M403.6,309.7l-0.1-0.2M403.5,309.5l0.4-1.3M396.1,305.3l-1.9,2.0M396.1,305.3l2.6,0.9M398.7,306.2l0.3,2.7M394.2,307.3l0.7,1.8M394.8,309.1l3.3,0.8M398.1,309.9l1.0-0.9M401.3,304.0l-2.6,2.2M403.5,309.5l-4.5-0.6M390.1,312.2l0.4-5.2M390.4,307.0l1.1-0.5M391.5,306.5l2.7,0.8M392.7,312.7l2.1-3.5M398.2,314.0l-0.1-4.1M336.0,268.9l-1.3-0.8M329.1,270.2l1.2-1.5M334.7,268.1l-4.4,0.7M345.6,295.6l0.7,0.1M346.3,295.7l0.5-0.7M344.2,300.0l2.5-1.8M346.7,298.2l-0.4-2.5M346.6,287.2l-1.1,2.1M351.7,288.5l0.2,1.4M351.9,289.9l-1.0,0.8M353.0,294.8l0.6-2.9M353.6,291.7l0.1-0.3M353.0,294.8l-1.7,0.7M353.6,291.4l-1.7-1.5M351.3,295.6l-2.2-1.5M351.5,281.9l1.5-3.6M358.5,272.2l-3.1,0.3M358.5,272.2l-0.2-3.0M357.5,279.9l-1.2-2.1M356.4,277.8l-0.8-0.3M354.5,283.1l2.6-1.5M362.7,271.9l2.6,1.7M362.7,271.9l-3.6,0.9M365.3,273.6l-3.1,3.8M362.2,277.4l-3.0-2.7M359.2,274.7l-0.1-1.9M362.3,279.0l-0.1-1.6M356.4,277.8l2.8-3.1M358.5,272.2l0.6,0.5M362.5,267.0l1.3-2.5M362.5,267.0l0.4,0.6M363.0,267.6l2.9,0.8M363.8,264.5l1.0-0.2M362.3,261.1l1.5,3.4M360.9,266.9l1.7,0.1M362.7,271.9l0.3-4.3M366.8,272.3l-1.4,1.3M365.3,273.6l2.4,3.5M367.7,277.1l0.6-0.1M365.3,273.6l0.1-0.0M363.0,279.7l3.6,0.2M366.6,279.9l1.1-2.8M370.4,282.5l-2.0-0.2M368.4,282.3l-1.8-2.4M366.8,294.0l-2.9-2.6M366.8,294.0l3.6-2.6M369.4,289.1l1.0,2.3M369.4,289.1l-2.2-0.7M363.9,291.4l3.4-3.0M372.2,285.8l-2.7,3.3M368.4,282.3l-2.6,3.2M367.3,288.4l-1.5-2.9M362.3,282.9l1.9,2.5M365.8,285.5l-1.6-0.2M341.6,315.2l3.4,0.7M344.6,318.7l0.7-0.5M345.0,315.9l0.3,2.3M362.5,245.8l3.2,1.8M362.5,245.8l0.3-0.3M362.3,245.8l0.2-0.0M366.0,249.8l0.0-1.4M491.6,178.7l0.0-0.7M483.1,174.0l2.6-0.9M482.7,164.3l6.5,3.7M489.2,167.9l-0.5,3.0M501.3,311.9l-0.2-0.8M494.6,312.8l2.5-4.9M501.2,311.0l-4.0-3.0M507.9,308.1l-4.7-0.4M507.9,308.1l-0.2-6.6M507.6,301.5l-2.9,0.8M504.7,302.3l-2.4,3.4M502.2,305.7l0.9,2.0M509.5,310.5l-1.6-2.3M501.2,311.0l2.0-3.3M509.1,299.6l-1.5,1.9M500.6,298.9l0.2,1.8M500.8,300.7l3.9,1.6M477.4,324.0l3.3-0.0M481.0,329.9l0.7-0.3M480.7,324.0l0.9,5.7M485.1,331.7l-2.0-2.0M489.8,326.9l-3.8-0.8M486.0,326.1l-2.9,3.6M483.1,329.7l-1.5-0.1M489.6,310.6l1.7-0.3M489.6,310.6l-2.0,4.5M491.1,316.0l-3.4-0.6M491.4,310.2l3.1,2.6M487.6,315.1l0.1,0.3M493.4,337.4l-0.1,0.4M493.4,337.4l3.9-2.6M493.3,337.9l1.9,2.3M495.2,340.1l2.9-0.0M497.3,334.8l0.2,0.1M497.6,334.9l1.5,3.7M499.1,338.6l-1.0,1.5M491.3,333.8l2.1,3.6M491.2,339.0l2.2-1.2M496.6,332.4l0.7,2.4M494.0,344.0l1.3-3.8M499.0,342.4l-0.9-2.3M501.4,330.7l1.2,2.3M502.6,333.0l-0.7,1.2M501.9,334.2l-4.3,0.7M501.9,334.2l1.2,4.2M503.0,338.4l-4.0,0.3M502.1,343.0l2.2-3.8M503.0,338.4l1.3,0.9M513.1,339.3l-2.3-6.5M513.1,339.3l-4.5,1.8M508.7,341.1l-3.7-2.0M504.9,339.2l2.7-6.5M510.9,332.9l-3.0-0.3M507.9,332.5l-0.3,0.2M514.9,340.1l-1.8-0.8M514.3,329.2l-3.5,3.7M507.3,346.9l1.4-5.8M504.3,339.2l0.6-0.1M502.6,333.0l5.0-0.3M505.4,326.9l2.5,5.6M428.9,173.9l-2.7-0.6M425.3,171.7l0.9,1.7M424.3,187.1l-1.7-2.4M424.3,187.1l2.5,0.2M428.6,182.7l-3.3-0.7M428.6,182.7l0.1,0.1M422.5,184.7l2.8-2.7M426.7,187.3l1.9-4.5M447.3,203.8l-0.9-0.3M444.3,208.1l0.1-3.4M444.5,204.7l1.9-1.1M456.4,181.4l-3.9-1.0M455.1,172.5l-4.9,3.0M452.5,180.4l-2.4-3.0M450.2,175.5l-0.1,1.9M466.9,239.5l1.0-4.1M467.5,234.8l0.5,0.6M466.8,225.6l1.0,1.3M436.6,230.3l-4.3-1.4M434.8,223.9l-1.2,0.5M432.4,228.9l1.2-4.5M434.4,218.4l-0.7-0.4M433.7,218.0l-3.9,0.6M429.5,219.0l0.3-0.3M429.5,219.0l0.6,4.7M433.6,224.4l-3.4-0.7M415.5,240.6l-0.8-3.1M422.4,240.8l-1.7-3.3M420.7,237.5l-6.0-0.0M409.4,238.1l4.9-1.0M414.8,237.5l-0.4-0.4M435.2,234.6l-3.2-0.3M432.4,228.9l-1.7,0.9M430.7,229.8l-0.4,1.3M430.3,231.1l1.7,3.2M431.4,239.7l-0.9-3.6M430.5,236.1l1.5-1.8M432.7,206.0l-1.6,2.8M432.7,206.0l3.5,2.0M434.1,212.0l-0.1,0.0M431.1,208.8l2.9,3.3M433.7,218.0l-0.3-5.1M434.0,212.1l-0.6,0.8M450.6,280.3l3.9,0.1M451.1,273.6l0.4-0.0M454.5,280.4l1.1-1.2M455.6,279.3l-1.0-5.5M454.7,286.1l0.7,1.6M454.7,286.1l0.8-1.4M455.5,284.7l5.3-0.6M455.4,287.7l5.2,2.1M460.6,289.8l0.4-0.3M461.0,289.5l0.1-4.8M460.7,284.1l0.4,0.5M454.1,291.8l1.3-4.1M451.0,286.3l3.6-0.2M454.5,280.4l0.9,4.3M455.6,279.3l5.3,0.1M460.9,279.4l-0.2,4.7M459.0,294.0l1.5-4.2M464.5,290.0l-3.5-0.5M467.1,284.6l-6.0,0.0M468.8,261.3l-6.0,3.0M461.7,264.1l1.1,0.2M474.9,281.2l3.7-1.8M478.9,275.8l-4.3-2.3M473.0,280.1l-0.7-4.8M472.4,275.3l2.2-1.8M478.9,268.3l-4.1,3.7M474.7,271.9l-0.2,1.6M471.3,266.1l-0.5,1.2M474.7,271.9l-3.9-4.6M462.8,264.3l5.0,4.6M470.8,267.3l-2.9,1.5M441.5,298.0l-0.8,3.5M444.0,302.8l-2.2-0.0M440.6,301.5l1.1,1.3M435.5,298.8l2.2,2.5M440.6,301.5l-2.9-0.2M444.6,308.8l-4.2-2.3M441.8,302.8l-1.4,3.7M443.9,168.1l0.9,0.6M440.2,172.3l4.4,0.2M444.8,168.8l-0.3,3.7M439.5,174.1l2.6,2.4M442.2,176.5l2.7-0.7M444.9,175.8l1.0-2.0M444.6,172.5l1.3,1.4M450.2,175.5l-2.9-1.8M450.1,177.4l-3.8,1.9M446.3,179.3l-1.4-3.5M445.9,173.8l1.3-0.2M420.5,218.8l-3.2,1.1M420.5,218.8l0.0,0.0M419.6,225.2l3.6-1.9M419.6,225.2l-3.8-2.2M423.2,223.3l-2.7-4.5M415.8,223.1l1.5-3.1M408.0,226.7l2.0-1.3M415.1,231.7l-0.8,5.4M415.1,231.7l-4.7-6.2M410.0,225.4l0.5,0.1M400.4,216.5l7.5,2.1M410.0,225.4l-2.1-6.8M419.2,207.9l-7.2,4.4M419.2,207.9l0.4,0.1M419.6,208.0l1.2,5.2M413.6,213.9l-1.5-0.9M413.6,213.9l6.6-0.1M420.2,213.7l0.5-0.5M412.0,212.3l0.1,0.7M409.0,207.3l3.0,5.0M412.2,202.7l2.5-0.0M414.7,202.7l4.5,5.3M415.8,223.1l-5.3,2.5M417.3,219.9l-3.7-6.1M407.9,218.6l4.3-5.6M420.5,218.8l-0.3-5.1M478.3,203.0l-0.3-0.2M478.3,203.0l1.6,6.4M478.0,202.8l-7.6,3.7M479.9,209.4l-0.7,1.2M479.2,210.6l-6.9,0.7M472.3,211.3l-2.6-3.0M469.7,208.4l0.6-1.8M485.5,200.7l-7.2,2.3M475.6,197.8l2.4,5.0M487.8,208.8l-7.9,0.7M467.7,199.8l2.6,6.7M483.3,218.5l-2.5-0.5M480.8,218.0l-1.6-7.4M480.8,218.0l-3.5,1.9M472.0,215.8l0.3-4.5M467.2,209.1l2.5-0.8M547.6,366.3l-2.9-4.4M547.6,366.3l-3.3,5.4M537.9,366.7l4.8,5.1M537.9,366.7l6.3-4.9M544.2,361.8l0.6,0.1M542.7,371.8l1.6-0.1M550.0,357.4l-5.2,4.6M553.6,366.9l-5.9-0.6M537.0,366.6l1.0,0.1M539.1,376.6l3.7-4.8M540.1,356.9l4.1,5.0M543.7,388.6l5.9,0.5M543.7,388.6l-0.5,2.5M550.9,393.2l0.2-0.4M551.2,392.8l-1.5-3.7M535.0,395.3l2.9,0.4M541.5,386.2l2.3,2.4M559.7,388.0l0.6-1.1M552.1,393.1l-0.9-0.3M560.2,386.9l-0.2-0.3M560.0,386.6l-7.2-1.9M552.7,384.7l-3.1,4.4M552.3,383.2l2.2-5.0M552.3,383.2l-5.9-3.1M554.4,378.2l-3.0-4.0M546.3,380.1l1.5-5.4M547.8,374.7l3.6-0.6M561.2,377.4l-0.5-0.3M561.2,377.4l-1.2,9.2M552.7,384.7l-0.4-1.4M560.7,377.1l-6.2,1.2M543.1,381.6l3.3-1.5M554.7,368.5l-3.3,5.6M557.9,369.3l2.8,7.7M544.4,371.7l3.4,3.0M601.0,381.8l-6.0,3.6M595.0,385.4l-5.8-6.5M600.0,375.8l-10.8,2.6M589.2,378.8l0.0-0.4M589.8,370.7l-0.7,7.6M589.2,378.5l-0.1-0.3M580.7,371.0l0.1,4.4M589.1,378.2l-8.3-2.8M587.9,415.5l0.6-0.8M587.9,415.5l1.5,4.8M588.5,414.7l0.8,0.0M593.2,419.7l-3.7,0.5M568.8,427.6l0.5-0.6M579.3,437.2l-0.3-3.4M588.6,432.4l-0.9-1.0M587.7,431.4l-4.1-1.4M579.0,433.7l4.5-3.8M586.7,423.1l-4.4,3.6M586.7,423.1l1.0,0.1M587.7,423.2l0.6,0.8M588.3,424.0l-0.6,7.4M583.6,430.0l-1.3-3.3M572.5,415.3l1.4,0.5M575.6,409.3l1.6,3.7M575.6,409.3l-3.2,0.5M573.9,415.8l3.3-2.8M483.7,305.4l0.3,4.2M483.7,305.4l5.1-0.7M487.8,308.8l0.9-4.2M487.8,308.8l-3.8,0.7M483.9,309.6l-0.0-0.0M482.9,304.7l0.7,0.7M479.2,309.1l4.8,0.4M486.2,299.8l2.7,4.6M488.9,304.4l-0.2,0.2M489.6,310.6l-1.9-1.8M488.9,304.4l1.9-0.2M491.4,310.2l1.7-4.4M490.8,304.2l2.3,1.6M484.0,311.8l3.6,3.3M484.0,311.8l-0.1-2.2M479.8,313.6l1.4,0.3M484.0,311.8l-2.9,2.1M474.3,295.8l0.7-4.4M474.3,295.8l3.4,1.5M477.8,297.2l1.9-3.5M479.6,293.8l-3.3-3.1M476.3,290.6l-1.3,0.7M472.6,296.8l1.8-1.0M471.6,290.2l3.4,1.2M478.9,299.4l-1.1-2.2M481.3,293.5l1.7,1.5M481.3,293.5l-1.7,0.3M476.8,289.8l-0.6-4.5M476.8,289.8l-0.5,0.9M476.2,285.3l-0.4-0.3M497.2,282.9l-3.7,1.4M491.0,280.2l0.5,2.8M491.5,283.0l2.0,1.3M498.5,290.2l-4.4-2.1M493.5,284.2l0.6,3.8M498.3,293.3l-5.1,1.0M493.1,294.3l-0.6-4.6M494.0,288.1l-1.5,1.7M482.9,283.2l-1.1,1.2M482.9,283.2l4.1,2.0M481.8,284.4l-0.5,4.5M487.0,285.2l0.0,1.5M487.0,286.7l-2.4,3.4M484.6,290.1l-2.2-0.0M481.3,288.9l1.1,1.2M482.8,282.2l0.1,1.0M476.2,285.3l5.6-0.9M491.5,283.0l-4.5,2.2M476.8,289.8l4.5-0.9M489.7,290.0l-2.7-3.3M489.7,290.0l2.9-0.3M487.5,293.3l-0.4,0.1M487.5,293.3l2.2-3.3M487.1,293.4l-2.5-3.3M481.3,293.5l1.1-3.4M486.5,294.1l0.5-0.7M489.9,298.5l1.6-3.2M489.9,298.5l2.1,2.3M491.9,300.7l3.3-1.4M492.7,294.9l-1.2,0.3M492.7,294.9l2.6,4.1M495.3,299.1l-0.1,0.3M487.0,298.9l2.9-0.4M487.5,293.3l4.0,2.0M490.8,304.2l1.1-3.5M493.1,294.3l-0.4,0.6M497.9,297.4l-2.6,1.6M460.5,379.5l1.0-1.4M460.5,379.5l2.1,1.8M460.0,379.6l0.4-0.1M513.7,384.6l2.4-1.4M511.6,378.7l2.4-0.2M514.0,378.5l2.0,4.6M516.3,383.3l-0.2-0.1M515.7,373.0l-1.7,5.6M436.8,345.2l-1.6,1.3M391.3,358.5l-0.1,1.2M387.7,357.1l0.7-0.3M387.7,357.1l-0.7,1.6M341.3,355.5l1.9-2.1M354.5,354.4l-0.5-1.1M354.5,354.4l-1.9,3.5M354.0,353.3l-2.1-0.5M352.6,357.9l-3.8-2.5M348.8,355.4l0.0-0.4M358.8,355.8l-4.3-1.4M355.5,350.5l-1.5,2.8M352.8,358.7l-0.2-0.8M352.2,360.1l-2.7,1.0M347.5,356.6l1.3-1.2M380.2,344.6l-3.2-0.8M380.9,339.0l-3.9-0.3M377.0,343.8l-0.1-5.2M378.1,333.2l0.1-0.0M378.1,333.2l-1.8,4.9M376.3,338.1l0.7,0.5M375.4,354.6l0.4,0.9M375.4,354.6l1.7-4.8M375.8,355.5l6.2-0.9M380.8,349.3l-3.6,0.6M380.8,349.3l1.6,3.6M382.4,352.9l-0.4,1.7M388.3,351.3l-5.8,1.6M381.3,348.1l-0.5,1.2M387.7,357.1l-5.4-1.9M382.2,355.1l-0.2-0.5M362.8,363.2l-2.5-0.6M362.8,363.2l3.7-3.4M362.4,357.1l4.2,2.6M366.5,359.8l-0.0-0.1M368.6,354.9l-2.4-2.0M368.6,354.9l0.2,2.1M366.5,359.7l2.3-2.7M430.3,258.1l0.8-1.6M430.3,258.1l1.2,3.4M431.1,256.6l2.5-0.3M433.6,256.2l2.2,2.1M435.8,258.3l-1.3,2.8M431.5,261.6l3.0-0.4M427.3,258.0l3.0,0.2M429.8,253.9l1.3,2.7M428.8,264.8l2.7-3.2M434.5,252.7l-0.9,3.5M436.3,258.1l-0.5,0.2M435.1,261.8l-0.6-0.7M432.9,284.1l-3.5,3.6M431.7,290.9l-0.0-0.0M431.7,290.9l-2.2-3.1M378.1,333.2l-3.7-0.8M374.4,332.4l-1.3-4.4M378.0,328.2l-4.7-0.5M373.1,327.9l0.2-0.2M379.5,323.5l-1.5-1.0M378.0,322.5l-4.0,1.6M373.3,327.7l0.6-3.6M373.1,327.9l-3.0,0.4M370.2,328.3l-1.5-1.6M368.7,326.7l0.3-4.5M374.0,324.1l-1.7-2.0M372.2,322.1l-3.3,0.1M392.1,288.5l-1.1,2.7M392.1,288.5l-1.8-1.0M390.9,291.2l-1.4,0.1M393.6,288.0l-1.5,0.5M396.5,289.5l-2.2,4.6M394.2,294.1l-1.6-0.3M392.6,293.8l-1.7-2.6M392.6,293.8l-3.3,2.3M389.3,296.1l-1.3-0.2M395.7,302.6l-3.5-0.8M395.7,302.6l1.4-1.2M397.1,301.4l-0.9-5.0M391.7,299.7l-0.2,1.4M391.7,299.7l4.1-3.4M395.8,296.3l0.3,0.1M391.5,301.1l0.6,0.7M391.5,306.5l0.6-4.7M396.1,305.3l-0.5-2.7M400.2,301.8l-3.1-0.3M397.3,296.2l-1.1,0.2M394.2,294.1l1.6,2.3M389.3,296.1l2.4,3.6M374.8,287.8l-0.4,4.2M370.4,291.4l1.7,1.0M374.4,292.1l-2.4,0.3M366.8,294.0l0.1,2.6M366.8,296.7l4.1,0.9M372.0,292.4l-0.5,2.2M371.0,297.3l-0.1,0.3M334.7,268.1l-1.4-4.6M330.3,268.7l-0.2-3.1M336.9,262.8l-3.3,0.2M355.0,296.1l2.5-1.4M355.0,296.1l0.1,2.9M359.2,296.1l-1.7-1.3M359.2,296.1l-0.2,2.6M364.4,297.9l-1.6,1.4M364.4,297.9l-2.6-2.7M361.8,295.2l-2.6,0.9M362.5,291.9l-5.0-0.4M362.5,291.9l0.7-0.6M363.1,291.4l-1.4-3.6M361.7,287.8l-2.9-0.8M358.8,287.0l-1.0,0.6M357.9,287.6l-0.7,3.7M357.2,291.3l0.2,0.3M361.8,295.2l0.7-3.2M357.5,294.7l-0.1-3.2M364.4,297.9l0.9-0.0M366.8,296.7l-1.5,1.2M363.9,291.4l-0.7-0.0M364.2,285.3l-2.5,2.5M359.4,283.8l-0.6,3.2M355.1,286.2l2.8,1.3M353.6,291.4l3.6-0.2M353.0,294.8l2.1,1.3M345.0,315.9l1.5-2.2M345.2,318.2l2.1,1.7M350.3,314.5l-3.8-0.8M350.3,314.5l0.6,4.7M350.9,319.2l-3.0,0.9M351.3,325.8l1.4,2.5M352.8,328.3l-0.2,0.7M354.8,332.4l0.1-0.2M354.0,331.3l0.9,0.9M358.1,338.7l1.3-3.4M359.4,335.3l-3.0-3.1M354.9,332.2l1.6,0.1M362.7,330.0l-3.3-1.2M362.7,330.0l1.8-3.5M364.5,326.5l-1.0-2.4M359.4,328.7l-0.3-0.6M359.1,328.1l1.2-4.5M363.5,324.1l-3.3-0.5M363.2,331.1l-1.0,3.0M363.2,331.1l-0.5-1.1M362.2,334.1l-2.8,1.2M356.5,332.3l2.9-3.5M368.5,331.7l1.7-3.3M368.5,331.7l-5.3-0.6M368.7,326.7l-4.2-0.3M364.7,322.4l-1.1,1.7M364.7,322.4l3.8-0.6M368.5,321.8l0.4,0.4M355.5,326.7l3.6,1.4M355.5,326.7l-2.8,1.5M493.2,166.0l2.9,2.2M493.2,166.0l-0.4-5.8M496.1,168.2l5.5-3.5M492.8,160.2l6.5,0.2M499.3,160.4l2.3,4.3M496.5,170.7l-0.4-2.5M489.2,167.9l4.0-1.9M492.0,159.2l0.8,1.0M509.4,166.8l-2.1-0.6M502.2,164.9l-0.7-0.2M501.3,157.2l-2.0,3.3M494.0,305.8l2.6-3.9M494.0,305.8l3.1,2.1M497.1,307.9l2.7-2.7M499.8,305.2l-0.8-2.8M499.0,302.5l-2.4-0.5M493.1,305.8l0.9-0.0M495.2,299.4l1.4,2.6M497.1,308.0l-0.0-0.1M502.2,305.7l-2.5-0.5M500.8,300.7l-1.8,1.7M480.4,319.0l2.0-2.1M480.4,319.0l1.9,3.6M482.4,316.9l4.0,0.5M484.5,322.6l-2.1-0.0M484.5,322.6l2.1-2.3M486.6,320.3l-0.2-3.0M477.2,318.4l3.2,0.6M481.1,313.9l1.3,3.0M480.7,324.0l1.6-1.4M487.7,315.4l-1.3,2.0M486.0,326.1l-1.6-3.5M490.8,322.0l-4.2-1.7M424.3,187.1l-2.2,3.6M419.4,189.1l2.1,1.7M421.0,184.4l1.5,0.3M422.0,190.7l-0.5,0.1M426.7,187.3l1.5,1.9M428.2,189.2l-1.4,4.3M422.0,190.7l4.7,2.8M423.9,179.2l-2.1,0.4M423.9,179.2l0.8-1.6M424.3,176.2l-1.1-0.6M424.3,176.2l0.4,1.5M425.3,182.0l-1.4-2.8M428.9,178.0l-4.2-0.3M428.9,178.0l-0.3,4.8M426.2,173.4l-2.0,2.8M429.3,177.6l-0.4,0.4M449.4,198.4l-0.3-0.1M446.3,203.5l0.1-2.7M449.1,198.4l-2.7,2.4M432.1,188.4l-0.2,0.2M432.1,188.4l4.4,0.2M431.9,188.6l0.7,4.2M432.7,192.8l3.3,0.6M436.0,193.4l1.5-3.1M436.5,188.7l1.0,1.6M432.1,185.9l-3.1-3.1M432.1,185.9l0.0,2.5M428.7,182.8l0.3,0.1M428.2,189.2l3.7-0.6M445.4,185.3l0.4,2.2M445.4,185.3l2.3-2.9M445.7,187.5l3.5,0.0M448.7,182.6l-1.0-0.2M448.7,182.6l1.6,3.2M450.2,185.8l-1.0,1.7M452.5,180.4l-3.8,2.2M446.1,180.0l0.2-0.7M446.1,180.0l1.6,2.4M456.7,182.6l-2.2,2.4M454.5,185.0l-4.3,0.8M432.1,185.9l3.4-2.6M436.5,188.7l1.3-4.1M437.8,184.5l-2.3-1.2M432.6,177.8l1.6,2.5M437.6,175.7l0.1,2.6M437.7,178.3l-3.5,2.0M429.0,182.9l5.2-2.2M435.5,183.4l-1.4-2.7M434.2,180.3l-0.1,0.4M475.2,242.4l-0.1-3.3M467.9,235.3l3.8-0.0M475.2,239.1l-3.5-3.8M483.4,235.9l-2.4-1.4M475.2,239.1l5.8-4.6M429.3,224.2l-0.7,3.1M429.3,224.2l-4.5-1.0M428.6,227.4l-3.7,0.7M424.9,228.0l-0.6-4.5M424.8,223.2l-0.6,0.3M430.7,229.8l-2.1-2.5M430.1,223.7l-0.8,0.6M429.5,219.0l-3.3,0.7M426.2,219.7l-1.4,3.6M426.2,219.7l-2.0-1.8M423.2,223.3l1.0,0.2M420.5,218.8l3.7-1.0M415.1,231.7l3.3-1.0M419.6,225.2l0.6,2.9M418.4,230.8l1.8-2.7M424.9,228.0l-0.4,0.6M420.2,228.1l4.3,0.5M448.7,193.2l1.5-4.1M448.7,193.2l1.6,0.3M450.1,189.1l1.4,0.2M454.5,185.0l-0.3,2.3M449.2,187.5l0.9,1.6M429.8,218.6l-1.7-4.3M424.2,217.8l0.7-2.6M424.9,215.2l3.2-0.9M420.8,213.2l1.9-0.0M424.9,215.2l-2.3-2.0M433.4,212.9l-4.9,0.6M428.1,214.3l0.4-0.8M427.0,206.1l2.6,2.9M427.0,206.1l-2.2,3.3M429.6,208.9l-1.6,3.0M428.0,211.9l-3.1-1.7M424.7,209.3l0.2,0.9M426.9,205.0l0.0,1.1M426.9,205.0l5.4-0.1M432.3,204.9l0.3,1.2M431.1,208.8l-1.5,0.1M421.5,205.5l5.1-1.1M421.5,205.5l-1.2,2.0M426.6,204.5l0.3,0.5M420.4,207.6l4.4,1.8M428.5,213.5l-0.5-1.5M422.7,213.2l2.3-2.9M420.4,207.6l-0.8,0.4M466.1,279.5l2.0-5.0M466.1,279.5l-5.0-0.4M461.1,279.1l-0.0-4.8M468.1,274.6l-1.6-2.1M466.5,272.5l-3.9,0.2M461.1,274.3l1.6-1.6M468.3,282.7l-2.1-3.1M472.4,275.3l-4.2-0.7M460.9,279.4l0.2-0.2M456.3,273.2l4.8,1.1M467.9,268.8l-1.3,3.7M460.8,268.2l1.9,4.5M433.8,305.4l1.6-0.1M433.8,305.4l-0.7,4.9M435.4,305.3l3.3,2.3M438.7,307.5l-0.5,3.7M438.1,311.3l-2.6,0.7M435.5,312.0l-2.3-1.6M432.3,304.5l1.5,0.9M437.8,301.3l-2.3,4.0M429.3,310.9l3.8-0.6M440.4,306.5l-1.7,1.0M438.7,311.7l-0.6-0.5M433.9,315.8l1.6-3.9M446.9,168.4l2.0,2.0M446.9,168.4l1.9-3.9M448.9,170.4l4.7-0.9M448.8,164.5l3.9,1.1M452.7,165.6l0.9,3.9M444.8,168.8l2.1-0.4M447.2,173.7l1.7-3.2M446.8,162.2l2.1,2.4M455.2,171.4l-1.6-1.9M456.6,160.8l-3.9,4.9M568.9,382.3l0.6-0.2M569.7,382.0l6.1-2.3M568.9,382.3l-4.5-5.4M575.8,379.8l-4.9-7.6M564.4,376.9l3.6-4.5M570.9,372.2l-2.9,0.3M574.0,368.5l-3.1,3.7M580.8,375.4l-4.5,4.6M576.3,379.9l-0.6-0.2M563.4,366.4l4.6,6.0M561.2,377.4l3.2-0.5M595.0,385.4l-0.8,3.8M600.1,392.6l-4.0-1.3M594.1,389.1l2.0,2.1M589.2,378.8l-4.1,5.4M576.3,379.9l1.2,2.2M585.2,384.2l-7.6-2.1M595.1,422.7l-0.3-0.2M594.8,422.5l-2.9,2.6M591.9,425.0l0.9,2.0M594.3,420.6l0.5,1.9M589.5,420.3l-1.8,3.0M588.3,424.0l3.6,1.0M569.7,434.4l5.1-3.6M569.8,426.6l1.9-0.4M574.8,430.9l-3.0-4.6M579.0,433.7l-2.7-2.8M574.8,430.9l1.6,0.1M587.9,415.5l-3.2,1.0M586.7,423.1l-3.0-2.9M583.7,420.2l1.1-3.8M377.0,343.8l-1.2,0.6M377.2,349.8l-2.0-1.6M375.2,348.3l0.7-3.9M372.0,352.7l-0.5-3.7M372.0,352.7l3.4,1.9M375.2,348.3l-3.7,0.7M372.0,352.7l-3.4,2.2M367.5,349.4l2.7-1.3M371.5,349.0l-1.3-0.9M360.5,340.9l3.8-1.5M363.4,345.8l3.4-2.5M366.8,343.3l-2.5-3.9M362.2,334.1l3.1,3.2M365.4,337.3l-1.1,2.1M382.2,355.1l-0.3,2.9M349.4,387.8l3.4-0.7M352.8,387.1l2.0,2.1M364.1,367.7l2.2,3.3M364.1,367.7l-4.6,1.1M366.3,371.0l-3.0,2.7M363.3,373.7l-1.9-0.6M361.4,373.1l-1.9-4.3M362.8,363.2l1.8,3.1M358.4,363.2l-0.4,4.1M364.6,366.3l-0.4,1.3M358.0,367.3l0.9,1.2M359.5,368.8l-0.6-0.3M335.5,367.0l4.4,3.8M344.1,364.5l-0.5,3.6M343.7,368.1l-3.7,2.7M334.0,376.5l6.5-1.9M339.9,370.8l0.5,3.7M338.9,383.6l2.8-7.9M341.7,375.7l-1.3-1.2M423.8,279.9l0.1,2.1M429.4,287.7l-1.4-0.1M428.1,287.6l-4.2-5.7M418.7,288.6l3.9-3.1M423.8,282.0l-1.3,3.6M428.5,294.7l0.2-1.4M428.5,294.7l-5.5,0.7M428.7,293.3l-2.5-2.9M422.6,292.2l1.6-1.7M422.6,292.2l-0.1,2.6M424.2,290.5l2.1-0.1M422.5,294.8l0.5,0.6M430.1,297.3l-1.6-2.6M431.7,290.9l-3.0,2.4M423.3,299.4l-0.3-3.9M428.1,287.6l-1.8,2.7M418.4,289.4l4.2,2.8M422.5,285.5l1.7,5.0M417.1,295.4l5.3-0.6M365.3,297.8l0.5,1.5M370.9,297.5l0.2,0.2M371.1,297.8l-0.0,0.0M391.5,301.1l-3.6,0.7M386.1,297.9l0.3,2.8M388.0,301.8l-1.5-1.1M390.4,307.0l-3.2-1.1M388.0,301.8l-0.7,4.2M382.1,318.0l-4.3-0.6M378.0,322.5l-1.0-4.2M377.8,317.4l-0.8,0.8M372.2,322.1l1.6-4.0M377.0,318.2l-3.2-0.1M368.2,318.3l3.9-1.7M368.2,318.3l0.3,3.5M373.8,318.1l-1.6-1.5M378.1,315.1l-2.5-3.2M378.1,315.1l-0.2,2.3M372.2,316.6l-0.1-1.1M372.1,315.5l3.2-3.6M375.3,311.9l0.3,0.0M364.7,322.4l-1.0-2.9M368.2,318.3l-2.2-1.5M366.1,316.8l-2.5,2.7M358.6,321.8l-2.5,1.6M358.6,321.8l0.1-2.0M358.6,319.8l-3.1-1.8M356.0,323.4l-3.3-1.0M355.6,317.9l-3.7,1.7M352.7,322.4l-0.9-2.8M355.5,326.7l0.5-3.3M360.3,323.6l-1.7-1.9M363.6,319.5l-3.9-0.6M359.8,318.9l-1.1,0.9M351.8,323.8l0.9-1.4M350.9,319.2l0.9,0.4M423.0,196.7l-3.7-1.8M423.0,196.7l-0.1,3.6M422.9,200.3l-2.3,1.2M418.2,195.3l1.1-0.3M418.2,195.3l-0.4,5.5M420.6,201.4l-2.8-0.6M421.5,205.5l-1.0-4.1M426.6,204.5l-0.1-2.5M426.5,202.0l-3.7-1.7M416.7,194.6l1.5,0.7M421.6,190.7l-2.3,4.2M414.7,202.7l3.1-1.9M444.5,204.7l-2.8-1.2M446.4,200.8l-2.8-2.9M443.6,197.9l-1.6,1.1M442.0,199.0l-0.4,4.5M437.9,207.3l0.9-3.3M441.6,203.5l-2.9,0.5M433.2,202.9l4.3-0.1M433.2,202.9l-0.8,2.0M438.8,204.0l-1.3-1.3M442.0,192.6l-0.2,1.4M442.0,192.6l3.4-1.6M441.9,194.0l2.0,2.5M443.9,196.5l3.6-1.4M445.5,191.1l2.8,2.3M448.3,193.3l-0.8,1.9M440.4,190.5l1.3-2.5M440.4,190.5l1.7,2.1M441.7,188.0l3.9-0.2M445.6,187.8l-0.1,3.3M449.1,198.4l-1.6-3.2M443.6,197.9l0.3-1.3M445.6,187.8l0.2-0.2M448.7,193.2l-0.3,0.1M434.6,197.8l1.7-3.7M434.6,197.8l3.0,1.7M437.6,199.5l1.4-1.2M439.0,198.3l-0.0-2.9M438.9,195.4l-2.6-1.3M442.0,199.0l-3.1-0.7M437.5,202.7l0.1-3.2M441.9,194.0l-2.9,1.4M440.4,190.5l-2.9-0.2M436.0,193.4l0.3,0.7M431.3,199.5l1.0-1.2M431.3,199.5l-2.5,0.0M432.4,198.4l-0.9-4.5M428.9,199.6l-2.5-4.8M431.5,193.8l-4.7-0.3M426.4,194.8l0.4-1.3M433.2,202.9l-1.8-3.3M434.6,197.8l-2.2,0.6M426.5,202.0l2.3-2.4M432.7,192.8l-1.2,1.0M423.0,196.7l3.4-1.9M426.8,193.5l0.0,0.1M440.0,184.7l2.7-1.0M440.0,184.7l-1.3-0.4M438.7,184.3l1.0-4.4M442.8,183.7l0.9-3.0M443.6,180.7l-2.2-1.4M441.5,179.3l-1.8,0.5M441.7,188.0l-1.7-3.3M445.4,185.3l-2.6-1.6M437.8,184.5l0.9-0.3M437.7,178.3l2.0,1.5M446.1,180.0l-2.4,0.6M442.2,176.5l-0.7,2.8M480.7,228.4l-0.9-0.8M480.7,228.4l-0.6,4.3M480.1,232.7l-5.9-0.7M473.6,230.1l0.6,2.0M485.5,226.1l-4.8,2.3M476.0,223.0l0.0,0.3M481.0,234.5l-0.9-1.8M471.7,235.3l2.5-3.3M426.6,232.2l0.5,4.1M426.6,232.2l-1.7-0.9M424.9,231.3l-2.6,2.0M426.6,236.8l0.5-0.5M426.6,236.8l-4.5-0.8M422.1,236.0l0.1-2.7M430.3,231.1l-3.7,1.1M430.5,236.1l-3.4,0.2M424.5,228.6l0.4,2.7M418.4,230.8l3.8,2.5M426.6,240.0l0.0-3.3M420.7,237.5l1.4-1.5M568.9,382.3l-0.2,0.5M577.5,382.1l-1.2,7.0M576.3,389.1l-4.7-0.3M560.2,386.9l0.6,0.2M580.8,391.7l4.8-4.7M580.8,391.7l4.9,4.7M585.7,396.4l1.9-0.3M587.6,396.0l2.7-6.0M590.2,390.0l-4.5-3.0M585.2,384.2l0.5,2.8M576.3,389.1l1.6,2.6M578.0,391.7l2.9-0.0M594.1,389.1l-3.9,0.9M572.7,404.3l0.6-0.5M572.9,402.5l0.3,1.2M575.6,409.3l0.8-1.2M576.4,408.2l-1.2-3.6M573.2,403.7l2.0,0.8M573.5,422.2l0.3,1.6M573.5,422.2l1.9-3.5M573.8,423.7l5.0,1.8M575.4,418.7l3.3,0.3M579.2,425.3l-0.5,0.2M579.2,425.3l1.1-4.5M580.3,420.8l-1.6-1.8M571.7,421.4l1.8,0.8M571.7,426.2l2.0-2.5M573.9,415.8l1.5,2.9M576.4,431.0l2.4-5.5M577.1,413.0l3.7,0.6M580.8,413.6l0.1,0.3M581.0,413.9l-2.2,5.1M582.3,426.7l-3.1-1.4M583.7,420.2l-3.4,0.6M584.8,416.4l-3.8-2.6M375.9,344.4l-3.1-1.1M370.2,348.1l-0.2-3.5M372.7,343.2l-2.7,1.3M366.8,343.3l1.6,0.1M370.0,344.6l-1.6-1.2M378.5,359.9l-0.2,0.0M378.2,360.1l0.1-0.2M375.8,355.5l-0.3,1.2M378.2,359.9l-2.7-3.1M368.8,357.0l4.4,1.5M375.5,356.8l-2.3,1.8M352.8,387.1l1.1-4.3M356.7,384.2l-0.0-0.0M356.3,384.0l-1.6-1.1M353.8,382.9l0.9-0.0M374.2,367.1l-0.6-0.1M376.3,362.9l-3.3-0.2M373.7,367.0l-0.7-4.2M364.6,366.3l3.8-1.7M366.5,359.8l2.4,3.5M368.4,364.7l0.6-1.3M373.2,358.6l-0.4,4.0M369.0,363.3l3.9-0.7M373.0,362.8l-0.1-0.1M374.4,292.1l0.0,0.0M386.5,300.7l-3.8,1.6M387.3,306.0l-2.4,1.2M384.9,307.2l-2.3-4.9M381.9,300.8l0.3,1.3M382.2,302.1l0.4,0.2M351.3,295.6l-0.7,3.8M346.7,298.2l2.3,1.1M596.1,391.3l-2.6,5.9M587.6,396.0l0.9,0.7M593.5,397.2l-5.0-0.5M580.8,413.6l1.3-3.1M576.4,408.2l5.0-0.5M582.2,410.4l-0.8-2.7M588.5,414.7l-0.7-3.6M582.2,410.4l5.6,0.7M594.1,410.2l-0.2-0.7M593.9,409.5l-5.3,0.2M587.8,411.1l0.8-1.4M574.0,394.7l3.9-2.8M573.3,399.4l4.4-0.1M577.9,391.8l0.6,6.6M578.5,398.4l-0.8,0.9M578.0,391.7l-0.1,0.1M575.2,404.5l3.0-1.7M578.2,402.9l-0.5-3.5M585.7,396.4l-2.0,3.0M583.7,399.4l-5.2-0.9M367.9,336.7l1.7,1.5M367.9,336.7l1.1-3.7M369.5,338.2l3.8,0.2M369.0,333.1l3.9,0.9M372.9,334.0l0.9,4.1M373.8,338.0l-0.6,0.4M365.4,337.3l2.5-0.6M368.4,343.4l1.1-5.2M368.5,331.7l0.5,1.4M372.7,343.2l0.6-4.8M374.4,332.4l-1.5,1.6M376.3,338.1l-2.5-0.0M358.9,374.9l-3.3-1.9M358.9,374.9l-0.0,3.9M358.9,378.8l-0.4,0.1M358.5,378.9l-4.5-2.1M354.0,376.8l1.0-3.6M355.7,373.0l-0.6,0.1M361.4,373.1l-2.5,1.8M358.9,368.6l-3.2,4.5M363.3,373.7l0.6,2.1M363.9,375.8l-0.3,0.5M360.2,379.4l-1.4-0.6M354.7,382.8l3.8-4.0M373.7,367.0l-2.0,1.9M372.1,369.8l-0.4-0.9M366.3,371.0l0.5,0.1M368.4,364.7l1.8,4.0M366.8,371.1l3.3-2.4M370.2,368.6l1.5,0.3M363.9,375.8l0.2,0.1M366.8,371.1l1.1,1.5M371.1,297.8l0.0,0.0M378.1,315.1l4.0-2.8M375.6,311.9l2.6-2.5M378.2,309.3l3.8,3.0M383.6,315.7l-1.0-3.3M389.2,312.6l-4.5-2.1M382.6,312.4l2.1-1.9M382.6,312.4l-0.5-0.0M384.9,307.2l-0.2,0.4M384.7,310.5l-0.1-2.9M379.3,303.4l-0.5,3.4M379.3,303.4l-1.9-1.5M377.4,301.9l-2.7,0.4M378.4,307.3l0.5-0.5M378.4,307.3l-5.1-1.4M374.6,302.3l-2.0,2.6M372.7,304.9l0.6,1.0M382.2,302.1l-2.9,1.3M384.7,307.5l-5.8-0.7M377.5,301.2l-0.1,0.7M374.6,302.1l0.1,0.2M378.2,309.3l0.1-2.1M375.3,311.9l-2.6-2.2M372.7,309.6l0.5-3.8M372.2,304.8l0.5,0.1M350.3,314.5l0.5-0.4M355.6,317.9l-0.2-2.9M358.2,309.0l-1.4,0.6M346.5,313.7l-0.2-0.9M594.5,400.3l-4.0,3.2M590.6,403.5l4.5,3.8M597.8,406.2l-2.7,1.1M593.5,397.2l1.5,2.4M588.5,396.7l1.8,6.7M590.2,403.5l0.3,0.0M593.9,409.5l1.1-2.3M583.7,400.4l-3.1,3.7M583.7,400.4l4.0,4.5M587.7,404.9l-0.0,0.0M587.7,404.9l-6.2,2.4M580.6,404.1l0.9,3.3M583.7,399.4l0.1,1.0M578.2,402.9l2.4,1.2M590.2,403.5l-2.5,1.5M588.6,409.7l-0.9-4.8M581.4,407.7l0.1-0.3M352.5,381.9l-0.9-3.7M352.5,381.9l-4.0,1.6M348.5,383.5l-2.5-1.8M351.6,378.2l-1.1-0.6M350.5,377.7l-4.5,0.9M346.1,381.7l-0.1-3.2M353.8,382.9l-1.3-1.0M354.0,376.8l-2.4,1.5M348.4,387.2l0.2-3.7M341.8,385.1l4.3-3.3M341.7,375.7l1.3,0.2M343.0,375.9l2.9,2.6M349.8,373.0l2.9-1.4M349.8,373.0l-2.1-0.9M347.2,369.8l0.5,2.4M347.2,369.8l3.2-3.4M352.7,371.7l-0.1-4.0M352.6,367.7l-1.1-1.0M350.4,366.5l1.1,0.2M355.0,373.2l-2.3-1.5M350.5,377.7l-0.7-4.6M343.0,375.9l4.6-3.7M343.7,368.1l3.5,1.7M349.1,364.9l1.3,1.5M358.0,367.3l-5.4,0.4M353.8,363.0l-2.2,3.7M366.1,316.8l-0.2-0.6M359.8,318.9l1.3-4.3M365.9,316.2l-4.9-1.6M356.9,313.7l3.9,0.1M361.0,314.6l-0.3-0.8M359.5,310.2l1.4,3.1M360.7,313.8l0.2-0.5M366.7,308.2l4.1,2.3M366.1,308.5l-0.7,0.5M365.4,309.0l-0.2,1.1M365.2,310.1l1.7,3.6M366.9,313.6l3.1-0.4M370.0,313.3l0.7-2.8M372.7,309.6l-1.9,0.8M365.3,309.0l0.1,0.0M360.9,313.3l4.3-3.2M365.9,316.2l1.0-2.6M372.1,315.5l-2.1-2.2" fill="none" stroke="#6a6a6a" stroke-opacity="0.85" stroke-width="0.4"/>
<path d="M350.5,355.0 L355.5,358.3 L361.3,360.8 L367.2,363.3 L371.3,364.7 L375.5,365.0" fill="none" stroke="#1a1a1a" stroke-width="0.55" stroke-linejoin="round"/>
<path d="M379.7,301.7 L383.0,305.8 L388.0,306.7 L390.5,310.8 L393.8,312.5 L396.3,315.0 L401.3,316.7 L403.8,317.5 L403.0,322.5 L401.3,327.5" fill="none" stroke="#1a1a1a" stroke-width="0.55" stroke-linejoin="round"/>
<path d="M401.3,327.5 L398.0,330.0 L395.5,333.3 L393.8,336.7 L397.2,337.5 L398.0,341.7 L397.2,346.7 L398.8,350.8 L401.3,353.3 L404.7,354.2" fill="none" stroke="#1a1a1a" stroke-width="0.55" stroke-linejoin="round"/>
<path d="M401.3,327.5 L406.3,325.8 L411.3,326.7 L413.8,329.2" fill="none" stroke="#1a1a1a" stroke-width="0.55" stroke-linejoin="round"/>
<path d="M398.0,340.0 L401.3,338.3 L404.7,340.0 L408.0,336.7 L411.3,335.8 L413.8,333.3 L413.8,329.2" fill="none" stroke="#1a1a1a" stroke-width="0.55" stroke-linejoin="round"/>
<path d="M433.0,279.3 L433.8,283.5 L434.7,287.7 L435.5,292.7 L437.2,297.7 L438.0,301.8 L434.7,303.5" fill="none" stroke="#1a1a1a" stroke-width="0.55" stroke-linejoin="round"/>
<path d="M400.3,281.4 L401.1,286.1 L401.1,289.1 L400.3,292.5 L397.7,295.0 L396.4,297.6 L396.0,300.1 L394.3,300.1 L395.1,302.7 L396.4,304.4 L396.0,307.0 L394.7,309.5 L393.9,311.6 L396.0,312.5 L400.3,314.6 L404.5,317.2 L403.7,319.7 L402.8,323.1 L402.0,328.0" fill="none" stroke="#1a1a1a" stroke-width="0.55" stroke-linejoin="round"/>
<path d="M379.4,299.3 L382.4,298.0 L384.9,298.9 L387.5,298.0 L390.0,298.4 L391.7,299.7 L394.3,300.1" fill="none" stroke="#1a1a1a" stroke-width="0.55" stroke-linejoin="round"/>
<path d="M377.3,299.7 L380.2,301.9 L383.2,303.1 L385.8,305.3 L386.6,307.4 L385.8,308.7 L387.9,308.2 L390.0,310.8 L392.6,312.1 L393.9,311.6" fill="none" stroke="#1a1a1a" stroke-width="0.55" stroke-linejoin="round"/>
<path d="M408.8,280.2 L411.3,279.3 L415.5,279.7 L418.0,279.0" fill="none" stroke="#1a1a1a" stroke-width="0.55" stroke-linejoin="round"/>
<path d="M475.3,323.3 L473.7,330.0 L470.8,334.2 L473.3,339.2 L478.3,343.7 L483.3,344.7 L484.2,349.2" fill="none" stroke="#1a1a1a" stroke-width="0.55" stroke-linejoin="round"/>
<path d="M484.2,349.2 L500.0,350.0 L510.0,346.7 L513.3,343.7 L515.3,343.7" fill="none" stroke="#1a1a1a" stroke-width="0.55" stroke-linejoin="round"/>
<path d="M478.3,318.0 L485.0,313.3 L496.7,312.5 L498.3,312.5 L503.3,310.8 L509.2,313.3" fill="none" stroke="#1a1a1a" stroke-width="0.55" stroke-linejoin="round"/>
<path d="M462.5,340.0 L463.3,346.7 L465.8,356.7" fill="none" stroke="#1a1a1a" stroke-width="0.55" stroke-linejoin="round"/>
<path d="M445.8,341.7 L448.3,348.3 L455.0,355.0 L460.8,361.7 L464.2,365.8" fill="none" stroke="#1a1a1a" stroke-width="0.55" stroke-linejoin="round"/>
<path d="M484.2,349.2 L483.3,355.0 L487.5,359.2 L486.7,363.3 L487.5,365.8 L494.2,365.0 L500.0,364.2 L505.8,362.5 L509.7,359.7 L515.0,357.5" fill="none" stroke="#1a1a1a" stroke-width="0.55" stroke-linejoin="round"/>
<path d="M473.7,367.5 L475.8,370.8 L480.0,372.5 L485.0,370.0 L487.5,365.8" fill="none" stroke="#1a1a1a" stroke-width="0.55" stroke-linejoin="round"/>
<path d="M465.8,356.7 L469.2,360.0 L471.7,365.0 L473.7,367.5 L472.5,373.3 L474.2,378.3" fill="none" stroke="#1a1a1a" stroke-width="0.55" stroke-linejoin="round"/>
<path d="M465.8,356.7 L470.0,358.3 L474.2,360.8 L478.3,362.5 L481.7,364.2 L486.7,363.3" fill="none" stroke="#1a1a1a" stroke-width="0.55" stroke-linejoin="round"/>
<path d="M474.2,360.8 L475.0,365.0 L473.7,367.5" fill="none" stroke="#1a1a1a" stroke-width="0.55" stroke-linejoin="round"/>
<path d="M498.3,312.5 L503.3,316.7 L508.3,320.0 L511.7,325.0 L510.0,330.8 L512.5,335.8 L516.7,332.5 L517.5,326.7 L520.0,320.8 L521.7,315.8 L516.7,310.8 L511.7,310.0 L509.2,313.3" fill="none" stroke="#1a1a1a" stroke-width="0.55" stroke-linejoin="round"/>
<path d="M440.0,301.8 L446.7,306.0 L452.5,311.0 L456.7,309.3 L461.7,311.0 L467.5,310.2 L475.0,310.2" fill="none" stroke="#1a1a1a" stroke-width="0.55" stroke-linejoin="round"/>
<path d="M479.2,290.2 L477.5,296.0 L479.2,301.0 L475.8,306.0 L475.0,310.2 L478.3,316.0 L477.5,323.8" fill="none" stroke="#1a1a1a" stroke-width="0.55" stroke-linejoin="round"/>
<path d="M457.5,273.5 L465.0,272.7 L474.2,274.3" fill="none" stroke="#1a1a1a" stroke-width="0.55" stroke-linejoin="round"/>
<path d="M462.5,266.0 L470.0,263.5 L478.3,265.2 L483.3,263.5" fill="none" stroke="#1a1a1a" stroke-width="0.55" stroke-linejoin="round"/>
<path d="M471.7,248.5 L478.3,249.3 L484.2,247.7 L487.5,251.0" fill="none" stroke="#1a1a1a" stroke-width="0.55" stroke-linejoin="round"/>
<path d="M484.2,226.0 L485.0,234.3 L487.5,242.7 L487.5,251.0 L490.0,254.3" fill="none" stroke="#1a1a1a" stroke-width="0.55" stroke-linejoin="round"/>
<path d="M483.3,263.5 L482.5,268.5 L478.3,271.8 L474.2,274.3 L475.0,279.3 L476.7,284.3 L479.2,290.2" fill="none" stroke="#1a1a1a" stroke-width="0.55" stroke-linejoin="round"/>
<path d="M485.0,259.3 L490.0,254.3 L496.7,253.5 L501.7,254.3 L504.2,259.3 L508.3,264.3 L513.3,266.8 L514.2,270.2 L510.8,271.8 L512.5,277.7 L509.2,281.0 L510.0,285.2 L505.0,286.0 L495.0,286.0 L485.0,286.8 L479.2,290.2" fill="none" stroke="#1a1a1a" stroke-width="0.55" stroke-linejoin="round"/>
<path d="M510.0,285.2 L513.3,277.7 L520.8,274.3 L525.0,277.7 L528.3,281.8 L535.0,284.3 L543.3,283.5 L550.0,282.7 L557.5,283.5 L560.0,289.3 L559.2,296.0 L556.7,300.2 L560.0,301.8" fill="none" stroke="#1a1a1a" stroke-width="0.55" stroke-linejoin="round"/>
<path d="M475.0,310.2 L481.7,314.3 L490.0,316.8 L498.3,311.8 L503.3,310.2 L510.0,310.2 L515.0,309.3 L520.0,314.3 L521.7,319.3" fill="none" stroke="#1a1a1a" stroke-width="0.55" stroke-linejoin="round"/>
<path d="M444.2,162.5 L441.7,163.3 L437.5,165.0 L432.5,169.2 L430.0,173.3 L428.3,181.7 L426.7,190.0 L425.0,198.3 L422.5,203.3 L421.3,210.0 L421.7,216.7 L422.5,223.3 L423.3,230.0 L424.2,237.8" fill="none" stroke="#1a1a1a" stroke-width="0.55" stroke-linejoin="round"/>
<path d="M444.2,162.5 L448.3,165.0 L450.0,170.0 L452.5,173.3 L455.0,180.0 L456.7,185.0 L457.5,186.7" fill="none" stroke="#1a1a1a" stroke-width="0.55" stroke-linejoin="round"/>
<path d="M464.2,146.7 L465.0,153.3 L467.5,162.5 L471.7,166.7 L474.2,173.3 L475.8,181.7 L479.2,190.0 L483.3,196.7 L486.7,201.7 L486.7,208.3 L483.3,215.0 L480.0,220.0 L478.3,223.0" fill="none" stroke="#1a1a1a" stroke-width="0.55" stroke-linejoin="round"/>
<path d="M459.2,153.3 L464.2,153.3 L466.7,149.2" fill="none" stroke="#1a1a1a" stroke-width="0.55" stroke-linejoin="round"/>
<path d="M420.0,238.5 L422.2,233.5 L423.0,226.0" fill="none" stroke="#1a1a1a" stroke-width="0.55" stroke-linejoin="round"/>
<path d="M321.7,364.1 L316.7,365.3 L317.5,371.6 L314.2,375.4 L315.5,380.4 L313.0,386.6 L315.5,390.4 L316.7,396.7" fill="none" stroke="#1a1a1a" stroke-width="0.55" stroke-linejoin="round"/>
<path d="M308.4,359.1 L313.0,360.3 L318.0,359.1 L321.7,360.3" fill="none" stroke="#1a1a1a" stroke-width="0.55" stroke-linejoin="round"/>
<path d="M573.3,388.3 L578.3,387.5 L586.7,385.8 L593.3,384.2 L600.0,383.3 L604.2,385.0" fill="none" stroke="#1a1a1a" stroke-width="0.55" stroke-linejoin="round"/>
<path d="M593.3,334.2 L600.0,336.7 L608.3,340.0 L615.0,338.3 L620.8,340.8" fill="none" stroke="#1a1a1a" stroke-width="0.55" stroke-linejoin="round"/>
<path d="M608.3,340.0 L610.0,345.0 L615.0,350.0" fill="none" stroke="#1a1a1a" stroke-width="0.55" stroke-linejoin="round"/>
<path d="M580.7,317.2 L584.7,318.6 L590.0,319.9 L596.7,321.2 L603.3,321.9 L610.0,323.9 L615.0,324.8" fill="none" stroke="#1a1a1a" stroke-width="0.55" stroke-linejoin="round"/>
<path d="M593.3,334.5 L596.7,333.8 L600.7,334.5 L603.3,331.2 L606.0,329.9 L610.0,330.5 L615.0,332.5" fill="none" stroke="#1a1a1a" stroke-width="0.55" stroke-linejoin="round"/>
<path d="M571.1,429.3 L578.1,437.3" fill="none" stroke="#1a1a1a" stroke-width="0.55" stroke-linejoin="round"/>
<path d="M578.1,437.3 L577.8,424.3 L576.1,415.5 L577.3,403.0" fill="none" stroke="#1a1a1a" stroke-width="0.55" stroke-linejoin="round"/>
<path d="M576.1,415.5 L587.4,416.8 L598.6,406.8" fill="none" stroke="#1a1a1a" stroke-width="0.55" stroke-linejoin="round"/>
<path d="M574.2,397.5 L577.5,396.7 L578.0,403.3 L576.7,410.0" fill="none" stroke="#1a1a1a" stroke-width="0.55" stroke-linejoin="round"/>
<path d="M512.9,354.7 L511.5,357.6 L509.0,359.6 L507.1,360.0 L506.4,366.4 L507.1,369.8" fill="none" stroke="#1a1a1a" stroke-width="0.55" stroke-linejoin="round"/>
<path d="M403.1,325.4 L405.0,326.2 L408.9,326.7 L412.8,328.2 L417.6,327.7 L422.5,326.2 L428.3,325.7 L428.8,322.8 L430.7,320.9 L433.2,318.9" fill="none" stroke="#1a1a1a" stroke-width="0.55" stroke-linejoin="round"/>
<path d="M433.2,318.9 L436.1,319.4 L439.5,317.5 L443.8,317.5 L447.7,318.0 L450.1,318.4 L451.1,321.4 L448.7,324.3 L447.2,326.2 L447.7,329.1 L446.3,332.0" fill="none" stroke="#1a1a1a" stroke-width="0.55" stroke-linejoin="round"/>
<path d="M446.3,332.0 L442.9,333.5 L438.0,334.0 L433.2,333.5 L428.3,334.0 L425.9,332.0 L421.5,331.1 L416.7,330.1 L412.8,329.1 L410.8,331.1" fill="none" stroke="#1a1a1a" stroke-width="0.55" stroke-linejoin="round"/>
<path d="M451.1,321.4 L455.5,322.3 L459.4,320.9 L463.3,319.4 L467.1,317.5 L472.0,317.0 L476.4,317.5 L478.8,318.9 L476.8,321.8 L474.9,325.2 L473.9,329.1 L472.0,332.0 L469.1,334.0" fill="none" stroke="#1a1a1a" stroke-width="0.55" stroke-linejoin="round"/>
<path d="M469.1,334.0 L465.2,335.4 L461.3,337.4 L457.4,337.9 L453.5,336.4 L450.6,334.5 L447.7,333.0 L446.3,332.0" fill="none" stroke="#1a1a1a" stroke-width="0.55" stroke-linejoin="round"/>
<path d="M433.2,333.5 L432.7,335.9 L434.1,338.3 L433.2,340.8" fill="none" stroke="#1a1a1a" stroke-width="0.55" stroke-linejoin="round"/>
<path d="M434.1,338.3 L438.0,338.8 L441.9,339.8 L443.8,337.4 L446.3,335.0 L447.7,333.0" fill="none" stroke="#1a1a1a" stroke-width="0.55" stroke-linejoin="round"/>
<path d="M445.3,344.2 L448.7,343.2 L453.5,342.7 L459.4,343.2 L463.3,342.7" fill="none" stroke="#1a1a1a" stroke-width="0.55" stroke-linejoin="round"/>
<path d="M445.3,344.2 L446.7,347.6 L449.7,351.5 L452.6,355.3 L455.5,358.3" fill="none" stroke="#1a1a1a" stroke-width="0.55" stroke-linejoin="round"/>
<path d="M461.3,337.4 L463.3,339.8 L463.7,342.7 L463.3,345.6" fill="none" stroke="#1a1a1a" stroke-width="0.55" stroke-linejoin="round"/>
<path d="M433.2,318.9 L430.2,316.0 L427.8,313.1 L425.4,308.3 L430.2,305.3 L435.1,303.9 L438.5,302.4 L440.9,303.9 L443.8,305.3 L446.3,307.3 L447.7,305.8 L448.7,309.2 L452.6,311.2 L455.5,312.6 L458.4,310.7 L461.8,309.7 L463.3,312.1 L464.2,311.7 L467.1,309.7 L472.0,309.7 L475.4,310.7 L478.8,311.7" fill="none" stroke="#1a1a1a" stroke-width="0.55" stroke-linejoin="round"/>
<path d="M450.1,318.4 L451.1,315.5 L452.6,313.6 L455.5,312.6" fill="none" stroke="#1a1a1a" stroke-width="0.55" stroke-linejoin="round"/>
<path d="M478.8,318.9 L481.7,318.0 L485.0,315.5" fill="none" stroke="#1a1a1a" stroke-width="0.55" stroke-linejoin="round"/>
<path d="M635.0,223.3 L626.2,227.1 L618.7,232.1 L614.9,237.1 L606.2,239.6 L596.1,243.4 L591.1,248.4 L589.9,254.7 L592.4,260.9 L587.5,266.4 L588.4,272.2 L591.8,276.0 L595.7,277.5 L600.5,278.0 L604.3,280.8 L607.2,283.3 L608.2,287.6 L607.2,290.5 L605.3,292.9" fill="none" stroke="#1a1a1a" stroke-width="0.55" stroke-linejoin="round"/>
</g>
<path d="M525.6,318.6 L522.9,319.9 L520.3,323.2 L518.9,328.5 L517.6,333.8 L515.6,337.8 L514.3,343.1 L513.6,348.5 L513.0,353.8 L514.3,357.8 L516.3,360.4 L520.9,361.1 L526.3,360.4 L531.6,359.7 L534.9,357.1 L538.2,353.8 L542.2,350.4 L547.5,347.8 L552.2,346.5 L557.5,347.1 L563.5,347.8 L568.8,347.1 L572.8,347.8 L576.7,345.1 L581.4,342.5 L585.4,339.2 L588.0,335.8 L588.7,332.5 L586.7,329.9 L583.4,327.9 L579.4,326.5 L575.4,325.2 L570.8,323.9 L566.1,322.5 L560.8,321.2 L556.1,320.6 L554.2,320.3 L551.8,320.8 L547.5,323.5 L544.9,325.9 L542.2,329.2 L539.8,330.5 L538.2,327.9 L536.9,325.9 L533.2,325.2 L535.6,322.5 L533.6,321.2 L530.2,319.9 L527.6,318.6Z" fill="#fff" stroke="#222" stroke-width="0.6"/>
<path d="M559.5,301.3 L560.1,303.3 L557.5,306.6 L556.1,311.3 L554.8,315.2 L554.2,318.6 L551.5,319.5 L548.8,320.8 L546.2,320.3 L543.5,319.5 L542.2,317.2 L544.2,315.2 L547.5,312.6 L551.5,308.6 L555.5,304.6Z" fill="#fff" stroke="#222" stroke-width="0.6"/>
<path d="M622.5,270.6 L625.3,272.7 L626.8,276.3 L624.6,280.6 L622.5,284.2 L621.8,288.5 L623.2,292.0 L626.8,294.9 L631.1,297.8 L635.3,299.9 L638.9,302.1 L641.8,304.2 L643.2,300.6 L646.1,299.2 L650.4,301.3 L653.2,303.5 L652.5,307.1 L648.9,308.5 L646.1,307.8 L646.8,311.4 L649.7,314.2 L652.5,315.7 L654.7,319.2 L657.5,322.1 L660.4,325.7 L663.2,329.2 L666.1,332.1 L663.2,335.7 L659.0,339.3 L653.2,341.4 L647.5,341.4 L641.8,342.1 L637.5,340.0 L635.3,336.4 L633.9,330.7 L633.2,325.0 L634.6,320.7 L631.1,319.9 L626.8,317.8 L621.8,315.7 L617.5,312.8 L613.9,309.2 L611.0,304.9 L606.0,302.8 L604.6,299.2 L605.3,294.2 L606.7,289.9 L608.9,285.6 L610.3,280.6 L613.2,276.3 L617.5,272.7Z" fill="#fff" stroke="#222" stroke-width="0.6"/>
<path d="M512.4,368.3 L515.3,366.8 L518.3,364.9 L522.1,364.4 L526.0,364.9 L530.9,365.4 L532.3,366.8 L528.0,368.3 L524.1,367.8 L521.2,368.8 L517.3,369.3 L514.4,369.8Z" fill="#fff" stroke="#222" stroke-width="0.6"/>
<path d="M509.2,155.8 L514.2,158.3 L513.3,162.5 L508.3,163.3 L506.7,168.3 L508.3,173.3 L509.2,177.5 L506.7,180.0 L504.2,182.5 L503.3,185.8 L500.0,186.7 L495.8,184.7 L493.3,180.8 L491.3,177.5 L488.3,174.2 L483.3,172.0 L488.3,170.8 L494.2,171.7 L499.2,169.7 L502.0,165.8 L503.0,160.8 L505.0,156.7Z" fill="#fff" stroke="#222" stroke-width="0.6"/>
<path d="M533.2,72.5 L535.2,76.5 L539.9,79.2 L545.2,82.5 L550.5,85.8 L555.8,89.8 L560.4,92.5 L562.4,89.2 L562.4,85.2 L565.8,82.5 L571.7,83.8 L575.7,85.8 L573.7,87.2 L569.1,85.2 L565.1,85.8 L564.4,89.8 L567.1,93.1 L571.1,97.1 L574.4,102.4 L575.5,105.8 L572.4,109.7 L569.1,111.1 L568.4,109.1 L571.7,105.8 L571.1,101.8 L567.8,97.1 L563.1,93.8 L558.5,92.5 L553.1,89.2 L547.8,85.2 L542.5,81.2 L537.2,78.5 L532.5,77.2Z" fill="#fff" stroke="#222" stroke-width="0.6"/>
<path d="M534.8,56.6 L539.9,59.9 L545.8,60.6 L551.1,59.3 L555.8,61.3 L563.8,65.2 L558.5,64.8 L555.1,63.2 L551.1,61.9 L547.2,63.2 L543.2,65.9 L540.5,68.6 L543.8,71.2 L547.8,72.5 L551.8,72.5 L548.5,75.2 L545.2,75.9 L541.2,73.9 L536.5,71.9 L533.9,70.6Z" fill="#fff" stroke="#222" stroke-width="0.6"/>
<path d="M546.0,60.1 L552.3,59.5 L563.5,64.6 L561.0,65.6 L553.5,63.1 L546.0,65.1Z" fill="#fff" stroke="#222" stroke-width="0.6"/>
<path d="M546.0,101.4 L554.8,100.9 L556.5,104.7 L549.8,106.4 L546.0,107.2Z" fill="#fff" stroke="#222" stroke-width="0.6"/>
<path d="M529.9,43.5 L818.5,43.5 L818.5,362.8 L818.7,362.8 L810.0,364.1 L799.9,362.8 L802.5,355.3 L805.0,345.3 L801.2,341.5 L797.4,344.0 L793.7,349.0 L787.4,355.3 L779.9,357.8 L772.4,356.6 L764.9,364.1 L757.3,371.6 L749.8,379.1 L741.0,384.1 L732.3,389.1 L722.3,394.2 L718.5,392.9 L715.2,387.4 L709.7,394.2 L704.7,398.7 L697.2,401.2 L689.7,399.7 L682.2,400.4 L674.6,395.4 L667.1,392.1 L659.6,395.4 L659.1,401.2 L663.4,404.7 L669.6,409.2 L675.9,414.2 L682.2,420.5 L686.7,420.5 L689.7,418.0 L690.9,424.7 L695.9,426.2 L702.2,423.0 L709.7,418.0 L714.7,414.2 L718.5,411.7 L717.7,401.7 L716.2,394.2 L719.2,399.7 L722.3,405.4 L729.8,406.7 L737.3,404.2 L746.1,405.4 L749.8,409.2 L748.6,421.7 L744.8,429.2 L746.1,438.0 L742.3,446.8 L738.5,454.3 L733.5,463.1 L727.3,471.8 L722.3,481.1 L722.3,478.2 L721.0,483.2 L716.0,490.7 L708.5,499.5 L702.2,505.8 L694.7,512.0 L687.2,518.3 L680.9,525.8 L673.4,530.8 L668.4,532.1 L663.4,527.1 L659.6,520.8 L657.1,513.3 L658.3,504.5 L653.3,502.0 L644.6,495.7 L634.5,489.5 L622.0,483.2 L613.7,475.7 L604.9,466.9 L597.4,459.4 L589.9,451.9 L583.6,446.9 L579.6,448.1 L579.1,438.1 L577.8,438.1 L577.6,448.9 L573.6,451.1 L563.0,440.1 L561.5,440.6 L567.3,445.1 L573.6,452.6 L579.8,460.1 L587.4,468.7 L593.6,476.2 L594.9,482.4 L604.9,488.7 L609.9,496.2 L614.9,505.0 L621.2,511.3 L628.7,518.8 L636.2,525.1 L643.7,528.8 L653.8,531.3 L661.3,535.1 L668.8,540.1 L670.1,543.9 L669.6,544.6 L682.2,543.4 L692.2,535.8 L702.2,528.3 L712.2,520.8 L721.0,513.3 L725.3,513.3 L726.8,520.8 L726.0,533.3 L724.8,547.9 L724.8,552.0 L210.0,552.0 L210.2,547.9 L208.9,543.4 L206.4,535.8 L211.5,532.1 L217.7,525.8 L222.7,518.3 L224.0,508.3 L221.5,500.7 L219.7,492.0 L222.7,487.0 L227.7,481.9 L234.0,475.7 L240.3,469.4 L246.5,463.2 L252.8,458.1 L259.1,453.1 L266.6,450.6 L276.6,445.6 L282.9,440.6 L286.6,434.3 L290.4,426.8 L297.9,421.8 L305.4,418.0 L313.0,413.0 L316.0,406.8 L318.0,404.3 L321.7,406.8 L328.0,408.5 L338.0,410.0 L338.0,414.3 L345.5,413.0 L353.0,409.3 L363.1,407.5 L373.1,406.8 L383.1,408.0 L393.1,406.8 L400.7,408.0 L405.7,406.8 L411.9,405.0 L416.9,406.8 L419.5,410.5 L416.9,416.8 L420.7,421.8 L418.2,426.8 L422.0,430.6 L424.5,436.8 L430.7,438.1 L438.3,438.1 L445.8,440.6 L449.5,445.6 L455.8,448.1 L463.3,448.6 L470.8,451.9 L475.8,453.1 L479.6,449.4 L479.6,440.6 L483.4,434.3 L490.9,431.8 L498.4,433.6 L505.9,435.6 L513.4,436.8 L523.5,437.6 L533.5,436.8 L541.0,434.3 L546.0,431.8 L548.5,430.5 L556.0,428.7 L563.5,429.2 L569.8,426.7 L570.0,425.8 L571.7,421.7 L572.5,416.7 L572.3,407.4 L572.8,403.5 L573.3,399.7 L573.7,395.8 L574.2,393.3 L573.3,392.4 L571.8,389.0 L571.1,388.0 L570.5,386.1 L570.8,383.2 L569.7,382.0 L567.9,383.6 L565.5,384.1 L562.6,385.6 L559.7,388.0 L556.7,390.4 L553.8,392.4 L551.4,393.3 L549.0,392.4 L546.1,391.4 L542.2,390.9 L538.8,392.4 L537.8,395.8 L534.4,397.7 L532.0,397.2 L532.0,396.9 L529.6,396.2 L525.7,394.8 L521.8,393.8 L518.9,391.4 L516.9,388.5 L515.0,387.4 L513.5,386.1 L513.9,381.9 L512.9,379.0 L510.5,378.5 L508.1,377.0 L507.6,376.1 L509.5,373.2 L512.4,370.7 L515.3,369.8 L512.4,370.4 L509.5,370.4 L506.6,369.8 L504.2,370.4 L501.7,370.0 L498.8,370.7 L496.4,370.4 L494.0,371.7 L493.0,373.2 L495.0,374.6 L496.4,376.1 L494.0,375.6 L492.5,375.1 L493.5,377.0 L492.0,377.5 L490.6,376.1 L489.1,374.6 L487.7,375.1 L487.2,376.6 L488.6,379.0 L490.6,381.4 L492.0,383.3 L494.0,384.8 L495.9,386.3 L498.3,388.2 L499.8,390.1 L498.3,390.6 L496.4,389.2 L494.0,387.7 L492.0,386.7 L493.5,389.2 L495.4,391.6 L497.4,393.5 L495.0,393.1 L493.0,391.6 L491.1,390.6 L489.1,391.1 L492.0,393.5 L493.0,396.5 L492.2,396.6 L493.6,399.9 L494.2,403.2 L492.2,403.9 L490.2,401.2 L488.9,403.2 L489.6,404.5 L487.6,403.6 L485.6,401.2 L483.6,398.6 L481.6,396.6 L480.3,394.6 L480.3,392.6 L483.0,391.7 L482.3,393.1 L479.9,389.7 L477.0,387.7 L474.6,383.8 L472.6,380.9 L470.7,377.0 L469.2,372.2 L467.3,365.9 L466.7,367.5 L464.3,365.1 L461.9,363.9 L458.9,362.0 L455.9,360.2 L452.2,358.4 L448.6,356.0 L445.6,353.6 L442.6,351.2 L440.1,348.1 L438.3,345.1 L437.1,344.5 L435.9,346.9 L434.7,346.3 L434.1,343.3 L432.9,341.1 L430.5,342.1 L427.4,343.9 L426.2,346.3 L426.8,349.3 L428.0,352.4 L430.5,354.8 L432.9,357.2 L435.3,359.6 L437.7,362.6 L440.7,365.7 L444.4,368.1 L446.2,368.5 L448.6,368.7 L448.2,369.7 L449.2,371.7 L451.6,372.9 L455.3,374.7 L458.9,376.6 L461.9,378.4 L463.1,380.8 L461.9,382.0 L458.9,380.8 L455.3,380.2 L452.2,381.4 L453.4,384.4 L455.3,386.8 L455.9,389.9 L454.0,392.3 L452.8,395.3 L452.2,397.7 L450.4,398.9 L449.2,395.9 L450.4,392.9 L449.8,389.9 L448.0,386.8 L446.2,383.8 L443.8,382.0 L441.3,379.6 L438.3,377.8 L434.7,375.9 L431.1,374.1 L427.4,372.3 L424.4,369.9 L421.4,366.9 L418.4,363.9 L416.6,360.8 L415.3,357.2 L412.9,354.2 L409.9,352.4 L406.9,352.4 L403.3,354.8 L399.6,357.2 L396.0,359.0 L394.7,359.2 L389.7,360.0 L384.7,357.5 L380.5,358.3 L377.2,360.8 L375.5,365.0 L373.0,369.2 L368.0,372.5 L363.0,376.7 L358.8,380.8 L355.5,385.0 L353.8,387.8 L356.8,384.1 L354.3,390.4 L349.3,394.2 L343.0,400.4 L338.0,402.2 L338.3,402.7 L333.2,402.0 L328.1,401.4 L324.3,402.0 L320.4,404.0 L318.5,404.7 L316.0,401.4 L315.3,398.2 L312.1,395.0 L307.7,393.7 L303.8,393.1 L300.6,391.2 L301.9,388.0 L301.3,384.8 L300.6,381.0 L301.9,376.5 L304.5,373.3 L306.4,370.1 L308.3,366.9 L309.6,362.5 L308.3,358.0 L309.6,354.2 L308.9,350.3 L308.9,347.8 L312.8,345.9 L317.2,345.2 L321.1,347.1 L325.5,347.8 L330.7,349.7 L335.8,351.6 L340.9,352.9 L346.0,354.2 L350.4,355.4 L352.2,352.5 L353.8,348.3 L354.7,343.3 L355.5,338.3 L355.5,333.3 L353.0,330.0 L351.3,325.8 L352.2,322.5 L349.7,320.8 L345.5,319.2 L342.2,317.5 L341.3,314.2 L344.7,312.5 L348.8,313.3 L353.0,315.0 L357.2,315.0 L356.3,311.7 L357.2,307.5 L358.8,310.0 L362.2,310.8 L366.3,308.3 L369.7,306.7 L373.0,304.2 L375.5,300.8 L379.7,301.7 L382.2,300.7 L384.7,299.3 L388.0,296.0 L389.7,291.0 L390.5,286.0 L393.8,284.0 L399.7,282.3 L404.7,281.0 L408.8,279.3 L408.8,274.3 L408.0,269.3 L407.2,264.3 L406.3,259.3 L407.2,256.0 L411.3,253.5 L414.5,251.2 L418.0,255.0 L418.3,260.3 L415.5,264.2 L413.7,267.7 L414.5,271.5 L413.2,274.0 L416.0,275.8 L419.0,276.8 L418.3,279.8 L421.3,277.7 L428.0,274.3 L433.0,279.3 L434.7,276.0 L441.3,273.5 L440.0,276.0 L448.3,271.3 L452.5,274.3 L458.3,272.7 L462.0,266.0 L460.8,257.7 L461.3,251.0 L463.3,247.7 L467.5,249.7 L472.0,248.5 L471.7,243.5 L468.3,242.7 L465.0,243.5 L461.3,242.7 L461.7,237.7 L468.3,234.3 L473.3,230.2 L484.2,226.0 L488.3,224.2 L486.7,222.5 L481.7,221.7 L476.7,223.0 L471.7,225.0 L466.7,227.5 L462.5,229.2 L458.3,227.5 L456.7,224.2 L455.8,220.0 L454.2,215.0 L452.5,210.8 L453.3,206.7 L455.0,203.3 L457.5,199.2 L459.2,195.8 L461.7,191.7 L460.8,188.3 L457.5,186.7 L453.3,187.5 L450.8,190.0 L450.0,195.0 L449.2,200.0 L446.7,205.0 L444.2,209.2 L441.7,213.3 L440.8,218.3 L441.7,223.3 L444.2,227.5 L447.5,230.8 L449.2,235.0 L448.3,237.8 L447.2,237.7 L444.7,242.7 L443.0,247.7 L442.2,254.3 L440.5,259.3 L437.2,261.8 L433.0,261.8 L433.0,264.3 L428.8,267.7 L426.3,265.2 L426.3,260.2 L426.3,257.7 L423.0,253.5 L420.5,249.3 L419.3,244.3 L420.0,238.5 L416.3,240.2 L412.2,242.7 L408.0,245.2 L403.0,245.2 L398.8,242.7 L396.3,238.5 L395.0,232.7 L395.5,226.0 L395.1,224.6 L396.1,220.8 L400.7,213.3 L403.3,210.0 L407.5,206.7 L410.8,202.5 L415.0,197.5 L418.3,191.7 L420.8,185.8 L421.7,180.0 L423.3,175.0 L425.8,170.8 L429.2,166.7 L432.5,163.3 L435.8,159.2 L440.0,155.8 L444.2,152.5 L449.2,149.2 L453.3,147.5 L458.3,145.8 L464.2,146.7 L466.7,149.2 L471.7,151.7 L476.7,152.5 L483.3,151.3 L483.3,151.8 L489.9,152.5 L496.6,154.5 L501.2,157.1 L503.9,161.1 L507.2,163.8 L509.9,161.8 L513.8,161.1 L512.5,157.1 L509.9,155.1 L508.5,151.8 L506.5,148.5 L503.2,146.8 L505.9,145.8 L509.9,144.9 L513.2,145.8 L512.5,147.8 L511.2,151.1 L513.2,154.5 L517.2,153.8 L519.8,151.1 L518.5,147.8 L519.8,143.8 L521.1,139.9 L522.5,136.5 L524.5,133.2 L525.1,129.9 L526.5,127.2 L528.5,130.6 L531.1,131.9 L532.4,128.6 L533.8,125.2 L535.1,121.9 L537.1,119.9 L539.7,121.3 L539.1,117.9 L536.4,115.9 L535.1,113.3 L537.8,110.6 L541.7,108.6 L546.4,108.0 L551.8,106.4 L556.5,105.1 L555.8,102.4 L545.8,101.1 L541.2,97.1 L537.2,94.5 L535.2,89.8 L531.9,85.2 L529.2,81.2 L529.5,78.8 L532.5,77.2 L533.2,72.5 L534.8,66.6 L535.9,57.3 L538.5,50.6 L537.9,46.0 L529.9,44.0 L529.9,42.7Z M353.8,239.3 L358.0,238.5 L362.2,240.2 L360.5,244.3 L365.5,246.8 L366.3,249.3 L363.8,253.5 L361.3,257.7 L363.8,261.8 L365.5,266.0 L366.3,271.0 L368.0,276.0 L369.7,281.0 L373.8,283.5 L376.3,286.8 L375.5,291.0 L373.0,293.5 L369.7,296.0 L371.3,297.7 L368.0,299.3 L363.0,299.3 L358.0,298.5 L353.0,299.3 L348.0,299.3 L343.0,300.2 L339.7,300.7 L342.2,297.7 L346.3,295.2 L350.5,293.5 L353.8,291.8 L349.7,290.2 L345.5,289.3 L343.8,287.7 L347.2,285.2 L350.5,283.5 L348.8,280.2 L352.2,278.5 L355.5,277.7 L356.3,274.3 L354.7,271.0 L353.8,267.7 L355.5,265.2 L353.8,261.8 L350.5,261.0 L348.8,257.7 L347.2,254.3 L348.0,250.2 L350.5,246.8 L351.3,242.7Z M325.5,266.8 L328.0,265.2 L331.3,266.0 L333.8,262.7 L336.3,260.7 L340.5,260.2 L343.0,261.8 L345.5,265.2 L344.7,269.3 L343.0,271.8 L343.0,276.0 L341.3,280.2 L338.0,282.7 L333.8,284.3 L329.7,284.3 L325.5,285.2 L322.2,283.5 L321.3,280.2 L323.8,277.7 L326.3,275.2 L325.5,271.8Z" fill="none" stroke="#222" stroke-width="0.6" stroke-linejoin="round"/>
<path d="M309.2,43.8 L310.5,50.0 L305.4,60.1 L295.4,67.6 L286.6,75.1 L282.9,80.1 L286.6,81.4 L280.4,90.1 L272.9,95.1 L265.3,93.9 L260.3,98.9 L252.8,102.7 L246.5,108.9 L241.5,115.2 L237.8,120.2 L234.0,127.7 L230.3,136.5 L227.2,142.8 L230.3,150.3 L231.5,157.8 L234.0,160.3 L240.3,156.5 L250.3,150.3 L260.3,146.5 L267.8,140.3 L277.9,139.0 L280.4,142.3 L290.4,141.5 L300.4,136.5 L305.4,135.2 L310.5,139.0 L320.5,140.3 L330.5,139.0 L338.0,136.5 L334.6,138.8 L330.9,135.4 L326.6,131.9 L322.4,129.4 L326.6,126.8 L330.0,125.1 L330.9,130.2 L333.4,135.4 L336.0,134.5 L339.4,130.2 L338.5,125.1 L336.8,117.5 L339.4,120.0 L341.1,123.4 L342.8,115.8 L346.2,113.2 L350.4,114.1 L354.7,111.5 L360.7,109.8 L357.3,108.1 L359.8,104.7 L359.0,99.6 L361.5,96.2 L366.6,93.6 L365.8,90.2 L370.0,86.0 L374.3,82.6 L375.1,77.5 L378.5,74.9 L383.6,73.2 L388.8,71.5 L389.6,68.1 L385.4,65.5 L381.9,62.1 L376.8,59.6 L371.7,56.7 L378.5,57.0 L383.6,57.9 L384.5,51.9 L382.8,47.7 L378.5,43.1Z" fill="#67ad27" stroke="#222" stroke-width="0.6" stroke-linejoin="round"/>
<path d="M310.7,165.7 L313.4,164.2 L315.3,163.0 L316.5,164.2 L317.2,162.3 L318.8,161.9 L319.9,164.2 L320.3,167.2 L319.2,169.5 L321.1,170.3 L323.0,168.4 L324.5,168.4 L325.7,170.3 L327.6,169.5 L330.3,170.3 L332.6,171.1 L334.9,170.7 L336.4,169.9 L337.9,171.5 L339.1,173.0 L339.5,176.1 L340.6,178.7 L340.2,181.0 L338.7,183.0 L336.8,184.5 L334.1,185.6 L331.4,186.0 L328.7,187.2 L326.1,187.5 L323.4,187.2 L320.7,188.3 L318.4,187.5 L316.5,185.6 L314.9,183.3 L313.4,181.4 L311.5,180.3 L309.2,179.5 L309.6,178.4 L312.3,178.7 L314.2,177.2 L313.4,175.3 L312.6,173.0 L314.6,172.2 L311.9,171.8 L309.2,171.3 L309.6,170.5 L312.6,170.5 L315.7,170.3 L316.5,168.4 L315.3,166.5 L313.0,166.9Z" fill="#67ad27" stroke="#222" stroke-width="0.6" stroke-linejoin="round"/>
<path d="M415.4,86.2 L417.6,85.3 L419.5,86.7 L420.8,89.4 L421.7,86.7 L422.6,84.4 L424.4,85.3 L425.8,88.0 L428.0,88.9 L430.3,90.7 L432.1,93.9 L434.8,96.6 L437.5,98.9 L437.1,101.1 L435.7,102.0 L434.4,99.8 L433.0,101.1 L431.6,98.9 L430.3,96.2 L428.9,95.3 L429.4,98.0 L428.5,101.1 L427.6,104.7 L426.7,108.4 L424.9,107.5 L423.1,105.2 L421.3,103.4 L422.6,101.6 L420.8,100.7 L422.2,98.0 L424.0,95.7 L422.6,94.4 L420.8,96.2 L418.6,95.7 L417.2,93.0 L416.3,90.3 L415.4,88.5Z" fill="#67ad27" stroke="#222" stroke-width="0.6" stroke-linejoin="round"/>
<path d="M425.3,82.6 L427.6,80.4 L431.2,79.5 L434.8,80.4 L437.3,81.3 L437.1,84.0 L435.3,86.2 L432.1,87.1 L429.4,87.1 L428.0,85.3 L426.2,84.4Z" fill="#67ad27" stroke="#222" stroke-width="0.6" stroke-linejoin="round"/>
<path d="M136.0,43.5 L137.5,53.8 L145.0,61.3 L155.1,63.8 L165.1,57.5 L168.8,47.5 L169.6,43.5 L197.7,43.5 L198.2,55.0 L195.7,63.8 L191.4,72.6 L183.9,77.6 L177.6,83.9 L175.6,90.1 L180.1,94.6 L188.9,95.6 L195.7,93.9 L190.2,102.7 L183.9,111.4 L176.4,118.9 L170.1,124.0 L167.6,135.2 L165.1,145.3 L163.8,155.3 L160.1,160.3 L155.1,162.8 L145.0,157.8 L135.5,154.8Z" fill="#e1e1e1" stroke="#222" stroke-width="0.6" stroke-linejoin="round"/>
<path d="M212.7,43.8 L205.2,60.1 L203.2,70.1 L201.4,81.4 L200.9,88.9 L204.7,87.6 L207.7,80.1 L211.5,72.6 L210.7,83.9 L216.5,82.6 L222.7,75.1 L230.3,67.1 L233.3,67.6 L230.3,77.6 L235.3,81.4 L241.5,80.1 L245.3,72.6 L250.3,62.6 L257.8,55.0 L262.8,50.0 L266.6,43.8 L240.3,43.8 L237.8,48.8 L230.3,50.5 L222.7,48.8 L220.2,43.8Z" fill="#e1e1e1" stroke="#222" stroke-width="0.6" stroke-linejoin="round"/>
<path d="M135.5,162.8 L145.0,162.8 L151.3,165.3 L147.5,170.3 L141.3,172.8 L142.5,180.4 L145.0,187.1 L137.5,187.0 L140.0,190.8 L138.8,194.5 L135.5,198.3Z" fill="#e1e1e1" stroke="#222" stroke-width="0.6" stroke-linejoin="round"/>
<path d="M500.9,65.1 L504.7,66.3 L505.4,72.6 L503.4,82.6 L504.7,93.9 L508.4,103.9 L513.4,110.2 L523.5,113.2 L522.2,116.4 L515.9,118.2 L509.7,116.4 L504.7,111.4 L500.9,102.7 L498.4,92.6 L497.1,82.6 L498.4,72.6Z" fill="#8a8a8a" stroke="#222" stroke-width="0.6" stroke-linejoin="round"/>
<path d="M512.5,133.2 L515.8,132.9 L517.2,135.2 L515.8,138.5 L513.2,138.8 L511.5,136.1Z" fill="#8a8a8a" stroke="#222" stroke-width="0.6" stroke-linejoin="round"/>
<path d="M527.1,112.6 L530.4,112.0 L533.8,112.9 L532.4,114.6 L528.5,114.3Z" fill="#8a8a8a" stroke="#222" stroke-width="0.6" stroke-linejoin="round"/>
<path d="M413.3,267.3 L417.7,267.7 L418.0,273.0 L414.3,273.7Z" fill="#67ad27" stroke="#222" stroke-width="0.6" stroke-linejoin="round"/>
<path d="M418.5,264.0 L423.3,263.0 L425.5,267.7 L423.8,272.3 L419.7,273.5 L418.5,269.3Z" fill="#67ad27" stroke="#222" stroke-width="0.6" stroke-linejoin="round"/>
<path d="M418.0,274.3 L422.2,274.0 L422.2,275.7 L418.3,276.0Z" fill="#67ad27" stroke="#222" stroke-width="0.6" stroke-linejoin="round"/>
<path d="M433.0,269.7 L434.7,269.0 L435.0,270.7 L433.3,271.0Z" fill="#67ad27" stroke="#222" stroke-width="0.6" stroke-linejoin="round"/>
<path d="M448.0,246.8 L451.3,246.0 L449.7,252.7 L447.7,255.2Z" fill="#8a8a8a" stroke="#222" stroke-width="0.6" stroke-linejoin="round"/>
<path d="M442.2,256.0 L443.3,255.7 L442.2,261.8 L441.0,261.8Z" fill="#8a8a8a" stroke="#222" stroke-width="0.6" stroke-linejoin="round"/>
<path d="M461.7,236.8 L465.0,236.0 L466.7,238.5 L465.0,241.8 L462.5,244.3 L460.8,241.0Z" fill="#8a8a8a" stroke="#222" stroke-width="0.6" stroke-linejoin="round"/>
<path d="M465.0,232.7 L467.5,232.3 L467.5,235.2 L465.3,235.2Z" fill="#8a8a8a" stroke="#222" stroke-width="0.6" stroke-linejoin="round"/>
<path d="M407.5,364.5 L409.9,363.3 L411.5,365.1 L411.7,368.7 L410.5,372.9 L408.7,373.5 L407.1,370.5 L406.6,366.9Z" fill="#de2a26" stroke="#222" stroke-width="0.6" stroke-linejoin="round"/>
<path d="M404.5,376.6 L408.1,375.9 L411.1,376.6 L412.3,379.6 L411.7,384.4 L411.1,389.3 L409.3,391.7 L406.3,391.7 L404.2,388.0 L403.9,383.2 L403.5,379.0Z" fill="#de2a26" stroke="#222" stroke-width="0.6" stroke-linejoin="round"/>
<path d="M429.3,399.9 L432.6,397.9 L437.2,398.6 L441.9,397.9 L445.8,397.0 L447.2,397.9 L446.5,401.9 L445.8,406.5 L443.9,408.5 L439.9,406.5 L435.2,404.5 L431.3,403.2Z" fill="#de2a26" stroke="#222" stroke-width="0.6" stroke-linejoin="round"/>
<path d="M498.2,411.1 L500.8,409.8 L504.8,410.7 L508.8,410.2 L512.8,409.4 L515.2,410.2 L514.1,411.8 L510.1,412.5 L506.1,413.1 L502.2,413.1 L499.3,412.9Z" fill="#de2a26" stroke="#222" stroke-width="0.6" stroke-linejoin="round"/>
<path d="M484.2,394.7 L488.3,394.3 L488.3,396.3 L484.2,396.7Z" fill="#de2a26" stroke="#222" stroke-width="0.6" stroke-linejoin="round"/>
<path d="M369.6,384.8 L372.8,383.3 L376.0,384.8 L374.1,387.6 L371.5,387.1Z" fill="#de2a26" stroke="#222" stroke-width="0.6" stroke-linejoin="round"/>
<path d="M378.2,382.5 L380.7,383.0 L380.5,384.3 L378.4,383.8Z" fill="#de2a26" stroke="#222" stroke-width="0.6" stroke-linejoin="round"/>
<path d="M362.6,388.6 L364.5,389.2 L364.2,391.8 L362.6,391.2Z" fill="#de2a26" stroke="#222" stroke-width="0.6" stroke-linejoin="round"/>
<path d="M460.0,378.0 L461.9,378.5 L463.4,381.4 L462.4,382.9 L460.8,381.4Z" fill="#de2a26" stroke="#222" stroke-width="0.6" stroke-linejoin="round"/>
<path d="M476.0,389.2 L478.0,389.7 L477.5,391.6 L476.0,391.1Z" fill="#de2a26" stroke="#222" stroke-width="0.6" stroke-linejoin="round"/>
<path d="M492.0,385.8 L495.0,387.7 L497.4,389.2 L499.3,390.6 L498.3,391.4 L495.4,389.9 L492.5,387.7Z" fill="#de2a26" stroke="#222" stroke-width="0.6" stroke-linejoin="round"/>
<path d="M551.4,401.6 L553.8,399.7 L556.7,398.2 L560.1,395.8 L562.6,393.8 L563.5,393.3 L562.6,395.8 L560.6,398.2 L558.2,400.6 L555.8,402.6 L553.3,403.5Z" fill="#67ad27" stroke="#222" stroke-width="0.6" stroke-linejoin="round"/>
<path d="M506.7,379.3 L508.7,379.0 L509.0,380.7 L507.0,381.0Z" fill="#fdd282" stroke="#222" stroke-width="0.6" stroke-linejoin="round"/>
<path d="M522.7,398.7 L524.3,398.0 L524.7,400.8 L523.0,401.7Z" fill="#fdd282" stroke="#222" stroke-width="0.6" stroke-linejoin="round"/>
<path d="M500.8,375.9 L503.2,375.6 L503.5,376.8 L501.3,377.0Z" fill="#fdd282" stroke="#222" stroke-width="0.6" stroke-linejoin="round"/>
<path d="M507.1,380.0 L510.5,379.5 L511.0,381.4 L507.6,381.7Z" fill="#fdd282" stroke="#222" stroke-width="0.6" stroke-linejoin="round"/>
<path d="M516.7,395.8 L520.8,395.3 L521.7,397.5 L517.5,398.0Z" fill="#de2a26" stroke="#222" stroke-width="0.6" stroke-linejoin="round"/>
<path d="M493.5,374.1 L495.0,374.6 L494.5,376.1 L493.2,375.6Z" fill="#de2a26" stroke="#222" stroke-width="0.6" stroke-linejoin="round"/>
<path d="M503.3,392.5 L505.0,392.0 L505.3,393.7 L503.7,394.0Z" fill="#67ad27" stroke="#222" stroke-width="0.6" stroke-linejoin="round"/>
<path d="M506.7,395.8 L508.3,395.3 L508.7,397.3 L507.0,397.7Z" fill="#67ad27" stroke="#222" stroke-width="0.6" stroke-linejoin="round"/>
<path d="M511.7,392.5 L513.3,392.0 L513.7,394.0 L512.0,394.3Z" fill="#67ad27" stroke="#222" stroke-width="0.6" stroke-linejoin="round"/>
<path d="M515.3,390.0 L516.7,389.7 L517.0,391.3 L515.7,391.7Z" fill="#67ad27" stroke="#222" stroke-width="0.6" stroke-linejoin="round"/>
<path d="M501.7,391.6 L504.2,392.1 L503.7,393.5 L501.9,393.1Z" fill="#67ad27" stroke="#222" stroke-width="0.6" stroke-linejoin="round"/>
<path d="M510.0,392.1 L511.9,391.6 L512.2,392.8 L510.3,393.3Z" fill="#67ad27" stroke="#222" stroke-width="0.6" stroke-linejoin="round"/>
<path d="M513.9,389.7 L515.8,389.9 L515.3,391.0 L514.0,390.8Z" fill="#67ad27" stroke="#222" stroke-width="0.6" stroke-linejoin="round"/>
<path d="M505.6,396.9 L508.1,396.7 L508.1,398.2 L505.8,398.4Z" fill="#67ad27" stroke="#222" stroke-width="0.6" stroke-linejoin="round"/>
<path d="M508.1,385.3 L509.7,385.0 L509.9,387.7 L508.3,387.9Z" fill="#8a8a8a" stroke="#222" stroke-width="0.6" stroke-linejoin="round"/>
<path d="M498.8,383.8 L500.3,384.0 L500.0,385.6 L498.8,385.3Z" fill="#8a8a8a" stroke="#222" stroke-width="0.6" stroke-linejoin="round"/>
<path d="M495.9,381.4 L497.1,381.7 L496.7,383.1 L495.7,382.7Z" fill="#8a8a8a" stroke="#222" stroke-width="0.6" stroke-linejoin="round"/>
<path d="M235.3,441.3 L240.3,440.3 L239.3,443.3 L236.3,443.8Z" fill="#67ad27" stroke="#222" stroke-width="0.6" stroke-linejoin="round"/>
<path d="M241.0,445.0 L244.0,445.0 L244.0,448.0 L241.0,448.0Z" fill="#67ad27" stroke="#222" stroke-width="0.6" stroke-linejoin="round"/>
<path d="M251.1,447.3 L255.3,443.8 L259.1,441.8 L258.3,444.3 L254.1,448.0Z" fill="#67ad27" stroke="#222" stroke-width="0.6" stroke-linejoin="round"/>
<path d="M231.5,441.0 L233.5,441.0 L233.5,442.5 L231.5,442.5Z" fill="#67ad27" stroke="#222" stroke-width="0.6" stroke-linejoin="round"/>
<path d="M225.7,441.8 L227.7,441.8 L227.7,442.8 L225.7,442.8Z" fill="#67ad27" stroke="#222" stroke-width="0.6" stroke-linejoin="round"/>
<path d="M229.0,434.8 L230.8,434.3 L231.0,436.8 L229.2,437.3Z" fill="#fdd282" stroke="#222" stroke-width="0.6" stroke-linejoin="round"/>
<path d="M241.8,407.4 L244.8,408.7 L244.3,409.9 L241.8,408.9Z" fill="#de2a26" stroke="#222" stroke-width="0.6" stroke-linejoin="round"/>
<path d="M194.2,336.5 L197.7,338.0 L197.2,339.5 L194.2,338.0Z" fill="#8a8a8a" stroke="#222" stroke-width="0.6" stroke-linejoin="round"/>
<path d="M198.9,338.5 L200.7,339.5 L200.2,340.5Z" fill="#8a8a8a" stroke="#222" stroke-width="0.6" stroke-linejoin="round"/>
<path d="M202.2,340.3 L203.9,341.0 L203.2,342.0Z" fill="#8a8a8a" stroke="#222" stroke-width="0.6" stroke-linejoin="round"/>
<path d="M206.7,350.5 L210.7,352.0 L210.2,353.5 L206.7,352.0Z" fill="#8a8a8a" stroke="#222" stroke-width="0.6" stroke-linejoin="round"/>
<path d="M207.7,358.1 L209.2,358.1 L209.2,359.6 L207.7,359.6Z" fill="#8a8a8a" stroke="#222" stroke-width="0.6" stroke-linejoin="round"/>
<path d="M155.1,497.0 L158.1,498.7 L157.6,500.2 L155.1,498.7Z" fill="#8a8a8a" stroke="#222" stroke-width="0.6" stroke-linejoin="round"/>
<path d="M160.1,502.2 L163.1,503.8 L162.6,504.8Z" fill="#8a8a8a" stroke="#222" stroke-width="0.6" stroke-linejoin="round"/>
<path d="M169.6,510.3 L171.6,510.3 L171.6,512.8 L169.6,512.8Z" fill="#8a8a8a" stroke="#222" stroke-width="0.6" stroke-linejoin="round"/>
<path d="M162.1,514.5 L165.1,515.3 L164.6,517.0 L162.1,516.3Z" fill="#8a8a8a" stroke="#222" stroke-width="0.6" stroke-linejoin="round"/>
<path d="M154.1,513.5 L157.6,514.0 L157.1,515.0Z" fill="#8a8a8a" stroke="#222" stroke-width="0.6" stroke-linejoin="round"/>
<path d="M737.7,497.0 L742.7,494.5 L745.2,495.2 L744.0,498.2 L739.0,500.2Z" fill="#e1e1e1" stroke="#222" stroke-width="0.6" stroke-linejoin="round"/>
<path d="M686.7,415.5 L689.2,414.7 L690.9,419.2 L689.7,423.7 L687.2,422.2Z" fill="#e1e1e1" stroke="#222" stroke-width="0.6" stroke-linejoin="round"/>
<path d="M464.4,52.2 L465.7,51.9 L465.7,53.0 L464.5,53.2Z" fill="#8a8a8a" stroke="#222" stroke-width="0.6" stroke-linejoin="round"/>
<path d="M463.8,64.2 L466.4,63.7 L466.5,65.9 L464.0,66.3Z" fill="#8a8a8a" stroke="#222" stroke-width="0.6" stroke-linejoin="round"/>
<path d="M469.0,53.0 L471.2,52.6 L471.3,54.4 L469.2,54.7Z" fill="#8a8a8a" stroke="#222" stroke-width="0.6" stroke-linejoin="round"/>
<path d="M471.0,62.7 L473.7,62.2 L473.8,64.5 L471.3,64.9Z" fill="#8a8a8a" stroke="#222" stroke-width="0.6" stroke-linejoin="round"/>
<path d="M469.7,52.6 L471.5,52.3 L471.6,53.8 L469.9,54.1Z" fill="#8a8a8a" stroke="#222" stroke-width="0.6" stroke-linejoin="round"/>
<path d="M466.8,61.1 L469.6,60.6 L469.7,62.9 L467.1,63.3Z" fill="#8a8a8a" stroke="#222" stroke-width="0.6" stroke-linejoin="round"/>
<path d="M470.5,50.8 L472.8,50.3 L472.9,52.2 L470.8,52.6Z" fill="#8a8a8a" stroke="#222" stroke-width="0.6" stroke-linejoin="round"/>
<path d="M468.1,57.8 L469.6,57.5 L469.6,58.8 L468.2,59.0Z" fill="#8a8a8a" stroke="#222" stroke-width="0.6" stroke-linejoin="round"/>
<path d="M464.6,50.6 L467.5,50.0 L467.7,52.5 L464.9,52.9Z" fill="#8a8a8a" stroke="#222" stroke-width="0.6" stroke-linejoin="round"/>
<path d="M470.6,58.4 L472.4,58.1 L472.4,59.6 L470.8,59.8Z" fill="#8a8a8a" stroke="#222" stroke-width="0.6" stroke-linejoin="round"/>
<path d="M470.7,58.5 L473.5,58.0 L473.6,60.3 L471.0,60.7Z" fill="#8a8a8a" stroke="#222" stroke-width="0.6" stroke-linejoin="round"/>
<path d="M470.3,57.7 L472.2,57.3 L472.3,59.0 L470.5,59.3Z" fill="#8a8a8a" stroke="#222" stroke-width="0.6" stroke-linejoin="round"/>
<path d="M467.1,56.6 L468.6,56.3 L468.6,57.6 L467.2,57.8Z" fill="#8a8a8a" stroke="#222" stroke-width="0.6" stroke-linejoin="round"/>
<path d="M726.5,43.8 L725.2,50.0 L718.9,52.5 L713.9,58.8 L710.2,65.1 L715.2,70.1 L722.7,75.1 L725.2,80.1 L722.7,88.9 L716.4,92.6 L712.7,100.2 L713.9,112.7 L716.4,126.5" fill="none" stroke="#333" stroke-width="0.5" stroke-linejoin="round"/>
<path d="M716.0,126.5 L729.8,120.2 L738.5,120.2 L747.3,126.5 L753.6,115.2 L762.4,107.2 L773.6,107.2 L778.6,90.1 L782.4,77.6 L788.7,63.8 L786.2,52.5 L784.9,43.8" fill="none" stroke="#333" stroke-width="0.5" stroke-linejoin="round"/>
<path d="M716.4,126.5 L711.4,129.0 L710.2,134.0 L701.4,135.2 L696.4,137.7 L695.1,145.3 L690.1,146.5 L688.9,150.3 L661.3,148.3 L660.0,151.5 L658.8,160.3 L653.8,162.8 L648.8,166.6 L641.2,164.1 L635.0,170.3 L631.2,180.4 L628.7,187.1" fill="none" stroke="#333" stroke-width="0.5" stroke-linejoin="round"/>
<path d="M716.4,129.0 L718.9,136.5 L725.2,142.8 L725.2,149.0 L721.4,155.3 L725.2,161.6 L731.5,167.8 L727.7,176.6 L734.0,182.9 L739.0,187.1" fill="none" stroke="#333" stroke-width="0.5" stroke-linejoin="round"/>
<path d="M739.8,187.0 L744.3,193.3 L743.6,207.1 L739.8,217.1 L737.3,227.1 L737.3,237.1 L732.3,244.6 L726.0,252.2 L721.0,255.9 L718.5,249.7 L719.7,243.4 L727.3,240.9 L729.8,233.4 L722.3,234.6 L719.7,240.9 L714.7,239.6 L712.7,232.1 L718.5,224.6 L721.0,214.6 L727.3,208.3 L732.3,199.5 L739.8,193.3" fill="none" stroke="#333" stroke-width="0.5" stroke-linejoin="round"/>
<path d="M674.6,260.9 L680.9,252.2 L687.2,248.4 L694.7,250.9 L699.7,255.9 L707.2,254.7 L712.2,252.2 L713.5,245.9 L712.7,233.4" fill="none" stroke="#333" stroke-width="0.5" stroke-linejoin="round"/>
<path d="M678.4,272.2 L680.9,279.7 L692.2,281.0 L707.2,280.2 L721.0,278.5 L727.3,274.7 L732.3,267.2 L733.5,257.2 L739.8,255.9 L744.8,260.9 L747.3,252.2 L752.3,245.9 L744.8,238.4 L737.8,237.1" fill="none" stroke="#333" stroke-width="0.5" stroke-linejoin="round"/>
<path d="M721.0,278.5 L717.2,286.0 L716.7,297.3 L712.7,307.3 L711.0,312.3 L707.2,313.6 L702.2,308.6" fill="none" stroke="#333" stroke-width="0.5" stroke-linejoin="round"/>
<path d="M707.2,313.6 L709.7,322.3 L711.0,334.1" fill="none" stroke="#333" stroke-width="0.5" stroke-linejoin="round"/>
<path d="M752.3,245.9 L758.6,243.4 L767.4,243.4 L774.9,238.4 L776.1,230.9 L782.4,227.1 L786.2,233.4 L787.4,240.9 L794.9,245.9 L792.4,250.9 L786.2,253.4 L782.4,259.7 L782.4,271.0 L772.4,273.5 L764.9,267.2 L762.4,259.7 L753.6,260.9 L752.3,252.2 L752.3,245.9" fill="none" stroke="#333" stroke-width="0.5" stroke-linejoin="round"/>
<path d="M747.3,262.2 L749.8,269.7 L753.6,279.7 L752.3,287.3 L756.1,297.3 L758.6,306.0 L754.8,317.3 L753.6,334.1" fill="none" stroke="#333" stroke-width="0.5" stroke-linejoin="round"/>
<path d="M782.4,271.0 L784.9,282.2 L787.4,294.8 L787.4,307.3 L783.7,319.8 L782.4,334.1" fill="none" stroke="#333" stroke-width="0.5" stroke-linejoin="round"/>
<path d="M794.9,250.9 L802.5,255.9 L810.0,253.4 L815.0,252.2 L818.7,262.2" fill="none" stroke="#333" stroke-width="0.5" stroke-linejoin="round"/>
<path d="M815.0,252.2 L815.0,245.9 L818.7,244.1" fill="none" stroke="#333" stroke-width="0.5" stroke-linejoin="round"/>
<path d="M706.4,311.1 L712.7,322.3 L716.4,334.1" fill="none" stroke="#333" stroke-width="0.5" stroke-linejoin="round"/>
<path d="M716.0,334.0 L723.5,340.3 L728.5,351.5 L737.3,347.8 L746.1,355.3 L752.3,361.6 L747.3,371.6 L749.8,379.1" fill="none" stroke="#333" stroke-width="0.5" stroke-linejoin="round"/>
<path d="M728.5,351.5 L739.8,346.5 L751.1,334.0" fill="none" stroke="#333" stroke-width="0.5" stroke-linejoin="round"/>
<path d="M711.0,334.0 L709.7,324.0" fill="none" stroke="#333" stroke-width="0.5" stroke-linejoin="round"/>
<path d="M753.6,334.0 L754.8,326.5 L758.6,315.2" fill="none" stroke="#333" stroke-width="0.5" stroke-linejoin="round"/>
<path d="M782.4,334.0 L783.7,324.0" fill="none" stroke="#333" stroke-width="0.5" stroke-linejoin="round"/>
<path d="M616.2,357.8 L626.2,364.1 L630.0,376.6 L636.2,381.6 L646.3,384.1 L653.8,394.2 L660.0,396.7" fill="none" stroke="#333" stroke-width="0.5" stroke-linejoin="round"/>
<path d="M598.6,406.7 L621.2,409.2 L640.0,414.2 L651.3,409.2 L653.8,400.4 L660.0,396.7" fill="none" stroke="#333" stroke-width="0.5" stroke-linejoin="round"/>
<path d="M651.3,409.2 L660.0,406.7 L662.5,407.9" fill="none" stroke="#333" stroke-width="0.5" stroke-linejoin="round"/>
<path d="M695.9,426.2 L704.7,431.2 L721.0,423.0 L718.5,411.7" fill="none" stroke="#333" stroke-width="0.5" stroke-linejoin="round"/>
<path d="M721.0,423.0 L726.0,424.2 L728.5,440.5 L722.3,451.8 L712.2,461.8 L697.2,473.1 L689.7,481.1" fill="none" stroke="#333" stroke-width="0.5" stroke-linejoin="round"/>
<path d="M712.2,461.8 L725.3,471.8" fill="none" stroke="#333" stroke-width="0.5" stroke-linejoin="round"/>
<path d="M657.5,509.5 L658.8,499.5 L671.3,494.5 L683.8,491.2 L690.1,481.9 L701.4,470.7 L712.7,461.1" fill="none" stroke="#333" stroke-width="0.5" stroke-linejoin="round"/>
<path d="M612.4,341.5 L618.7,339.0 L628.7,334.0" fill="none" stroke="#333" stroke-width="0.5" stroke-linejoin="round"/>
<path d="M297.9,484.5 L297.4,550.9" fill="none" stroke="#333" stroke-width="0.5" stroke-linejoin="round"/>
<path d="M297.9,484.5 L309.2,485.7" fill="none" stroke="#333" stroke-width="0.5" stroke-linejoin="round"/>
<path d="M216.5,527.1 L225.2,527.1 L232.8,530.8 L237.8,538.3 L241.5,545.9 L247.8,547.9" fill="none" stroke="#333" stroke-width="0.5" stroke-linejoin="round"/>
<path d="M208.9,547.1 L222.7,547.9" fill="none" stroke="#333" stroke-width="0.5" stroke-linejoin="round"/>
<path d="M370.6,537.1 L370.6,550.9" fill="none" stroke="#333" stroke-width="0.5" stroke-linejoin="round"/>
<path d="M450.8,508.3 L454.5,520.8 L457.0,528.3 L456.3,550.9" fill="none" stroke="#333" stroke-width="0.5" stroke-linejoin="round"/>
<path d="M517.9,525.8 L519.0,550.9" fill="none" stroke="#333" stroke-width="0.5" stroke-linejoin="round"/>
<path d="M546.0,502.0 L581.1,493.7 L606.2,487.0" fill="none" stroke="#333" stroke-width="0.5" stroke-linejoin="round"/>
<path d="M621.2,510.8 L616.2,519.5 L614.9,528.3 L616.2,539.6 L621.2,539.6 L631.2,534.6 L638.7,530.8 L646.3,529.6 L653.8,533.3 L660.0,538.3 L661.3,543.4 L658.8,550.9" fill="none" stroke="#333" stroke-width="0.5" stroke-linejoin="round"/>
<path d="M614.9,539.6 L613.7,550.9" fill="none" stroke="#333" stroke-width="0.5" stroke-linejoin="round"/>
<path d="M660.0,538.3 L666.3,535.8" fill="none" stroke="#333" stroke-width="0.5" stroke-linejoin="round"/>
<path d="M257.8,453.1 L270.4,456.1 L287.9,461.1 L292.9,454.4 L305.4,450.6 L320.5,444.4 L328.0,438.1 L338.0,434.3" fill="none" stroke="#333" stroke-width="0.5" stroke-linejoin="round"/>
<path d="M287.9,461.1 L338.0,511.3" fill="none" stroke="#333" stroke-width="0.5" stroke-linejoin="round"/>
<path d="M219.7,491.2 L247.8,498.2 L251.6,487.0 L260.3,483.7 L264.1,468.7 L285.4,473.2 L287.4,461.9" fill="none" stroke="#333" stroke-width="0.5" stroke-linejoin="round"/>
<path d="M411.9,456.9 L413.2,468.2 L410.7,485.7 L415.7,497.0 L423.2,500.7 L428.2,507.0" fill="none" stroke="#333" stroke-width="0.5" stroke-linejoin="round"/>
<path d="M512.2,435.6 L515.9,465.7 L522.2,505.8 L524.7,522.8" fill="none" stroke="#333" stroke-width="0.5" stroke-linejoin="round"/>
<path d="M338.0,508.3 L350.5,520.8 L364.3,537.1 L370.6,537.1 L388.1,533.3 L405.7,520.8 L428.2,507.0 L444.5,512.5 L450.8,508.3 L457.0,507.0 L480.9,514.5 L517.2,525.8 L524.7,522.8" fill="none" stroke="#333" stroke-width="0.5" stroke-linejoin="round"/>
<path d="M405.7,406.8 L403.7,409.3 L404.4,415.5 L403.2,423.1 L399.4,428.1 L400.7,434.3 L405.7,440.6 L409.4,446.9 L411.9,456.9 L415.7,451.9 L418.2,444.4 L423.2,441.8 L424.5,436.8" fill="none" stroke="#333" stroke-width="0.5" stroke-linejoin="round"/>
<path d="M338.0,418.0 L341.8,421.8 L342.5,435.6 L338.0,436.8" fill="none" stroke="#333" stroke-width="0.5" stroke-linejoin="round"/>
<path d="M643.7,269.7 L652.5,260.9 L663.8,260.9 L675.1,260.9" fill="none" stroke="#333" stroke-width="0.5" stroke-linejoin="round"/>
<path d="M643.7,269.7 L650.0,279.7 L656.3,289.8 L661.3,296.0 L666.3,287.3 L663.8,281.0 L668.8,278.5 L676.3,281.0 L681.3,281.7" fill="none" stroke="#333" stroke-width="0.5" stroke-linejoin="round"/>
</g>
</svg>
<!-- frame -->
<div class="ln" style="left:11px;top:11px;width:808px;height:1px"></div>
<div class="ln" style="left:11px;top:576px;width:808px;height:1px"></div>
<div class="ln" style="left:11px;top:11px;width:1px;height:566px"></div>
<div class="ln" style="left:818px;top:11px;width:1px;height:566px"></div>
<div class="ln" style="left:135px;top:11px;width:1px;height:537px"></div>
<div class="ln" style="left:11px;top:43px;width:808px;height:1px"></div>
<div class="ln" style="left:11px;top:191px;width:125px;height:1px"></div>
<div class="ln" style="left:11px;top:548px;width:808px;height:1px"></div>
<div class="title"><i>Aedes invasive mosquitoes</i>, February 2023</div>
<!-- logos -->
<svg class="abs" style="left:20px;top:10px" width="110" height="36" viewBox="0 0 830 272">
 <g>
 <path d="M95,60 Q145,30 200,55 Q215,90 195,120 Q150,140 100,125 Q75,95 95,60Z" fill="#b5dc96"/>
 <path d="M100,70 Q150,50 205,72 M90,100 Q145,85 208,100 M120,48 Q105,90 125,130 M160,42 Q155,90 165,133 M190,52 Q200,95 190,122 M95,60 Q145,30 200,55 Q215,90 195,120 Q150,140 100,125 Q75,95 95,60Z" fill="none" stroke="#3b6f86" stroke-width="5"/>
 <text x="116" y="186" font-family="Liberation Serif" font-size="86" fill="#2a5a8f" letter-spacing="-5" textLength="172" lengthAdjust="spacingAndGlyphs">ec<tspan fill="#58a83c">d</tspan>c</text>
 <path d="M222,128 Q225,100 246,98 Q240,118 226,124" fill="#58a83c"/>
 <rect x="118" y="198" width="37" height="27" fill="#2b459c"/>
 <rect x="163" y="200" width="120" height="5" fill="#a9b4c4"/><rect x="163" y="210" width="100" height="5" fill="#a9b4c4"/><rect x="163" y="219" width="70" height="4" fill="#a9b4c4"/>
 </g>
 <g fill="#f08a2a"><circle cx="376" cy="68" r="11"/><circle cx="371" cy="101" r="10"/><circle cx="395" cy="128" r="8"/><circle cx="416" cy="58" r="8"/><circle cx="445" cy="62" r="6"/><circle cx="470" cy="76" r="5"/><circle cx="490" cy="96" r="4.5"/><circle cx="425" cy="146" r="5.5"/><circle cx="455" cy="151" r="4.5"/></g>
 <text x="476" y="178" font-family="Liberation Sans" font-weight="bold" font-size="100" fill="#2b3f9e" letter-spacing="-6" textLength="186" lengthAdjust="spacingAndGlyphs">efsa</text>
 <rect x="678" y="143" width="52" height="37" fill="#2b3f9e"/>
 <text x="355" y="221" font-family="Liberation Sans" font-size="24" fill="#2b3f9e" font-weight="bold" textLength="373" lengthAdjust="spacingAndGlyphs">European Food Safety Authority</text>
</svg>
<!-- legend -->
<div class="leg-h">Legend</div>
<div class="sw" style="top:68px;background:#de2a26"></div><div class="lb" style="top:67px">Established</div>
<div class="sw" style="top:87.4px;background:#fdd282"></div><div class="lb" style="top:86.4px">Introduced</div>
<div class="sw" style="top:106.6px;background:#67ad27"></div><div class="lb" style="top:105.6px">Absent</div>
<div class="sw" style="top:126px;background:#8a8a8a"></div><div class="lb" style="top:125px">No data</div>
<div class="sw" style="top:145px;background:#b4b4b4"></div><div class="lb" style="top:144px">Unknown</div>
<div class="h2">Countries/Regions<br>not viewable in the<br>main map extent*</div>
<!--INSETS--><svg class="abs" style="left:17.5px;top:251.2px" width="44" height="25.5" viewBox="0 0 190 111" preserveAspectRatio="none"><rect x="0" y="0" width="100%" height="100%" fill="#fff"/><path d="M35,15L57,9L75,18L67,35L45,33Z" fill="#67ad27" stroke="#333" stroke-width="2.2"/><path d="M80,48L102,45L147,78L139,95L107,91L87,73Z" fill="#de2a26" stroke="#333" stroke-width="2.2"/><rect x="0.5" y="0.5" width="189.0" height="110.0" fill="none" stroke="#8a8a8a" stroke-width="3.454545454545455"/></svg>
<svg class="abs" style="left:17.5px;top:283.4px" width="44" height="25.5" viewBox="0 0 190 111" preserveAspectRatio="none"><rect x="0" y="0" width="100%" height="100%" fill="#fff"/><path d="M0,0L172,3L132,18L97,58L67,98L57,111L0,111Z" fill="#de2a26"/><path d="M132,8L100,45L62,73L55,95L65,103L97,58L132,18Z" fill="#de2a26" stroke="#222" stroke-width="2.2"/><rect x="0.5" y="0.5" width="189.0" height="110.0" fill="none" stroke="#8a8a8a" stroke-width="3.454545454545455"/></svg>
<svg class="abs" style="left:17.5px;top:317px" width="44" height="25.5" viewBox="0 0 190 111" preserveAspectRatio="none"><rect x="0" y="0" width="100%" height="100%" fill="#de2a26"/><path d="M64,59L122,27L127,87L67,107Z M127,87L152,112 M0,42Q14,25 22,0" fill="none" stroke="#222" stroke-width="2.2"/><rect x="0.5" y="0.5" width="189.0" height="110.0" fill="none" stroke="#8a8a8a" stroke-width="3.454545454545455"/></svg>
<svg class="abs" style="left:17.5px;top:349.9px" width="44" height="25.5" viewBox="0 0 190 111" preserveAspectRatio="none"><rect x="0" y="0" width="100%" height="100%" fill="#fff"/><path d="M0,0L147,0L117,34L92,29L0,64Z" fill="#de2a26"/><path d="M92,29L117,34L92,99Z" fill="#de2a26" stroke="#222" stroke-width="2.2"/><rect x="0.5" y="0.5" width="189.0" height="110.0" fill="none" stroke="#8a8a8a" stroke-width="3.454545454545455"/></svg>
<svg class="abs" style="left:17.5px;top:381.4px" width="44" height="25.5" viewBox="0 0 151 88" preserveAspectRatio="none"><rect x="0" y="0" width="100%" height="100%" fill="#de2a26"/><path d="M73,3L93,48L91,78L108,83L55,81L63,43Z M73,3L91,78" fill="none" stroke="#222" stroke-width="1.7"/><rect x="0.5" y="0.5" width="150.0" height="87.0" fill="none" stroke="#8a8a8a" stroke-width="2.7454545454545456"/></svg>
<svg class="abs" style="left:17.5px;top:413.2px" width="44" height="25.5" viewBox="0 0 151 88" preserveAspectRatio="none"><rect x="0" y="0" width="100%" height="100%" fill="#fff"/><g fill="#828282" stroke="#444" stroke-width="1.4"><ellipse cx="25" cy="28" rx="5" ry="4"/><path d="M33,40L40,38L55,60L48,64Z"/><path d="M62,38L66,37L78,62L74,64Z"/><ellipse cx="85" cy="16" rx="2.5" ry="3.5"/><ellipse cx="121" cy="70" rx="11" ry="7" transform="rotate(35 121 70)"/></g><rect x="0.5" y="0.5" width="150.0" height="87.0" fill="none" stroke="#8a8a8a" stroke-width="2.7454545454545456"/></svg>
<svg class="abs" style="left:17.5px;top:445.1px" width="44" height="25.5" viewBox="0 0 151 88" preserveAspectRatio="none"><rect x="0" y="0" width="100%" height="100%" fill="#fff"/><g stroke="#333" stroke-width="1.2"><ellipse cx="23" cy="24" rx="2.5" ry="4" fill="#fdd282"/><g fill="#67ad27"><circle cx="11" cy="50" r="1.8"/><ellipse cx="35" cy="48" rx="3.5" ry="2.5"/><path d="M46,46L66,44L62,54L52,57Z"/><circle cx="76" cy="68" r="6"/><path d="M108,73L122,55L143,48L138,60L120,74Z"/></g></g><rect x="0.5" y="0.5" width="150.0" height="87.0" fill="none" stroke="#8a8a8a" stroke-width="2.7454545454545456"/></svg>
<svg class="abs" style="left:17.5px;top:479.2px" width="44" height="25.5" viewBox="0 0 151 88" preserveAspectRatio="none"><rect x="0" y="0" width="100%" height="100%" fill="#fff"/><path d="M25,18L38,5L53,12L68,25L98,35L118,65L98,80L68,70L38,45L28,30Z" fill="#de2a26" stroke="#333" stroke-width="1.7"/><rect x="0.5" y="0.5" width="150.0" height="87.0" fill="none" stroke="#8a8a8a" stroke-width="2.7454545454545456"/></svg>
<svg class="abs" style="left:17.5px;top:511.1px" width="44" height="25.5" viewBox="0 0 151 88" preserveAspectRatio="none"><rect x="0" y="0" width="100%" height="100%" fill="#fff"/><path d="M18,60L48,45L73,40L98,20L131,13L128,35L108,55L73,52L48,65L21,78Z" fill="#828282" stroke="#444" stroke-width="1.7"/><rect x="0.5" y="0.5" width="150.0" height="87.0" fill="none" stroke="#8a8a8a" stroke-width="2.7454545454545456"/></svg>
<div class="bl" style="top:258.2px;left:70.5px">Malta</div>
<div class="bl" style="top:290.4px;left:70.5px">Monaco</div>
<div class="bl" style="top:324.0px;left:70.5px">San Marino</div>
<div class="bl" style="top:356.9px;left:70.5px">Gibraltar</div>
<div class="bl" style="top:388.4px;left:70.5px">Liechtenstein</div>
<div class="bl" style="top:420.2px;left:70.5px">Azores (PT)</div>
<div class="bl" style="top:486.2px;left:70.5px">Madeira (PT)</div>
<div class="bl" style="top:518.1px;left:63.6px">Jan Mayen (NO)</div>
<div class="bl" style="top:445.7px;left:64px;width:76px;text-align:center;line-height:11.6px">Canary Islands<br>(ES)</div><!--/INSETS-->
<div class="ft" style="top:554.5px;font-size:7.06px">ECDC and EFSA, map produced on 7 Feb 2023. Data presented in this map are collected by the VectorNet project. Maps are validated by external experts prior to publication. Please note that the depicted data do not reflect the official views of the countries.</div>
<div class="ft" style="top:563.3px;font-size:7.0px">* Countries/Regions are displayed at different scales to facilitate their visualisation.The boundaries and names shown on this map do not imply official endorsement or acceptance by the European Union.Administrative boundaries © EuroGeographics, UNFAO.</div>
</body></html>
